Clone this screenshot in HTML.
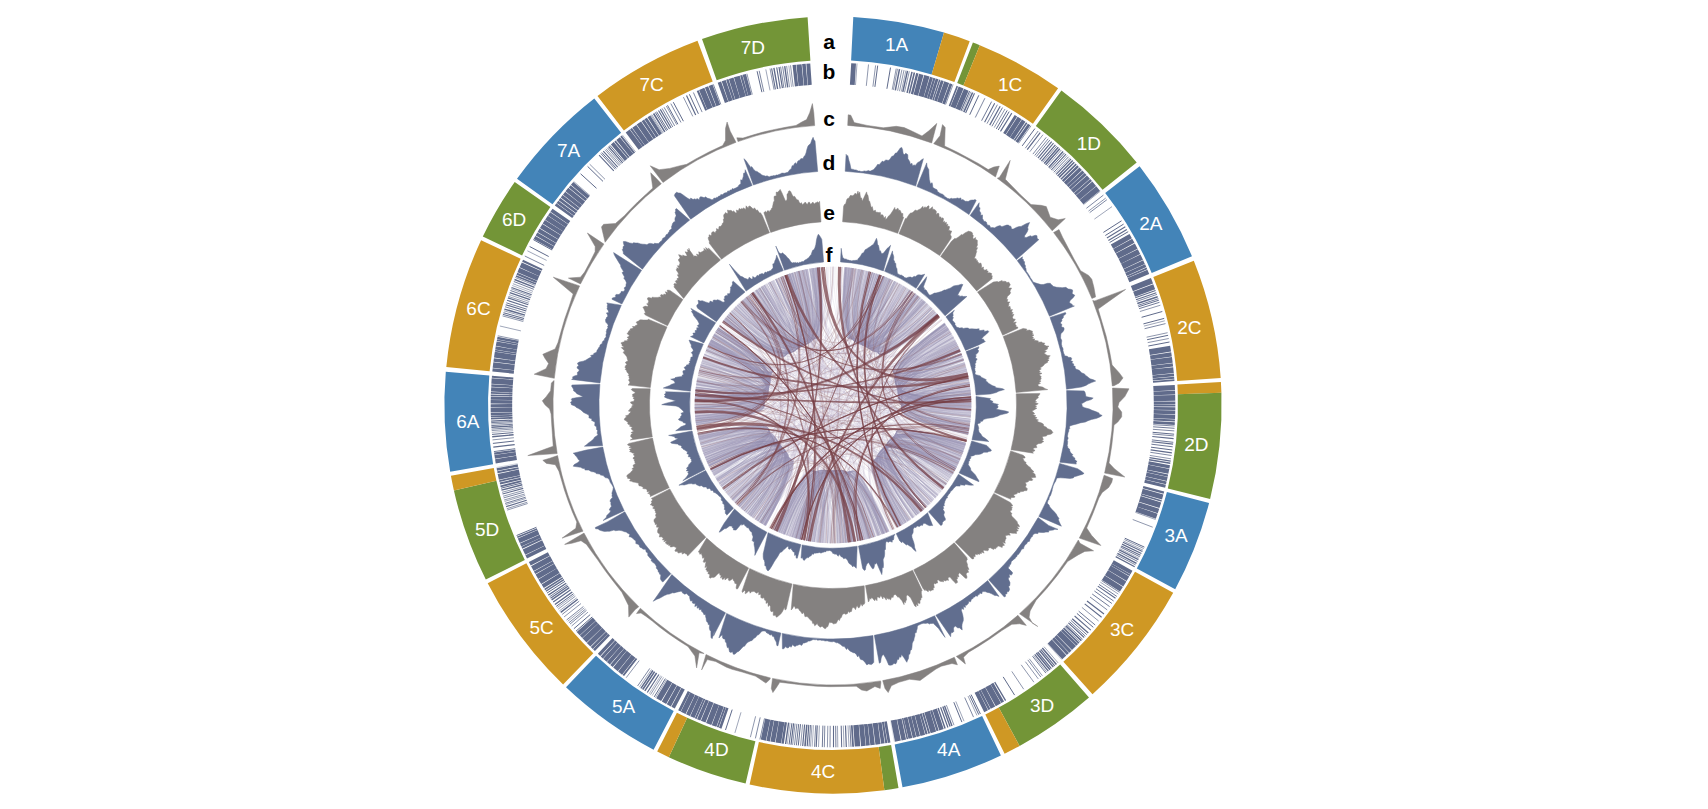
<!DOCTYPE html><html><head><meta charset="utf-8"><title>Circos</title><style>html,body{margin:0;padding:0;background:#fff}svg{display:block}.lb text{font-family:"Liberation Sans",Arial,sans-serif;font-size:19px;fill:#fff;text-anchor:middle;stroke-width:0px;stroke:none}.tl text{font-family:"Liberation Sans",Arial,sans-serif;font-size:21px;font-weight:bold;fill:#000;text-anchor:middle}</style></head><body><svg width="1708" height="809" viewBox="0 0 1708 809">
<rect width="1708" height="809" fill="#fff"/>
<path d="M853.3 16.9A388.6 388.6 0 0 1 944 32.6L931.6 74.4A345 345 0 0 0 851.1 60.5Z" fill="#4384b8"/>
<path d="M944 32.6A388.6 388.6 0 0 1 969.7 41.2L954.4 82.1A345 345 0 0 0 931.6 74.4Z" fill="#cf9824"/>
<path d="M972.9 42.5A388.6 388.6 0 0 1 979.8 45.2L963.4 85.6A345 345 0 0 0 957.2 83.1Z" fill="#739537"/>
<path d="M979.8 45.2A388.6 388.6 0 0 1 1058.1 88.2L1032.9 123.8A345 345 0 0 0 963.4 85.6Z" fill="#cf9824"/>
<path d="M1061.4 90.6A388.6 388.6 0 0 1 1136.7 162.6L1102.6 189.8A345 345 0 0 0 1035.8 125.9Z" fill="#739537"/>
<path d="M1139.6 166.3A388.6 388.6 0 0 1 1192 256.3L1151.7 273A345 345 0 0 0 1105.2 193.1Z" fill="#4384b8"/>
<path d="M1193.8 260.7A388.6 388.6 0 0 1 1220.7 377.9L1177.2 380.9A345 345 0 0 0 1153.3 276.9Z" fill="#cf9824"/>
<path d="M1220.9 382A388.6 388.6 0 0 1 1221.4 392.8L1177.8 394.2A345 345 0 0 0 1177.4 384.5Z" fill="#cf9824"/>
<path d="M1221.4 392.8A388.6 388.6 0 0 1 1210.1 499L1167.8 488.5A345 345 0 0 0 1177.8 394.2Z" fill="#739537"/>
<path d="M1209.1 503A388.6 388.6 0 0 1 1175.2 589.2L1136.8 568.6A345 345 0 0 0 1166.9 492Z" fill="#4384b8"/>
<path d="M1173.2 592.8A388.6 388.6 0 0 1 1092.5 694.2L1063.4 661.8A345 345 0 0 0 1135 571.7Z" fill="#cf9824"/>
<path d="M1089 697.4A388.6 388.6 0 0 1 1019.6 745.9L998.7 707.6A345 345 0 0 0 1060.2 664.6Z" fill="#739537"/>
<path d="M1019.6 745.9A388.6 388.6 0 0 1 1004.6 753.7L985.3 714.6A345 345 0 0 0 998.7 707.6Z" fill="#cf9824"/>
<path d="M1000.9 755.5A388.6 388.6 0 0 1 902.5 787.3L894.7 744.4A345 345 0 0 0 982.1 716.1Z" fill="#4384b8"/>
<path d="M898.5 788A388.6 388.6 0 0 1 884.4 790.2L878.6 747A345 345 0 0 0 891.1 745.1Z" fill="#739537"/>
<path d="M884.4 790.2A388.6 388.6 0 0 1 749.6 784.5L758.9 742A345 345 0 0 0 878.6 747Z" fill="#cf9824"/>
<path d="M745.6 783.6A388.6 388.6 0 0 1 668.8 757.2L687.2 717.7A345 345 0 0 0 755.4 741.2Z" fill="#739537"/>
<path d="M668.8 757.2A388.6 388.6 0 0 1 657.2 751.6L676.9 712.7A345 345 0 0 0 687.2 717.7Z" fill="#cf9824"/>
<path d="M653.6 749.7A388.6 388.6 0 0 1 566 687.3L596 655.7A345 345 0 0 0 673.7 711Z" fill="#4384b8"/>
<path d="M563.1 684.5A388.6 388.6 0 0 1 487.7 583.2L526.4 563.2A345 345 0 0 0 593.3 653.2Z" fill="#cf9824"/>
<path d="M485.8 579.6A388.6 388.6 0 0 1 453.9 490.4L496.4 480.8A345 345 0 0 0 524.8 560Z" fill="#739537"/>
<path d="M453.9 490.4A388.6 388.6 0 0 1 450.9 475.8L493.8 467.9A345 345 0 0 0 496.4 480.8Z" fill="#cf9824"/>
<path d="M450.2 471.8A388.6 388.6 0 0 1 445.8 371.8L489.3 375.5A345 345 0 0 0 493.1 464.3Z" fill="#4384b8"/>
<path d="M446.3 367.1A388.6 388.6 0 0 1 481.1 240.2L520.6 258.7A345 345 0 0 0 489.6 371.3Z" fill="#cf9824"/>
<path d="M482.8 236.5A388.6 388.6 0 0 1 514.7 182.1L550.4 207.1A345 345 0 0 0 522.1 255.4Z" fill="#739537"/>
<path d="M517 178.8A388.6 388.6 0 0 1 594.3 98.4L621.1 132.8A345 345 0 0 0 552.5 204.2Z" fill="#4384b8"/>
<path d="M597.5 95.9A388.6 388.6 0 0 1 697.5 40.8L712.7 81.6A345 345 0 0 0 623.9 130.6Z" fill="#cf9824"/>
<path d="M702 39.1A388.6 388.6 0 0 1 807.6 17.2L810.4 60.7A345 345 0 0 0 716.7 80.2Z" fill="#739537"/>
<g class="lb">
<text x="896.6" y="51.2">1A</text>
<text x="1010.2" y="91.3">1C</text>
<text x="1088.8" y="150.3">1D</text>
<text x="1150.8" y="229.9">2A</text>
<text x="1189.4" y="334">2C</text>
<text x="1196.3" y="450.7">2D</text>
<text x="1176.1" y="541.6">3A</text>
<text x="1122.1" y="636.1">3C</text>
<text x="1042.2" y="711.9">3D</text>
<text x="948.7" y="756.4">4A</text>
<text x="823.1" y="777.6">4C</text>
<text x="716.5" y="756.4">4D</text>
<text x="623.5" y="712.9">5A</text>
<text x="541.7" y="633.6">5C</text>
<text x="487.1" y="536.1">5D</text>
<text x="467.9" y="428">6A</text>
<text x="478.5" y="315">6C</text>
<text x="514.1" y="226.4">6D</text>
<text x="568.6" y="157.4">7A</text>
<text x="651.7" y="91.3">7C</text>
<text x="752.8" y="53.7">7D</text>
</g>
<path d="M890.5 720.6L894.3 741.8" stroke="#606b8b" stroke-width="0.2" fill="none"/>
<path d="M517.6 463.6L496.5 467.5" stroke="#606b8b" stroke-width="0.3" fill="none"/>
<path d="M1047.4 643.6L1061.7 659.6" stroke="#606b8b" stroke-width="0.4" fill="none"/>
<path d="M1055 173.4L1069.9 157.9M1119.8 548.7L1139 558.3M813.5 725.2L812.2 746.7M790.1 722.9L787.3 744.2M663.5 677.4L652.2 695.6M660.7 675.6L649.2 693.8M513.2 430.7L491.8 432.4M532.4 293L512.2 285.5M635.7 152L622.5 135.1M791.6 86.9L788.8 65.6" stroke="#606b8b" stroke-width="0.5" fill="none"/>
<path d="M855.5 85L857 63.5M901.3 91.6L905.9 70.5M962.2 111.4L970.9 91.7M1052.6 171.1L1067.3 155.4M1083.5 204.6L1100.3 191.2M1094.4 219.1L1112 206.6M1143.9 326.1L1164.8 320.8M1135.3 512.3L1155.6 519.5M1123.5 541L1143 550.1M1100.4 582.2L1118.3 594.1M1044 646.7L1058.1 662.9M1033.5 655.4L1046.9 672.2M968 696L977 715.5M955.8 701.4L964 721.2M848 725.4L849 746.9M843.3 725.6L844 747.1M837.5 725.8L837.8 747.3M819.4 725.5L818.5 747M811.9 725.1L810.5 746.6M741 712.3L734.9 732.9M666.6 679.3L655.5 697.7M651.5 669.5L639.3 687.2M584.4 607.8L567.7 621.3M576.7 597.9L559.5 610.8M574.5 594.9L557.1 607.6M526.1 498.4L505.5 504.7M525.2 495.4L504.6 501.4M520.9 330.9L499.9 326M524.6 316.7L503.9 310.8M529.3 301.5L509 294.6M531.3 296.1L511 288.8M533 291.3L512.9 283.7M546.6 260.4L527.4 250.8M590 195.6L573.7 181.5M662.3 133.4L650.9 115.2M663.2 132.9L651.8 114.6M770 90.4L765.8 69.4" stroke="#606b8b" stroke-width="0.6" fill="none"/>
<path d="M866.3 85.9L868.5 64.5M872.9 86.7L875.6 65.4M892.2 89.7L896.2 68.6M893.4 89.9L897.5 68.8M897.6 90.8L901.9 69.7M899.5 91.2L904 70.1M904.5 92.3L909.3 71.3M945.6 104.6L953.1 84.5M994.2 127.6L1005 109M1018.6 143.3L1031 125.8M1029.8 151.7L1043 134.7M1047 166L1061.3 150M1088.5 211.1L1105.7 198.1M1139.9 311.5L1160.4 305.2M1146.6 337.2L1167.6 332.7M1147.7 342.6L1168.8 338.5M1149.8 455.4L1171 458.8M1132.7 519.5L1152.7 527.2M1124.3 539.5L1143.8 548.5M1081.9 607.4L1098.6 621M1064.6 627L1080.1 641.9M1029.3 658.8L1042.4 675.8M1025.4 661.7L1038.3 678.9M1021.2 664.8L1033.9 682.2M1011.8 671.4L1023.7 689.2M946.4 705.1L954 725.2M827.8 725.8L827.4 747.3M802.6 724.4L800.6 745.8M795.1 723.6L792.6 744.9M755.6 716.3L750.4 737.2M661.9 676.4L650.5 694.6M639.2 660.6L626.2 677.7M588 612.1L571.6 626M581 603.5L564.1 616.9M575.4 596.2L558.2 609.1M527.7 503.5L507.2 510.1M527.3 502.2L506.8 508.7M524.8 494L504.1 500M523.8 490.4L503.1 496.2M522.8 486.8L502 492.3M513.9 437.7L492.5 439.9M513.1 429L491.7 430.6M512.7 422.8L491.2 424M518.8 340.1L497.8 335.8M523.3 321.5L502.5 315.9M528.8 303.2L508.4 296.4M535.3 285.5L515.3 277.5M605 179.3L589.7 164.2M619.3 165.8L605 149.7M620.3 164.9L606 148.8M676.8 124.8L666.3 106M692.8 116.4L683.4 97.1M752.3 94.5L746.9 73.7M774 89.7L770 68.5M789.5 87.2L786.6 65.9M793.2 86.7L790.5 65.3" stroke="#606b8b" stroke-width="0.7" fill="none"/>
<path d="M975.3 117.5L984.9 98.2M987 123.6L997.4 104.7M1025.3 148.2L1038.2 131M1032.9 154.1L1046.3 137.3M1034.7 155.5L1048.2 138.8M1042.7 162.2L1056.8 146M1086.4 208.3L1103.4 195.1M1089.7 212.6L1106.9 199.7M1136.6 301.4L1157 294.4M1144.6 328.7L1165.5 323.6M1153.2 424.7L1174.7 426M1152.9 429.3L1174.3 430.9M1152.5 434L1173.9 435.9M1150.3 452.3L1171.6 455.5M1116.6 554.9L1135.6 564.9M1101.5 580.6L1119.5 592.3M1090 597L1107.2 609.9M1027.8 659.9L1040.8 677M964.7 697.5L973.5 717.1M830.2 725.8L830 747.3M824.8 725.7L824.3 747.2M815.7 725.3L814.5 746.8M796.9 723.8L794.5 745.1M764.5 718.4L759.9 739.4M760.2 717.4L755.4 738.4M649.8 668.4L637.6 686M586.5 610.3L570 624.1M585.5 609.1L568.9 622.8M583.4 606.5L566.6 620M579.2 601.2L562.2 614.4M524.2 492.1L503.6 497.9M513 427.6L491.5 429.1M525.7 313L505.1 306.8M544.2 265.4L524.8 256M621.4 163.8L607.3 147.7M672.8 127L662.1 108.4M674.7 126L664.1 107.3M681 122.5L670.8 103.6M702.1 112.1L693.4 92.5M720.8 104.4L713.3 84.3M763.8 91.8L759.2 70.8M783.9 88L780.6 66.7M785.8 87.7L782.6 66.4" stroke="#606b8b" stroke-width="0.8" fill="none"/>
<path d="M981.6 120.7L991.6 101.6M991.9 126.3L1002.5 107.6M1036.2 156.7L1049.8 140.1M1053.8 172.3L1068.6 156.7M1137.9 305.4L1158.4 298.7M1139 308.7L1159.5 302.3M1153.1 426.8L1174.5 428.3M1151.9 439.9L1173.3 442.3M1151.4 444.2L1172.7 446.8M1120.6 547.2L1139.8 556.8M1118.4 551.5L1137.5 561.4M1099 584.4L1116.8 596.4M1096 588.7L1113.6 601M1094.4 591L1111.9 603.5M1092.2 594L1109.6 606.6M1078.7 611.2L1095.2 625M1070.8 620.3L1086.8 634.7M1069.5 621.7L1085.4 636.2M1066.9 624.6L1082.6 639.3M1032.5 656.2L1045.9 673.1M849.9 725.4L851 746.8M835.7 725.8L835.9 747.3M822.9 725.6L822.3 747.1M810.5 725L809 746.5M798.7 724L796.4 745.3M567.3 584.8L549.5 596.8M525.7 497.2L505.1 503.4M515.2 448.7L493.9 451.6M512.8 424.3L491.3 425.6M512.6 421.5L491.2 422.6M526.8 309.2L506.3 302.8M530.7 297.7L510.4 290.5M533.8 289.3L513.8 281.5M615.4 169.3L600.8 153.5" stroke="#606b8b" stroke-width="0.9" fill="none"/>
<path d="M874.9 86.9L877.7 65.6M886.9 88.8L890.5 67.6M969.7 114.8L978.8 95.3M996.3 128.9L1007.2 110.4M998.2 130L1009.2 111.6M1022.2 145.9L1034.9 128.6M1050 168.7L1064.5 152.9M1103.4 232.4L1121.5 220.8M1105.3 235.5L1123.6 224.1M1109.6 242.5L1128.2 231.7M1138.4 306.8L1158.9 300.2M1141.6 317.3L1162.3 311.5M1143.4 323.9L1164.2 318.4M1147.1 339.7L1168.1 335.3M1148.3 346L1169.5 342M1152.6 432.3L1174.1 434.2M1151 447.2L1172.3 450M1124.8 538.2L1144.4 547.1M1076.9 613.4L1093.3 627.3M1003.2 676.9L1014.6 695.1M971.1 694.6L980.4 714M969.6 695.3L978.8 714.7M953.8 702.2L961.9 722.1M841.2 725.7L841.7 747.2M800.5 724.2L798.3 745.5M791.9 723.2L789.1 744.5M732.2 709.6L725.5 730M665.4 678.6L654.2 696.9M592.2 616.9L576 631.2M590.2 614.6L573.9 628.7M573.6 593.7L556.2 606.4M565 581.3L547 593.1M536.4 527.3L516.6 535.5M521.8 483L501 488.2M514.2 441L492.9 443.4M513.4 432.6L492 434.4M523.7 320L502.9 314.4M548.7 256.5L529.6 246.5M552.1 250L533.3 239.6M596.5 188.3L580.6 173.8M603 181.4L587.6 166.4M616.4 168.4L601.8 152.5M623.9 161.7L609.9 145.4M666.5 130.8L655.3 112.4M667.7 130.1L656.6 111.7M677.9 124.2L667.5 105.3M683.4 121.2L673.3 102.2M698.4 113.8L689.4 94.3M761.9 92.2L757.1 71.2" stroke="#606b8b" stroke-width="1.0" fill="none"/>
<path d="M961 110.8L969.6 91.1M965.6 112.9L974.5 93.3M984.6 122.3L994.7 103.3M1000.5 131.4L1011.8 113.1M1039.7 159.6L1053.5 143.2M1051.3 170L1066 154.2M1056.1 174.4L1071 159M1106.9 238L1125.3 226.8M1135.3 297.7L1155.6 290.5M1136 299.7L1156.3 292.7M1152.3 436.5L1173.6 438.6M1151.7 441.7L1173.1 444.1M1150.6 449.9L1171.9 452.9M1149.5 457.6L1170.7 461.1M1122.9 542.3L1142.4 551.5M1121.2 545.9L1140.5 555.3M1097.8 586.1L1115.5 598.2M1084.7 603.9L1101.6 617.2M1074.6 616L1090.8 630.2M1040.8 649.4L1054.7 665.8M833.5 725.8L833.5 747.3M523.2 488.4L502.5 494M524.1 318.5L503.4 312.7M527.6 306.9L507.1 300.3M531.7 294.8L511.5 287.4M613.8 170.8L599.1 155.1M617.7 167.1L603.3 151.2M669.5 129L658.5 110.5M775.4 89.4L771.6 68.3M780.2 88.6L776.7 67.4" stroke="#606b8b" stroke-width="1.1" fill="none"/>
<path d="M989.7 125.1L1000.2 106.3M1027.2 149.7L1040.2 132.6M1037.9 158.2L1051.7 141.6M1108.4 240.4L1126.8 229.4M1115.7 556.6L1134.7 566.7M1087 601L1104 614.1M1068.4 622.9L1084.2 637.5M1037.7 652L1051.4 668.6M940.6 707.2L947.9 727.5M845.5 725.6L846.3 747M817.2 725.4L816.2 746.9M808.8 724.9L807.2 746.3M804.6 724.5L802.7 746M793.6 723.4L791 744.7M658.9 674.5L647.3 692.5M570.7 589.8L553.2 602.1M568.2 586.1L550.5 598.3M526.7 500.3L506.1 506.6M514.7 444.6L493.3 447.2M512.6 420.1L491.1 421.1M526.3 311L505.7 304.7M528.3 304.7L507.9 297.9M622.7 162.8L608.6 146.5M671.2 128L660.3 109.4M695.7 115.1L686.5 95.6M782.4 88.2L779 67" stroke="#606b8b" stroke-width="1.2" fill="none"/>
<path d="M1041.4 161.1L1055.4 144.8M1122 544.2L1141.4 553.5M1119.2 549.9L1138.4 559.6M1072.2 618.7L1088.3 633M1034.7 654.4L1048.3 671.1M994.7 682.1L1005.6 700.6M566.2 583.2L548.3 595.1M563.9 579.6L545.9 591.3" stroke="#606b8b" stroke-width="1.3" fill="none"/>
<path d="M1045.6 164.8L1059.8 148.7M1057.6 176L1072.7 160.6M1149.1 459.7L1170.3 463.3M1039.5 650.5L1053.3 667M944.5 705.8L952 725.9M942.8 706.4L950.1 726.6M788.6 722.7L785.6 744M577.8 599.3L560.7 612.4M569.3 587.6L551.6 599.9M522.3 484.8L501.4 490.1M513.6 434.8L492.2 436.8M512.9 425.9L491.4 427.3M530 299.6L509.7 292.6M534.5 287.4L514.5 279.5M777.6 89L773.9 67.8M787.7 87.4L784.7 66.1" stroke="#606b8b" stroke-width="1.4" fill="none"/>
<path d="M895.3 90.3L899.5 69.2M902.8 91.9L907.5 70.9M907.1 92.9L912 71.9M933 100.2L939.7 79.8M1044.2 163.5L1058.3 147.3M1048.7 167.5L1063.1 151.6M1137.3 303.5L1157.7 296.7M1117.4 553.4L1136.5 563.4M1042.3 648.1L1056.4 664.4M1036.3 653.1L1050 669.8M938.1 708.1L945.1 728.4M656.6 673L644.8 690.9M652.9 670.5L640.9 688.3M572.3 592L554.9 604.5M562.8 577.9L544.7 589.5M537.1 529L517.3 537.3M525 315.1L504.4 309.1" stroke="#606b8b" stroke-width="1.5" fill="none"/>
<path d="M909.3 93.4L914.4 72.5M949.5 106.1L957.3 86.1M963.8 112.1L972.6 92.5M1014.5 140.5L1026.7 122.8M1059.1 177.4L1074.3 162.2M1060.9 179.2L1076.2 164.1M1141 494.8L1161.6 500.9M1065.8 625.8L1081.4 640.6M902.7 718.1L907.4 739.1M806.8 724.7L805 746.2M654.6 671.6L642.7 689.5M520.2 476.4L499.3 481.1M512.3 395.8L490.8 395.2M516.3 354L495.1 350.6M518 344.3L496.9 340.3M535.9 284L516 275.9M664.8 131.8L653.6 113.5" stroke="#606b8b" stroke-width="1.6" fill="none"/>
<path d="M1153 381.8L1174.4 380.2M1063.5 628.1L1078.9 643.1M512.4 415.7L490.9 416.4" stroke="#606b8b" stroke-width="1.7" fill="none"/>
<path d="M1127.2 277L1146.9 268.4M1111.3 564.6L1129.9 575.3M851.8 725.2L853.1 746.7M512.5 417.8L491 418.7" stroke="#606b8b" stroke-width="1.8" fill="none"/>
<path d="M923.1 712.9L929.2 733.5M725 707.1L717.7 727.3M704.4 698.9L695.7 718.6M521.4 481.2L500.5 486.3M518.5 468.1L497.4 472.3M512.4 393.7L490.9 392.9M513.3 378.5L491.9 376.7M628.7 157.7L615 141.1M634.3 153.1L621 136.2" stroke="#606b8b" stroke-width="1.9" fill="none"/>
<path d="M1152.8 379.5L1174.2 377.8M1153.5 419.6L1174.9 420.6M636.5 658.5L623.3 675.5" stroke="#606b8b" stroke-width="2.0" fill="none"/>
<path d="M1146.9 471.1L1167.9 475.6M882.9 721.9L886.3 743.1M541.4 538.8L521.9 547.8M520.8 478.7L499.9 483.6M542.1 269.9L522.6 260.8M706.2 110.3L697.7 90.6" stroke="#606b8b" stroke-width="2.1" fill="none"/>
<path d="M928 98.6L934.4 78.1M1153.8 405.4L1175.3 405.5M920.7 713.6L926.6 734.3M515.5 450.7L494.2 453.7M512.3 413.5L490.8 414.1M536.7 282L516.9 273.8" stroke="#606b8b" stroke-width="2.2" fill="none"/>
<path d="M1062.7 181.1L1078.1 166.1M931.1 710.4L937.6 730.9M643.7 146L631 128.6M747 96L741.2 75.2" stroke="#606b8b" stroke-width="2.3" fill="none"/>
<path d="M912 94.1L917.3 73.2M1061.9 629.8L1077.2 644.9M979.5 690.4L989.4 709.5M785.8 722.3L782.6 743.6M517.9 465.5L496.8 469.5M733.9 99.9L727.3 79.4" stroke="#606b8b" stroke-width="2.4" fill="none"/>
<path d="M1143.1 487.1L1163.9 492.6M512.7 386.7L491.3 385.5M518.4 342.1L497.3 337.9" stroke="#606b8b" stroke-width="2.5" fill="none"/>
<path d="M1153.8 402.8L1175.3 402.7M727.3 707.9L720.2 728.2M609 634.7L594 650.1" stroke="#606b8b" stroke-width="2.6" fill="none"/>
<path d="M1074.9 194.3L1091.1 180.1M885.5 721.5L889.1 742.7M689 691.7L679.4 710.9M573 217L555.6 204.4" stroke="#606b8b" stroke-width="2.7" fill="none"/>
<path d="M1069.7 188.5L1085.6 174M1152.6 376.8L1174 374.9M1153.8 408.4L1175.3 408.6M607 632.7L591.8 647.9M576.7 212L559.5 199.1" stroke="#606b8b" stroke-width="2.8" fill="none"/>
<path d="M930.6 99.4L937.1 78.9M943.6 103.9L951 83.7M1004.4 133.8L1015.9 115.7M1153.3 422.4L1174.8 423.6M1053.2 638.3L1067.9 654M512.2 405.5L490.7 405.6M574.8 214.6L557.5 201.8M586.2 200L569.7 186.3M654.8 138.2L642.9 120.4" stroke="#606b8b" stroke-width="2.9" fill="none"/>
<path d="M935.5 101L942.3 80.6M1016.8 142.1L1029.1 124.5M1067.6 186.2L1083.4 171.6M1145.4 478L1166.3 482.9M616.3 641.5L601.8 657.4M553.4 562.2L534.6 572.8M578.7 209.4L561.7 196.3M657.5 136.5L645.7 118.5" stroke="#606b8b" stroke-width="3.0" fill="none"/>
<path d="M925.3 97.8L931.5 77.2M1126 274.5L1145.7 265.7M1144.6 481.2L1165.5 486.3M1055.5 636.1L1070.4 651.6M992 683.6L1002.7 702.3M512.3 398.5L490.8 398.1" stroke="#606b8b" stroke-width="3.1" fill="none"/>
<path d="M625.4 649.6L611.5 666M613.7 639.2L599 654.9M540.3 536.2L520.6 545M516.7 351.4L495.5 347.9" stroke="#606b8b" stroke-width="3.2" fill="none"/>
<path d="M513.9 372.1L492.5 369.9M660.5 134.5L648.9 116.4" stroke="#606b8b" stroke-width="3.3" fill="none"/>
<path d="M1151.6 367.5L1172.9 364.9M1148.5 462.9L1169.7 466.8M909.4 716.6L914.5 737.5M596.9 622.2L581.1 636.8M553.3 247.9L534.5 237.4M796.6 86.3L794.2 64.9" stroke="#606b8b" stroke-width="3.4" fill="none"/>
<path d="M912.9 715.7L918.3 736.5M515 362.7L493.7 359.9M555.1 244.7L536.5 234M714.4 106.9L706.5 86.9M749.9 95.2L744.3 74.4" stroke="#606b8b" stroke-width="3.5" fill="none"/>
<path d="M1065.1 183.6L1080.7 168.7M1153.7 411.9L1175.2 412.4M879.8 722.4L882.9 743.6M772.2 720L768.1 741.1M707.2 700.1L698.7 719.9M545.5 547.3L526.2 556.9M515.9 453.7L494.7 456.9M512.2 402L490.7 401.8M588.5 197.3L572.1 183.4M726.6 102.4L719.4 82.1M805.8 85.4L803.9 63.9" stroke="#606b8b" stroke-width="3.6" fill="none"/>
<path d="M865.8 724.1L868 745.5M569.2 222.5L551.5 210.2M581 206.5L564.1 193.2M626.2 159.8L612.3 143.3" stroke="#606b8b" stroke-width="3.7" fill="none"/>
<path d="M683.1 688.6L673.1 707.6" stroke="#606b8b" stroke-width="3.8" fill="none"/>
<path d="M1153.6 393.4L1175.1 392.6M905.5 717.5L910.4 738.4M622.5 647.1L608.4 663.3M557.1 241.3L538.6 230.3M566.9 225.8L549.1 213.8M809.8 85L808.3 63.6" stroke="#606b8b" stroke-width="3.9" fill="none"/>
<path d="M1124.5 271L1144 262.1M1146.2 474.4L1167.2 479M1112.8 562L1131.5 572.5M548.8 553.9L529.8 563.8" stroke="#606b8b" stroke-width="4.0" fill="none"/>
<path d="M560.9 574.9L542.7 586.3M718.3 105.4L710.6 85.3" stroke="#606b8b" stroke-width="4.1" fill="none"/>
<path d="M1011.7 138.6L1023.7 120.7M1150.3 357.5L1171.5 354.3M1153.6 416.1L1175.1 416.9M976.5 691.9L986.1 711.2M697.1 695.6L688 715.1M516.6 457.9L495.4 461.4M562 233.3L543.8 221.8M730.6 101L723.7 80.6" stroke="#606b8b" stroke-width="4.2" fill="none"/>
<path d="M512.5 390.4L491.1 389.4" stroke="#606b8b" stroke-width="4.4" fill="none"/>
<path d="M1072.3 191.4L1088.4 177.1M870.1 723.7L872.6 745M619.2 644.2L604.9 660.2M594.2 619.2L578.2 633.6M517.4 347.5L496.2 343.6M583.7 203.2L566.9 189.6" stroke="#606b8b" stroke-width="4.5" fill="none"/>
<path d="M915.8 95.1L921.3 74.3M1128.5 280.2L1148.3 271.8M934.7 709.3L941.5 729.7M899.3 718.9L903.8 739.9M701.2 697.5L692.4 717.1M679.1 686.5L668.8 705.3M631.6 155.3L618.1 138.6" stroke="#606b8b" stroke-width="4.6" fill="none"/>
<path d="M1007.9 136.1L1019.6 118M1114.4 251.1L1133.3 240.7M1138 504.4L1158.5 511.1M861.4 724.5L863.4 746M776.5 720.8L772.7 741.9M538.2 278.5L518.4 270M559.5 237.3L541.2 226.1M564.5 229.5L546.5 217.7" stroke="#606b8b" stroke-width="4.7" fill="none"/>
<path d="M852.3 84.8L853.6 63.3M917.2 714.6L922.8 735.3M538.5 532.2L518.8 540.8M737.6 98.7L731.2 78.2" stroke="#606b8b" stroke-width="4.8" fill="none"/>
<path d="M1112 246.7L1130.7 236.1M721.5 705.8L714.1 726M711.3 701.8L703.2 721.7M512.2 409.7L490.7 410M646.8 143.8L634.3 126.3" stroke="#606b8b" stroke-width="4.9" fill="none"/>
<path d="M957.9 109.5L966.3 89.7M1147.7 467.3L1168.8 471.4M983 688.6L993 707.6M674.6 684L664 702.7M633.5 656.2L620.1 673.1M640.6 148.3L627.7 131.1" stroke="#606b8b" stroke-width="5.0" fill="none"/>
<path d="M1142 491.2L1162.7 497M875.2 723L878 744.3M604 629.6L588.6 644.7" stroke="#606b8b" stroke-width="5.1" fill="none"/>
<path d="M939.5 102.4L946.7 82.1M1153.4 388.7L1174.9 387.6M1109.4 567.8L1127.9 578.7M767.7 719.1L763.3 740.1M692.6 693.5L683.2 712.8M555.5 565.9L536.9 576.7M801.1 85.8L799 64.4" stroke="#606b8b" stroke-width="5.2" fill="none"/>
<path d="M953 107.5L961.1 87.6M1136.4 509.3L1156.7 516.3" stroke="#606b8b" stroke-width="5.3" fill="none"/>
<path d="M1134.1 294.2L1154.2 286.8M1103.3 577.7L1121.4 589.3M558.2 570.6L539.8 581.7M540.3 273.7L520.7 264.9M651.1 140.8L638.9 123" stroke="#606b8b" stroke-width="5.4" fill="none"/>
<path d="M921 96.5L926.9 75.8M1119.8 261.2L1139 251.6M856 725L857.5 746.4M551.3 558.4L532.4 568.7M513 382.5L491.5 381" stroke="#606b8b" stroke-width="5.5" fill="none"/>
<path d="M1049.8 641.5L1064.3 657.3M781.7 721.7L778.3 742.9M716.5 703.9L708.7 723.9M514.4 367.5L493 365" stroke="#606b8b" stroke-width="5.6" fill="none"/>
<path d="M1077.7 197.6L1094.2 183.7M1081.5 202.1L1098.1 188.5M1153.7 398.3L1175.2 397.9M1058.8 632.8L1074 648.1M927.1 711.7L933.4 732.3M669.7 681.1L658.7 699.6M709.9 108.7L701.7 88.9" stroke="#606b8b" stroke-width="5.7" fill="none"/>
<path d="M1131.9 288.6L1152 280.8M1149.4 352.2L1170.6 348.7M600.1 625.6L584.5 640.4M519.4 472.4L498.3 476.9M515.7 357.8L494.4 354.6" stroke="#606b8b" stroke-width="5.8" fill="none"/>
<path d="M1117.1 256L1136.2 246.1M1122.3 266.4L1141.7 257.1M1151 362.6L1172.3 359.8M1152.1 372.3L1173.5 370.1M1139.8 498.9L1160.3 505.2M1106.5 572.7L1124.8 584M629.1 652.7L615.5 669.3M543.4 542.9L524 552.2" stroke="#606b8b" stroke-width="5.9" fill="none"/>
<path d="M988 685.9L998.4 704.7M893.8 720L897.9 741.1M742.9 97.1L736.8 76.5" stroke="#606b8b" stroke-width="6.0" fill="none"/>
<path d="M847.7 125.4L848.2 114.8L850.8 115.2L854.2 122.6L867.1 125.4L883.3 127.8L896.3 126.3L904.2 127.6L912.8 131.5L922 136L928.9 130.8L936.8 123.4L931.7 143A280 280 0 0 0 847.7 125.4Z" fill="#848180" stroke="#848180" stroke-width="0.5" stroke-linejoin="round"/>
<path d="M933.7 143.7L940 135.7L942.5 124.6L945.2 127.6L944.6 146L957.5 152.3L978.3 163.4L988.2 169.6L993.7 167.1L999.3 166.1L995.5 177A280 280 0 0 0 933.7 143.7Z" fill="#848180" stroke="#848180" stroke-width="0.5" stroke-linejoin="round"/>
<path d="M997.3 178.2L999.3 177.6L1010.2 160.4L1005.3 179.3L1020.1 194.4L1031 204.6L1041 205.3L1046.3 206.6L1050.2 217.2L1058.2 219.8L1065.3 218.5L1052.2 230.8A280 280 0 0 0 997.3 178.2Z" fill="#848180" stroke="#848180" stroke-width="0.5" stroke-linejoin="round"/>
<path d="M1053.6 232.5L1059 229.6L1062.7 237.5L1074.4 259.8L1080.6 270.7L1088.6 275.4L1091.8 279.3L1093.9 287.3L1095.6 296.9L1091.9 298.4A280 280 0 0 0 1053.6 232.5Z" fill="#848180" stroke="#848180" stroke-width="0.5" stroke-linejoin="round"/>
<path d="M1092.7 300.4L1094.8 300.9L1125.6 289.4L1098.2 309L1099.9 315L1106.2 336.3L1109.7 352L1112.1 365L1119.1 372.7L1123 377.9L1119.1 383.1L1114 385.7L1112.3 385.9A280 280 0 0 0 1092.7 300.4Z" fill="#848180" stroke="#848180" stroke-width="0.5" stroke-linejoin="round"/>
<path d="M1112.5 388L1129 388.8L1124.8 396.6L1119.1 402.5L1117.8 406.9L1121.7 412.1L1121.7 416.8L1117.8 422L1114 425.1L1111.8 445.2L1109 462.9L1114.4 468.7L1124.8 477L1104.6 473.1A280 280 0 0 0 1112.5 388Z" fill="#848180" stroke="#848180" stroke-width="0.5" stroke-linejoin="round"/>
<path d="M1104.1 475.2L1112.6 478.6L1111.8 482.2L1108.7 487.4L1102.2 492.6L1098.9 497.9L1092.8 513.8L1086.7 528L1091.5 535.3L1100.9 545.5L1079.3 538.1A280 280 0 0 0 1104.1 475.2Z" fill="#848180" stroke="#848180" stroke-width="0.5" stroke-linejoin="round"/>
<path d="M1078.3 540L1080 543.3L1093.6 550.8L1084.8 551.4L1078.1 554.9L1067.5 561.6L1057.3 575.4L1046.7 588.5L1036.1 600.2L1030.1 610.9L1029.1 617.3L1032.5 623.3L1037.8 626.5L1019.5 613.8A280 280 0 0 0 1078.3 540Z" fill="#848180" stroke="#848180" stroke-width="0.5" stroke-linejoin="round"/>
<path d="M1017.9 615.3L1019 616.6L1026.3 625.4L1019.6 623.8L1011.9 624.3L1001.8 630.6L989.8 639L978.3 646.4L968.7 652.2L963.5 657.2L965.4 664L956.3 656.4A280 280 0 0 0 1017.9 615.3Z" fill="#848180" stroke="#848180" stroke-width="0.5" stroke-linejoin="round"/>
<path d="M954.3 657.3L955.1 658.9L957.4 664.8L952 663.5L941.3 666.2L936 669L927.5 675.1L920.1 680.4L909.5 679.3L898.8 682.3L891.4 685.7L888.2 692.6L885 688.4L882.7 680.6A280 280 0 0 0 954.3 657.3Z" fill="#848180" stroke="#848180" stroke-width="0.5" stroke-linejoin="round"/>
<path d="M880.6 680.9L880.9 682.7L880.2 688.4L874.9 686.5L866.9 691L861.6 690L856.3 686.2L843 686.5L829.7 686.7L816.4 686.2L803 685.1L789.8 683.4L779.8 682.3L775.8 688.4L772.9 692.6L771.3 688.4L772.5 678.4A280 280 0 0 0 880.6 680.9Z" fill="#848180" stroke="#848180" stroke-width="0.5" stroke-linejoin="round"/>
<path d="M770.4 677.9L769.8 679.5L765.9 683.1L758 677.7L755.3 676.1L742.1 672L732 669.3L726.5 667.2L715.7 661.5L707.3 659.6L704.8 664.1L701.6 669.9L706 654.5A280 280 0 0 0 770.4 677.9Z" fill="#848180" stroke="#848180" stroke-width="0.5" stroke-linejoin="round"/>
<path d="M704.1 653.5L699.1 652.8L696.6 667.9L694.9 656.1L688 646.5L679.2 641L668.2 633.5L659.8 627.2L652.3 621.1L645.8 616.2L641 613L636.5 613.6L640.3 608.2A280 280 0 0 0 704.1 653.5Z" fill="#848180" stroke="#848180" stroke-width="0.5" stroke-linejoin="round"/>
<path d="M638.8 606.7L635.2 609.6L628.8 617.1L628.5 605.6L621.9 592.3L612.4 580.2L604.9 570.3L597.5 559.6L591.6 551.6L586.5 544.4L581 540.7L571.9 543.3L564.6 544.4L584 533.1A280 280 0 0 0 638.8 606.7Z" fill="#848180" stroke="#848180" stroke-width="0.5" stroke-linejoin="round"/>
<path d="M583 531.2L562.1 538.1L575.8 528.3L576.8 522.1L572.3 511.7L568.1 500.7L564.4 489.9L561.2 479L558.9 471.2L555.3 464.7L546.5 463.4L542.8 460.3L549.9 458.2L557.6 455.6A280 280 0 0 0 583 531.2Z" fill="#848180" stroke="#848180" stroke-width="0.5" stroke-linejoin="round"/>
<path d="M557.2 453.5L527.8 455.6L546 448.8L553.2 446.2L552.4 434.3L551.7 423.9L551.1 414.1L549.6 408.9L544.9 404.7L542.3 400.8L546 396.9L550.6 390.7L551.4 382.9L554.1 380.5A280 280 0 0 0 557.2 453.5Z" fill="#848180" stroke="#848180" stroke-width="0.5" stroke-linejoin="round"/>
<path d="M554.3 378.3L534.2 374.2L546 368.7L548.6 363.5L544.9 358.2L542.8 354.3L548.6 351.7L555.1 349L558 342.5L560.9 332.1L564.7 319L569.2 306.2L573.2 294L553.3 277.2L579.6 285.9A280 280 0 0 0 554.3 378.3Z" fill="#848180" stroke="#848180" stroke-width="0.5" stroke-linejoin="round"/>
<path d="M580.5 283.9L568.4 278.1L580.5 277.2L584.6 272.1L590.1 261.8L595.1 251.7L595.2 246.6L587.4 233L603.9 244.1A280 280 0 0 0 580.5 283.9Z" fill="#848180" stroke="#848180" stroke-width="0.5" stroke-linejoin="round"/>
<path d="M605.1 242.3L601.5 226.9L603.6 224.3L615.4 223.5L624.4 215.7L629.8 209.9L637.7 202L645.8 194.5L646.2 194.2L652.8 188.1L650.7 172.8L656.5 178.6L661.3 183.8A280 280 0 0 0 605.1 242.3Z" fill="#848180" stroke="#848180" stroke-width="0.5" stroke-linejoin="round"/>
<path d="M663 182.5L650.2 165.8L659.1 169.7L669.7 168.4L680.2 165.7L686.7 164.3L695.9 158.9L709.4 151.8L722.7 145.5L725.5 140.4L725.5 128.6L727.1 122L730.2 131.2L736 142.3A280 280 0 0 0 663 182.5Z" fill="#848180" stroke="#848180" stroke-width="0.5" stroke-linejoin="round"/>
<path d="M738 141.6L736.8 137.8L743 138.1L753.5 134.8L764.2 131.8L774.8 129.4L785.5 127.3L796 125.4L801.3 122.3L806.6 119.6L809.7 112.8L812.4 103.6L813.8 112.8L814.7 125.6A280 280 0 0 0 738 141.6Z" fill="#848180" stroke="#848180" stroke-width="0.5" stroke-linejoin="round"/>
<path d="M845.2 171.3L846.1 154.3L846.9 156L847.8 155.5L848.9 160.2L850 163.9L851 169.1L852.3 169.2L853.5 169.4L854.7 169.9L856 169.9L857.2 170.4L858.4 171L859.7 171L860.9 171.5L862.1 171.6L863.4 171.2L864.6 170.9L865.8 171.2L867 171.1L868.3 170.5L869.5 171L870.7 170.9L872 170.3L873.3 169.7L874.8 168.2L876.4 166.2L878 164L879 165L880.7 162.9L882.4 161.1L883.7 161.8L885.4 160.2L886.8 160L888.1 160.5L889.7 159.6L891.9 156.3L893.4 156L895.5 153L896.7 153L898.5 150.5L900.3 148L901.7 147.4L902.6 149.6L903.1 153.2L904.2 154.8L905.7 153.3L906.6 153.8L907.8 154.7L907.9 158.7L908.9 160.2L909.8 161.7L910.3 164.2L912 163.3L912.5 165.8L914.1 164.9L915.3 165.4L917.8 162.4L919.4 161.7L921.6 159.8L923.4 158.7L915.7 186.1A234 234 0 0 0 845.2 171.3Z" fill="#616e8f" stroke="#616e8f" stroke-width="0.5" stroke-linejoin="round"/>
<path d="M916.9 186.6L926.7 162.9L927 166.3L927.8 168L928.8 169.6L928.9 173.1L929.1 176.2L929.3 179.3L929.9 181.5L930.3 183.8L932.1 182.7L932.6 184.8L932.8 187.3L933.8 188.1L934.9 188.7L935.9 189.2L937 189.7L937.5 191.4L938.5 192.1L939.3 193L940.5 193.4L941.7 194L943 194.4L944 195.4L944.8 196.7L946.1 197.2L947.1 198.2L948.4 198.6L949.7 198.9L951.4 198.3L952.7 198.8L954.3 198.5L955.8 198.5L957.6 197.9L958.9 198.5L960.9 197.9L961.2 199.9L963.1 199.5L964.1 200.5L965.2 201.3L966.9 201.3L968.1 201.6L970.4 200.3L972.1 200L973.5 200.1L975.3 199.6L976.2 200.5L969 214.6A234 234 0 0 0 916.9 186.6Z" fill="#616e8f" stroke="#616e8f" stroke-width="0.5" stroke-linejoin="round"/>
<path d="M970.1 215.4L979.2 202.7L979 205.2L978.9 207.4L980.1 207.8L979.5 210.7L980.1 211.9L980.9 212.9L980.6 215.3L982.5 214.9L982.5 216.9L982.5 218.8L983.3 219.8L983.8 221.3L985.5 221.4L986.5 222.3L986.9 223.9L987.6 225.2L989.3 225.2L990.1 226.4L990.7 227.7L992.8 227.5L994.3 227.9L997.5 226.3L1000.1 225.6L1001.3 226.4L1002.6 226.4L1004.5 225.8L1006.6 225.1L1008.5 225L1009.3 225.9L1010.8 226.2L1011.3 227.5L1011.5 229L1013.2 229.1L1016.8 227.2L1019.1 226.6L1021.1 226.4L1026.1 223.7L1029.6 222.5L1028.4 225.3L1027.6 227.9L1028.2 229.1L1027.3 231.7L1024.6 235.8L1024.6 237.5L1026.5 237.4L1030.4 235.7L1031.8 236.4L1035.2 235.3L1037 235.7L1037.1 237.5L1037.5 239L1038.9 239.6L1016.4 259.6A234 234 0 0 0 970.1 215.4Z" fill="#616e8f" stroke="#616e8f" stroke-width="0.5" stroke-linejoin="round"/>
<path d="M1017.2 260.6L1022.5 256.8L1022.1 258.7L1023.4 259.4L1023.5 260.9L1024.6 261.7L1024.5 263.4L1024.8 264.8L1025.5 265.8L1025.3 267.5L1026 268.6L1026.1 270.1L1026.4 271.4L1027.2 272.4L1027.9 273.4L1028.6 274.5L1029.2 275.6L1029.9 276.6L1030.3 277.8L1031.1 278.8L1031.9 279.8L1032.5 280.9L1033 282L1034.6 282.5L1035.9 283.1L1037.6 283.6L1039.3 284.1L1041 284.6L1043.3 284.5L1047.6 283.3L1050.3 283.3L1051.1 284.4L1052.3 285.2L1052.9 286.3L1054.8 286.8L1056.8 287.3L1059.7 287.4L1062.1 287.7L1066.1 287.3L1067 288.3L1068.4 289L1070.7 289.3L1072.5 289.9L1072.7 291.2L1072.1 293.2L1073.1 294.3L1074.8 295.2L1073.4 297.4L1070.1 300.5L1069.4 302.4L1070.7 303.4L1072.2 304.4L1072.7 305.8L1074.4 306L1049.5 316.2A234 234 0 0 0 1017.2 260.6Z" fill="#616e8f" stroke="#616e8f" stroke-width="0.5" stroke-linejoin="round"/>
<path d="M1050 317.4L1065.4 312.5L1066 313.7L1063.3 316.1L1063.4 317.5L1061.7 319.5L1062 320.8L1060.6 322.6L1060.8 323.7L1062 324.5L1061.5 326L1061.6 327.1L1063.7 327.5L1064.1 328.6L1064 329.9L1062.9 331.7L1061.1 333.5L1060.7 335L1060.7 336.3L1060.6 337.7L1060.9 339L1061.7 340.1L1061.7 341.5L1061.5 342.8L1061.4 344.2L1061.8 345.5L1062 346.7L1062.8 347.9L1063.1 349.2L1063 350.6L1063.4 351.9L1063.7 353.2L1064.4 354.5L1064.6 355.8L1067.4 356.3L1068.2 357.2L1071.1 357.6L1071.8 358.9L1070.6 360.5L1072.8 361.5L1071.8 363L1073.8 364L1073.4 365.5L1075.3 366.6L1075 368L1076.4 369.2L1079.2 370.3L1080.4 371.5L1081.5 372.8L1084.5 373.9L1085.4 375.3L1087.2 376.4L1088.5 377.6L1090.1 378.8L1093.5 379.8L1095.7 381L1091.5 382.6L1088.1 384.1L1086 385.4L1081.5 387L1066.5 389.2A234 234 0 0 0 1050 317.4Z" fill="#616e8f" stroke="#616e8f" stroke-width="0.5" stroke-linejoin="round"/>
<path d="M1066.6 390.6L1084.1 390.9L1085 392.2L1085.4 393.7L1085.7 395.1L1085.9 396.6L1089.5 397.3L1093.2 398.1L1091.2 399.6L1086.2 401.1L1083.8 402.5L1081.5 403.8L1082.1 405.1L1082.2 406.4L1084.6 407.7L1089.4 409L1092 410.3L1095.7 411.6L1098.9 412.9L1099.4 414.2L1102.2 415.5L1099.9 416.9L1096.8 418.3L1091.5 419.5L1088 420.7L1085.4 422L1080.1 422.9L1076.9 424L1073 424.9L1069.8 425.9L1069.5 427.2L1069.8 428.6L1068.7 429.8L1068.9 431.1L1068.2 432.4L1067.9 433.7L1067.7 435L1067.4 436.2L1068 437.6L1068.1 438.9L1067.2 440.1L1067.7 441.5L1067.6 442.8L1067.5 444.1L1067.2 445.4L1067.7 446.6L1067.8 447.8L1069.7 449.3L1069.7 450.5L1070.2 451.8L1071.1 453.2L1072.9 454.6L1072.1 455.5L1073.3 456.9L1075 458.3L1074.7 459.6L1077.1 461.5L1075.9 462.6L1076.3 464.1L1059.9 462.2A234 234 0 0 0 1066.6 390.6Z" fill="#616e8f" stroke="#616e8f" stroke-width="0.5" stroke-linejoin="round"/>
<path d="M1059.6 463.4L1077.6 468.7L1081.1 471.1L1084.1 473.4L1082.3 474.4L1079.4 475.2L1077 476L1074.3 476.7L1073.3 477.9L1070 478.4L1065.1 478.1L1060.6 477.8L1057.2 477.9L1056.4 479L1056 480.3L1055.5 481.6L1054.7 482.7L1054 483.9L1053.5 485.1L1053.1 486.3L1052.8 487.4L1052.5 488.6L1052.2 489.7L1052.1 490.9L1051.6 492L1051.3 493.2L1050.9 494.5L1050.4 495.7L1049.6 496.8L1049.1 498.1L1049 499.5L1048 500.5L1047.7 501.8L1047.2 503.1L1049.2 505.3L1049.8 506.9L1051.8 509.3L1054.3 511.8L1056.4 514.2L1057.2 516L1059 518.4L1058.4 519.7L1059.2 521.7L1060.2 523.9L1061.4 526.2L1038.8 516.4A234 234 0 0 0 1059.6 463.4Z" fill="#616e8f" stroke="#616e8f" stroke-width="0.5" stroke-linejoin="round"/>
<path d="M1038.1 517.6L1048.6 525.4L1058 529.4L1054.8 529.2L1053.3 530L1051 530.3L1048.8 530.6L1048.7 532.1L1045.9 532.1L1043.9 532.5L1041.3 532.5L1038.3 532.2L1038 533.6L1035.2 533.4L1033.8 534.1L1032.8 535.1L1032.4 536.5L1031.1 537.3L1030.6 538.6L1029.8 539.7L1029.6 541.2L1027.9 541.7L1027.1 542.8L1026.5 544L1025.1 544.7L1024.5 545.9L1023.8 547L1023.7 548.6L1022 549L1021.2 550.1L1020.6 551.3L1019.9 552.5L1019.1 553.5L1018.4 554.5L1017.1 555.1L1016.9 556.5L1015.7 557.2L1015.2 558.4L1014.2 559.1L1013.2 559.9L1012.3 560.7L1011.4 561.6L1011 562.9L1010.8 564.2L1009.7 564.8L1009.6 566.3L1008.5 566.8L1008.3 568.3L1012.4 572.3L1012.3 574.1L1011.3 575L1009 574.6L1009.8 577.2L1008.3 577.7L1008.6 579.6L1010 582.6L1009.9 584.2L1009.7 585.7L1008.6 586.4L1009.6 589.2L1009.2 590.5L1008.5 591.7L1006.9 591.8L1007 593.8L1005.3 593.9L1005.6 596.3L1004.3 597L988.7 579.7A234 234 0 0 0 1038.1 517.6Z" fill="#616e8f" stroke="#616e8f" stroke-width="0.5" stroke-linejoin="round"/>
<path d="M987.7 580.6L999 596.4L996.5 595.5L994.9 595.6L991.7 593.8L989.2 592.7L987.4 592.4L985.2 591.6L983.7 591.6L982.1 591.7L982 593.7L979.9 593.1L979.3 594.4L978 594.8L977.5 596.3L975.5 595.7L974.8 597L973.5 597.3L973 598.6L971.6 598.9L971.1 600.3L970.6 601.8L968.8 601.3L968.6 603.2L967.6 603.9L966.9 605.2L965.3 605L965.4 607.4L963.4 606.6L963.7 609.4L961.7 608.6L961.4 610.4L962.7 614.8L963.3 618.2L963.3 620.6L962.7 622.3L962.1 624.1L961.9 626.5L962.2 630L959.3 627.7L957.9 628L955.2 625.9L954.3 626.9L953.5 628L953.8 631.4L952.9 632.4L951.5 632.5L950.8 634L950.7 636.7L935.8 615.2A234 234 0 0 0 987.7 580.6Z" fill="#616e8f" stroke="#616e8f" stroke-width="0.5" stroke-linejoin="round"/>
<path d="M934.6 615.8L945.1 637.4L941.9 633.2L938.6 628.6L935.8 625.8L933.2 623.3L932 623.5L930.6 623.4L929.6 624.1L927.8 623.1L926.6 623.3L925.3 623.4L923.9 623.2L922.7 623.5L921.6 623.8L920.5 624.2L919.4 624.8L918.4 625.3L917.4 626.2L917.2 628.8L916.6 630.6L916.2 632.8L914.9 632.8L914.9 636L914.2 637.9L913.8 640.5L912.9 641.8L912.2 643.7L912 647.1L911.5 649.7L910.3 650.5L910 653.8L908.8 654.7L908.5 658.4L907.6 660.2L906.8 662.3L904 657.8L901.5 654.4L900.9 657.3L899.4 656.8L898.7 659.4L897.3 659.4L896.7 662.3L895.7 663.9L894.1 663.3L892.9 664.6L891.6 665.1L890.2 665.2L888.7 665L886.7 660.2L885 656.9L883.4 654.4L882.2 655.5L881.2 658L880.6 662.4L879.3 663.2L874.3 635.3A234 234 0 0 0 934.6 615.8Z" fill="#616e8f" stroke="#616e8f" stroke-width="0.5" stroke-linejoin="round"/>
<path d="M873 635.6L873.8 662.3L872.6 663.7L871.3 664.6L869.7 664.2L868.3 663.9L866.9 665L865.5 662.9L864.2 661.6L862.8 659.9L861.6 659.7L860.4 659.2L858.8 655.6L857.7 656.9L856.3 654.4L854.7 652.9L853.3 652.7L851.8 651.9L850.3 651.2L848.9 650.1L847.6 647.9L846.6 649.6L845.3 647.8L844.1 646.2L843 646.4L841.7 645.6L840.3 644.3L839 643.6L837.7 642.7L836.4 642.8L835 642.1L833.7 641.4L832.4 641.8L831 641.7L829.7 641.6L828.4 641.2L827.1 640.8L825.7 641L824.4 640.8L823.1 640.3L821.8 640.4L820.4 640.1L819.1 640.1L817.7 640.3L816.4 639.6L815.1 639.8L813.8 639.5L812.5 639.8L811.2 640.4L809.8 641.1L808.5 641.1L807.1 642.1L805.9 642.4L804.5 643L803.3 642.9L801.7 645.4L800.5 644.8L799.3 644.4L797.9 645.2L796.5 645.6L795.1 646.4L793.8 645.9L792.8 644.4L791 647.3L789.9 646.1L788.2 647.9L786.8 647.8L785.7 646.5L783.8 648.8L782.4 648.8L782.2 633.4A234 234 0 0 0 873 635.6Z" fill="#616e8f" stroke="#616e8f" stroke-width="0.5" stroke-linejoin="round"/>
<path d="M780.9 633.1L777.9 645.9L776.8 645.4L776.3 642.1L775.4 640.5L774.6 638.9L773.9 636.6L772.6 636.4L771.8 634.6L770.3 635.1L769.2 634.5L768.2 633.5L767 633L765.9 632L766.9 632.2L768 631.9L766.6 631.9L765.4 631.3L764.2 630.9L762.7 631.1L761.2 631.8L759 634.5L757.4 635.1L755.5 637.4L754 638.2L752.1 640.4L750.4 641L748.7 641.8L746.8 643.1L744.5 646.2L743.3 646.5L741.5 648.4L738.9 651.2L737.2 652L734.8 654.2L733.2 654.2L732.6 651.8L730.8 652.4L729.6 652L729.1 649.9L728.7 647.6L727.4 647.7L726.8 645.7L726.5 643L725.4 641.9L725 639.1L723.5 638.9L722.5 637.8L722.3 634.8L720.8 636.1L718.9 638L726.6 613.4A234 234 0 0 0 780.9 633.1Z" fill="#616e8f" stroke="#616e8f" stroke-width="0.5" stroke-linejoin="round"/>
<path d="M725.5 612.8L713.6 635.8L714.3 632.7L714.3 630.8L713.6 634.1L712.1 638.7L711 637.5L710.9 634.6L710.9 631.3L709.9 630.2L709.3 628.1L709.6 624.7L708.2 624.6L708 622.4L706.9 621.9L706.3 620.3L706.1 618.3L705.6 616.8L705.5 614.4L703.9 614.7L703.4 613.2L702.6 612.1L701.6 611.4L701.3 609.4L699.3 609.8L699.1 607.6L697.1 608.2L697.2 605.5L694.8 606.6L695.3 603.4L693.6 603.5L692.4 603L692.4 600.8L690.6 601.1L690.1 599.5L689.7 598L689.6 595.9L688.3 595.5L687.5 594.6L686.8 593.5L684.7 594.2L683.6 593.6L682.5 593L682.1 591.6L680.9 591.2L678.7 591.7L676.5 592.2L674.1 592.9L672.4 592.8L669.4 594.1L667.4 594.3L664.4 595.5L661.4 597.3L659.1 598.4L656.9 599.2L653.2 601.3L657.7 595L671.8 574.6A234 234 0 0 0 725.5 612.8Z" fill="#616e8f" stroke="#616e8f" stroke-width="0.5" stroke-linejoin="round"/>
<path d="M670.9 573.7L662.9 582L661.8 581.3L661.1 580.1L660.4 578.9L660.6 576.9L660.9 574.8L659.6 574.2L659.3 572.7L658.2 571.8L658 570.2L657.2 569.1L656.3 568.2L656.4 566.3L655.7 565.2L655 564.1L654.2 563.1L652.9 562.6L652.2 561.5L651.1 560.7L651.5 558.7L650 558.3L649.4 557.2L648.4 556.3L647.7 555.2L647.8 553.6L647.1 552.5L646 551.7L645.8 550.3L645.2 549.3L643.3 549.2L642.2 548.5L641.3 547.7L639.9 547.2L639.4 546.1L639 544.7L637.4 544.1L635.8 543.5L635.9 541.8L635.4 540.4L634.1 539.7L633.2 538.7L632.1 537.8L630.9 537.1L629 536.7L629.9 534.6L628.8 533.8L627.3 533.1L626.4 532.1L624.5 531.7L622.9 531.1L621.1 530.6L619 530.3L615.6 530.7L613.9 530.1L609.6 531.3L607.2 531.3L604.6 531.4L602.6 531.1L600.8 530.5L599.2 529.9L598.2 528.9L595.6 528.8L595.3 527.5L607.2 521.9L624.8 511.8A234 234 0 0 0 670.9 573.7Z" fill="#616e8f" stroke="#616e8f" stroke-width="0.5" stroke-linejoin="round"/>
<path d="M624.2 510.7L603.1 520.5L606.4 517.3L606.8 515.5L609.6 512.7L610.8 510.7L609.2 510L610.1 508.2L611.5 506.2L611 505L610.8 503.7L610.9 502.3L610 501.2L610.6 499.5L612.6 497.2L611.9 496.1L612.2 494.5L611.9 493.3L612.3 491.7L612.9 490.1L613.1 488.7L613.3 487.3L612.6 486.1L612.1 484.9L611.2 483.8L610.4 482.6L609.9 481.4L609.5 480.1L608.8 478.9L607.5 478.1L605.1 477.6L604.1 476.6L603.3 475.5L600.7 475.1L599.5 474L596.2 473.6L595.3 472.5L593.9 471.9L591.3 471.6L590.1 470.9L588.9 470.1L584.9 470L585.1 468.8L582.3 468.3L580.6 467.3L577 466.8L573.2 466.2L574.2 464.6L577.9 462.5L579.7 460.8L578.3 459.6L577.6 458.3L576.9 457L575.5 455.8L574.8 454.4L573.2 453.2L586.2 450.1L602.8 447.1A234 234 0 0 0 624.2 510.7Z" fill="#616e8f" stroke="#616e8f" stroke-width="0.5" stroke-linejoin="round"/>
<path d="M602.6 445.8L584.4 446.2L586.9 444.5L588.4 442.9L591.4 441L592.6 439.7L594 438.4L594.5 437.2L597 435.8L597.9 434.6L597.1 433.3L597.3 432L597.6 430.6L596.5 429.4L596.6 428.1L596.4 426.7L594.7 425.6L594.7 424.2L595.1 422.8L594 421.6L591.6 420.4L592 419L588.9 417.8L589 416.4L588.8 415.1L586.3 413.8L583.6 412.5L582.3 411.2L580.9 409.9L578.6 408.6L576.1 407.3L574.9 406L571.4 404.7L571.2 403.5L570.5 402.2L572.3 401L571.3 399.7L571.9 398.5L577.4 397.5L583.1 396.7L580.1 395.2L576.8 393.7L575.7 392.2L573.5 390.7L573.5 389.3L572.7 387.8L571.7 386.4L571.9 385L599.9 384.2A234 234 0 0 0 602.6 445.8Z" fill="#616e8f" stroke="#616e8f" stroke-width="0.5" stroke-linejoin="round"/>
<path d="M600 382.9L571.6 379.4L573.1 378.3L572.5 376.9L574.5 375.9L577.6 375L577.4 373.7L577.4 372.3L578.8 371.2L579.4 369.9L577.3 368.3L577 366.9L578.7 365.8L578 364.5L577.4 363.2L579.3 362L583.2 361.2L585.7 360.2L587.5 359.1L589.2 358L591.6 357.1L590.6 355.5L593.5 354.7L593.8 353.4L596.1 352.6L596.8 351.4L597.1 350.1L598.2 349.1L598.5 347.8L599.8 346.8L599.9 345.5L600.6 344.4L602.2 343.5L602.3 342.2L603 341.1L604.5 340.3L604.4 339L605.1 337.9L606.2 337L605.9 335.5L606.1 334.2L606.6 333L606.2 331.6L606.7 330.3L606.9 329L608.1 328.1L607.5 326.5L608.2 325.5L607.6 324.1L605.9 322.3L605.6 320.9L605.5 319.6L606.2 318.6L606.6 317.3L607.8 316.4L607.6 314.9L606.4 312.9L608.7 312.4L608.3 310.8L607 308.8L607.4 307.5L607.2 306L607.7 304.8L606.8 302.9L621.3 305.2A234 234 0 0 0 600 382.9Z" fill="#616e8f" stroke="#616e8f" stroke-width="0.5" stroke-linejoin="round"/>
<path d="M621.9 304L612 299.3L612.3 298L614.1 297.5L615.8 296.9L615.4 295.3L616.1 294.4L619.1 294.5L619.8 293.6L621 292.8L621.1 291.6L623.3 291.4L624.4 290.7L624.8 289.6L624.1 287.9L625.2 287.1L626.1 286.3L625.9 284.8L626.3 283.7L626.4 282.4L625.5 280.4L623.7 277.9L624.6 277L623.1 274.5L622.1 272.4L623.7 271.8L622 269.1L620.7 266.7L620.6 265.1L618.8 262.4L617.2 259.7L615.5 257L614.2 254.6L613.6 252.6L641.6 270.3A234 234 0 0 0 621.9 304Z" fill="#616e8f" stroke="#616e8f" stroke-width="0.5" stroke-linejoin="round"/>
<path d="M642.4 269.2L623.3 253.7L623.3 252L622.3 249.6L623.1 248.4L623 246.6L624.3 245.9L623.5 243.6L623.3 241.6L625.3 241.4L629.7 243L632.4 243.4L633.5 242.7L635.9 243.1L637.7 243L640.7 243.9L642.9 244.2L644.9 244.3L647 244.7L648 244L649.2 243.5L650.8 243.4L653.5 244.1L654.6 243.3L656.9 243.6L658.6 243.4L659.5 242.4L660.4 241.6L661.6 240.9L662.2 239.7L662.7 238.4L663.9 237.7L665.2 237.1L665.7 235.7L666.4 234.5L667.9 234.1L668.3 232.7L669.2 231.7L669.6 230.2L670.8 229.5L671.7 228.5L671.5 226.5L672.1 225.3L672.4 223.9L673 222.7L673.9 221.9L675.2 221.5L674.9 219.3L675.1 217.8L675.7 216.8L676.1 215.4L675 212.2L675.7 211.2L675.5 209.2L676.5 208.6L689.7 220A234 234 0 0 0 642.4 269.2Z" fill="#616e8f" stroke="#616e8f" stroke-width="0.5" stroke-linejoin="round"/>
<path d="M690.7 219.2L674.4 195.7L674.8 194.2L675.6 193.1L676.5 192.3L678.6 193L680.2 193.1L682.8 194.7L685.5 196.7L688.1 198.6L690.2 199.5L690.7 198.1L693.2 199.6L694.1 198.8L696 199.4L696.9 198.5L699.3 199.7L699.6 197.8L700.5 196.7L702.2 197L704.3 197.8L705.2 196.8L707.7 198.3L709.6 198.7L711.8 199.7L713.2 199.5L713.9 198.1L715.4 198.2L716.4 197.4L717.9 197.3L718.7 196.1L720.1 196L720.8 194.6L722.3 194.7L723.4 194L724.4 193L725.7 192.7L727.1 192.6L727.8 190.9L729.4 191.2L730.2 189.9L731.6 190.1L732.3 188.6L733.8 189L734.8 188.3L736 187.9L737 187.2L738.1 186.8L738.8 185.2L739.9 184.5L740.8 183.4L740.7 179.8L742.2 180.3L742.8 178.2L743.4 176.2L743.6 173.2L745 173L745.2 169.7L752.2 185.4A234 234 0 0 0 690.7 219.2Z" fill="#616e8f" stroke="#616e8f" stroke-width="0.5" stroke-linejoin="round"/>
<path d="M753.4 185L743.9 158.7L745.9 160.5L748.6 164.4L750.8 167.4L751.7 166.6L753.9 169.7L755.7 171.2L757 171.4L758.7 172.7L760.1 173.5L761.8 174.9L763.3 175.6L764.5 175.8L765.9 176.3L767 175.7L768.4 176.5L769.7 176.8L770.9 176.1L772.3 176L773.6 175.6L775 175.7L776.3 175L777.7 175L778.9 174.4L780.2 174.1L781.4 173.3L782.8 173.1L784.2 173.3L785.5 172.9L786.8 172.5L788.1 172.3L789.1 170.4L790.2 169.4L791.3 168.7L792.1 165.7L793.4 165.7L794.3 163.9L795.3 162.7L796.7 164L797.6 161.5L798.7 160.5L799.8 160.2L800.7 158.8L801.9 158.5L803 158.7L803.9 156.5L805.1 155.4L806.1 152.7L807 149L808 146.1L809.2 144.7L810.6 143.6L811.8 140L813.1 137.3L814.2 140.4L815 140.7L817.7 171.5A234 234 0 0 0 753.4 185Z" fill="#616e8f" stroke="#616e8f" stroke-width="0.5" stroke-linejoin="round"/>
<path d="M842.6 221.8L843.6 206.2L844.6 204.3L845.6 204.1L846.8 199.6L847.9 198.2L848.8 198.3L850 196L851 195.1L851.9 195.9L852.9 195.6L853.9 195.1L855 193.3L856 193.8L856.8 194.4L858 191.1L858.5 194L859.7 191.9L860.2 195.4L860.7 198.1L861.7 197.9L862.1 201.2L863.5 198.6L865.1 195.1L866.6 191.9L867.1 194.4L867.9 195.1L868.4 197.8L868.8 200.5L869.6 201.2L870.2 203.2L870.7 205.3L871.2 207.6L872.3 206.6L872.8 208.8L873.3 211.1L874.3 210.7L875.3 210.1L875.8 212L876.7 212.3L877.6 212.3L878.5 212.5L879.4 212.4L880.4 212.4L880.7 215.5L881.9 214.5L882.8 215L883.5 216.3L884 218.2L885.5 216.4L885.6 219.6L886.9 218.6L888.5 216.1L889.6 215.3L891 213.5L892.8 210.8L894.8 207.4L895.1 209.5L896 209.7L897.4 208.3L898.3 208.7L898.7 210.6L899.8 210L900.5 211.1L901.1 212.5L901.8 213.6L902.9 213.5L902.8 216.8L903.7 217.3L897.7 233.3A183.5 183.5 0 0 0 842.6 221.8Z" fill="#848180" stroke="#848180" stroke-width="0.5" stroke-linejoin="round"/>
<path d="M898.9 233.7L905.4 218.6L906.5 218.4L909.1 214.5L910.8 212.8L911.8 213.1L913.3 212.1L915.3 209.9L916.2 210.5L917.4 210.4L919 209.5L920.4 209L922.9 206.3L923.3 208.2L925.2 206.7L925.8 208L928 205.8L929.1 206.1L928.8 209.2L930.3 208.8L932.5 206.8L932.6 209.2L933.8 209.2L934.8 209.7L935.7 210.4L936.4 211.5L936.1 214.4L938 213.1L938.9 213.7L939 215.9L939.5 217.2L941 216.9L941.2 218.6L942.9 217.8L943.6 218.9L942.8 222.2L944.6 221.2L944.8 223L946.5 222.3L946.2 224.7L947.8 224.1L947.5 226.5L949 226.1L949.6 227L948.6 230.4L949.8 230.3L950.6 230.9L951.7 231L950.3 234.7L950.8 235.6L951.3 236.5L951.1 238.3L939.6 255.6A183.5 183.5 0 0 0 898.9 233.7Z" fill="#848180" stroke="#848180" stroke-width="0.5" stroke-linejoin="round"/>
<path d="M940.6 256.4L951.5 241.3L954.9 238.3L955.8 238.7L958.2 237.2L961.6 234.4L962.2 235.1L965.3 232.7L967 231.9L968.9 231.1L969.7 231.6L970.9 231.7L971.8 232.3L972.5 233.1L972.6 234.7L973.3 235.5L972.9 237.7L973.2 239L975.7 237.6L975.4 239.6L976.6 239.8L977.4 240.4L977.3 242.1L977.3 243.6L977.5 244.9L976.2 247.8L977.6 247.7L976.3 250.6L976.7 251.5L976 253.6L975.6 255.5L974.3 258.2L975.3 258.6L976.4 258.9L976.1 260.6L977.5 260.6L977.6 261.9L978.5 262.4L978.8 263.5L980.8 263L981.2 263.9L981.4 265.1L981.7 266.2L981.3 267.9L983.6 267.1L983.3 268.7L983.9 269.5L984.7 270.2L987 269.5L986.7 271L988.2 271.1L987.6 272.9L989.4 272.7L990.6 273.1L991.7 273.6L991.2 275.4L992.3 275.8L992 277.4L992.2 278.6L976.7 290.9A183.5 183.5 0 0 0 940.6 256.4Z" fill="#848180" stroke="#848180" stroke-width="0.5" stroke-linejoin="round"/>
<path d="M977.5 291.9L993.4 282L995.2 281.8L997.3 281.5L998.3 282.1L1002.1 280.5L1002.6 281.4L1004.6 281.3L1006.1 281.6L1006.5 282.6L1009 282.2L1009.2 283.3L1010.2 284L1009.9 285.4L1008.5 287.6L1009.8 288L1011.6 288.1L1010.4 290.1L1010 291.6L1010.6 292.6L1010 294L1007.4 296.6L1007 297.9L1006.6 299.2L1007.9 299.5L1007.3 301.1L1007.5 302.1L1009.8 301.9L1008.7 303.7L1008.9 304.8L1008 306.4L1010.1 306.4L1010.2 307.5L1010.6 308.4L1010.1 309.8L1012.5 309.6L1011.7 311.1L1011.7 312.2L1013.1 312.6L1011.7 314.4L1013.9 314.3L1013.2 315.8L1012.4 317.3L1012.8 318.1L1013.2 319L1015.3 319.2L1014.5 320.7L1012.9 322.5L1016.3 322.1L1015.2 323.7L1015.3 324.8L1016.3 325.5L1015.8 326.8L1017.8 327.1L1017.7 328.3L1002.7 335.2A183.5 183.5 0 0 0 977.5 291.9Z" fill="#848180" stroke="#848180" stroke-width="0.5" stroke-linejoin="round"/>
<path d="M1003.2 336.4L1023.2 328.4L1024.8 328.8L1026.8 329.1L1026.2 330.4L1029.7 330.1L1031 330.7L1032.5 331.2L1032.2 332.4L1032.9 333.3L1032 334.6L1034 335L1031.7 336.8L1033.5 337.3L1032.2 338.7L1034.8 338.9L1034 340.2L1035.9 340.6L1038.4 340.9L1037.8 342.2L1041.7 342L1042.5 342.8L1044.9 343.2L1043.8 344.5L1045 345.2L1046.2 345.9L1049 346.2L1047.1 347.9L1047.8 348.8L1044.4 350.8L1046.5 351.4L1043.8 353.2L1045.2 353.9L1046.1 354.7L1047.5 355.4L1050.3 355.8L1048.4 357.2L1049.4 358L1047.4 359.4L1049.1 360.1L1047.5 361.4L1047.7 362.3L1044.5 364L1043.8 365.2L1042.3 366.5L1039.9 368L1041.3 368.9L1038.7 370.5L1040.3 371.3L1039 372.6L1042 373.3L1039.2 374.8L1040.4 375.7L1041.2 376.7L1040.7 377.9L1041.3 378.9L1039.4 380.2L1041.1 381.1L1038.8 382.4L1040.5 383.3L1037.9 384.6L1038.1 385.7L1039.5 386.5L1042.6 387.1L1044 387.9L1045.4 388.8L1047.7 389.6L1016.1 392.5A183.5 183.5 0 0 0 1003.2 336.4Z" fill="#848180" stroke="#848180" stroke-width="0.5" stroke-linejoin="round"/>
<path d="M1016.2 393.8L1039.9 393.4L1039.6 394.5L1038.8 395.6L1037.8 396.7L1038.4 397.8L1036.4 398.9L1036 399.9L1034.8 400.9L1036.7 401.8L1034.6 402.7L1038.2 403.6L1037.2 404.6L1034.8 405.5L1036.6 406.4L1034.7 407.3L1036.9 408.2L1035.5 409.1L1034.1 409.9L1032.5 410.8L1032.2 411.6L1034 412.7L1034.6 413.7L1032.5 414.6L1035.8 415.7L1034.5 416.7L1037.1 417.8L1035 418.7L1038.5 420L1036.8 420.8L1038.6 422L1041.7 423.1L1043.5 424.2L1043.4 425.1L1043.8 426L1046.4 427.2L1047.1 428.4L1051.1 429.9L1051.9 431.1L1052.9 432.4L1052.1 433.4L1050.6 434.3L1046.8 434.9L1046.5 436L1042.6 436.5L1042.5 437.6L1043 438.6L1043.3 439.5L1041.7 440.2L1043.8 441.5L1042.4 442.3L1041.3 443.2L1038.2 443.7L1037 444.5L1036 445.4L1036.6 446.5L1036.9 447.6L1033.8 448L1033 448.9L1035.1 450.4L1034 451.2L1032.3 451.8L1033.4 453.2L1011 449.7A183.5 183.5 0 0 0 1016.2 393.8Z" fill="#848180" stroke="#848180" stroke-width="0.5" stroke-linejoin="round"/>
<path d="M1010.7 450.9L1023.1 455.2L1024.9 456.8L1025.1 457.9L1022.6 458.3L1023.6 459.7L1024 460.9L1026.2 462.6L1025.7 463.5L1027 464.8L1028.5 466.2L1030.5 467.7L1030.9 468.7L1032.1 470.1L1034 471.7L1032.3 472.1L1034.7 473.9L1035.3 475L1035.2 475.7L1035.9 477.2L1033.8 477.6L1031 477.7L1032.7 479.5L1032.2 480.5L1028.8 480.4L1028.5 481.4L1027.4 482.1L1025.3 482.4L1025.8 483.8L1026.4 485.1L1025.7 485.9L1025.5 486.9L1027.3 488.7L1027.1 489.7L1026.9 490.6L1024.5 490.7L1023.7 491.3L1021.9 491.6L1019.9 491.7L1019.9 492.7L1016.9 492.4L1017.2 493.6L1015.9 494.1L1014.5 494.5L1013.5 495.1L1015.1 497L1013.8 497.4L1011.8 497.5L1010.5 497.9L1011 499.3L994.4 492.3A183.5 183.5 0 0 0 1010.7 450.9Z" fill="#848180" stroke="#848180" stroke-width="0.5" stroke-linejoin="round"/>
<path d="M993.8 493.4L1010.3 502.5L1011.9 504.4L1012.7 505.9L1010.8 506L1012.4 507.9L1011.5 508.7L1011.9 510.1L1010.6 510.6L1010.2 511.6L1012.1 514L1011 514.6L1012.1 516.4L1015.1 519.4L1017.3 521.9L1017.3 523.1L1019.1 525.4L1019.5 526.8L1016.9 526.3L1019 528.9L1016.4 528.4L1018.2 530.9L1016.8 531.1L1016.4 532.1L1016.6 533.5L1014.6 533.3L1012.8 533.3L1010.5 532.9L1009.2 533.1L1010.3 535.2L1008.4 535.1L1007 535.3L1005.7 535.6L1005.6 536.8L1006.2 538.6L1005.4 539.3L1005.2 540.5L1004.8 541.5L1005.3 543.3L1002.4 542.3L1004.5 545.3L1003 545.5L1002.4 546.3L1002.2 547.5L998.9 546.1L997.5 546.2L997.2 547.3L995.9 547.5L995.8 548.8L994 548.5L993.6 549.5L990.4 547.8L989.4 548L988.2 548.2L988.6 550L987.8 550.7L986.2 550.6L984.3 550.3L983 550.6L984.1 553.1L981.4 551.9L981.5 553.5L979.9 553.2L979.7 554.4L977.6 553.7L977.4 554.8L975.3 554L975.1 555.2L975.2 556.7L973.5 556.2L973.9 558.1L973.4 558.9L972.1 558.9L955.2 541.9A183.5 183.5 0 0 0 993.8 493.4Z" fill="#848180" stroke="#848180" stroke-width="0.5" stroke-linejoin="round"/>
<path d="M954.2 542.8L966.8 557.5L967.3 559.7L966.6 560.4L966.4 561.6L967.5 564.4L967.4 565.9L969 569.5L967.5 569.2L968.6 572.3L967.5 572.5L966.7 573.1L966.1 574.1L967 576.8L966.8 578.3L965.4 578.2L962.2 575.2L959.5 572.8L958.9 573.7L958.3 574.6L958.9 577L957.2 576.4L957.6 578.7L956.5 579L957.6 582.3L956.8 582.8L956 583.6L953.4 581.1L949.9 577.1L948.8 577.2L948 577.9L948.5 580.4L947 579.9L946.3 580.6L945.3 580.9L943.6 579.9L943.6 581.8L942.4 581.6L941.2 581.4L940 581.2L938.1 579.8L937.2 580.3L937.6 583L936.4 583L935.7 583.9L934.2 583.3L933.8 584.7L934.3 587.6L933.2 587.9L933.3 590.1L932.1 590L931.3 590.6L930.4 591.1L928.6 589.8L928.4 591.6L927.3 591.2L925.5 589.6L925.1 590.7L923 588.4L913.7 569.8A183.5 183.5 0 0 0 954.2 542.8Z" fill="#848180" stroke="#848180" stroke-width="0.5" stroke-linejoin="round"/>
<path d="M912.6 570.3L922.2 590.6L921.3 591L921.4 593.5L922.1 597.6L921 597.7L920.9 600L919.9 600.2L920.1 603.3L919.1 603.5L917.6 602.5L918 606L916.1 604L916.2 606.8L914.8 606L910.8 598L909.2 596.5L907.6 594.9L906.8 595.4L906.3 596.7L906.6 600L905.8 600.8L905.5 602.8L904.1 601.7L904.1 604.7L901.8 600.5L900.4 598.9L898.8 596.7L898.1 597.4L896.4 595.4L895.1 594.2L894.4 595L893.5 595.4L893.1 597.5L891.8 596.9L891.2 598.3L890.5 599.9L889 598.5L888.2 599.3L886.7 597.6L886.3 600.1L884.5 597.4L883.3 596.8L882.9 599L880.9 595.4L880.2 596.7L879.5 598L878.2 597L877.2 597.1L877 600.7L875.5 598.7L874.9 600.7L873.7 599.7L872.4 598L871.4 597.7L870.8 599.3L869.6 598L869.2 600.8L868.4 602L865.5 585.6A183.5 183.5 0 0 0 912.6 570.3Z" fill="#848180" stroke="#848180" stroke-width="0.5" stroke-linejoin="round"/>
<path d="M864.2 585.8L864.8 602.8L864 604.4L863 604.1L862.3 606.2L860.9 603.4L860.2 605.7L859.4 607.4L858.4 607.9L857.1 605.6L856.3 607.3L855.5 609.7L854.3 607.7L853.2 607.6L852.2 608L851.5 611.4L850.5 611.7L849.5 612.6L848.3 611.3L847.5 613.4L846.5 614L845.4 614.3L844.3 613.5L843.3 614L842.3 614.7L841.4 617.4L840.4 617.9L839.4 620.6L838.2 619.4L837.2 621.5L836.1 623.5L835 623.3L834 624.1L832.9 623.6L831.8 622.4L830.8 622.8L829.7 621.9L828.8 623.7L827.7 626.8L826.8 626.7L825.7 628.6L824.7 628.6L823.6 627.8L822.6 626.5L821.5 626.5L820.4 627.2L819.3 626.6L818.2 625.4L817.2 623.6L816 624.7L814.7 625.8L813.8 623.3L812.7 623.5L811.9 620.6L810.9 620.6L810 619.2L809 618.6L808.1 617.2L807.1 616.6L806.1 616.5L805 616.8L804.3 614.2L803.5 612.2L802.2 613.9L801.3 612.6L800.5 611.3L799.5 610.5L798.7 609.1L797.8 608.2L796.7 608.2L795.5 608.8L794.8 606.8L793.9 606L792.4 608.7L791.2 610L793.3 584.2A183.5 183.5 0 0 0 864.2 585.8Z" fill="#848180" stroke="#848180" stroke-width="0.5" stroke-linejoin="round"/>
<path d="M792 583.9L786.2 609.3L785 610L784.5 607.3L782.4 611.7L780.7 614.1L779.2 615.3L778 616.3L776.8 617.2L776 616.8L775.4 615.1L774.3 615.5L773.2 615.3L773.3 611.4L772.3 611.4L771.1 611.7L770.4 610L770.4 606.5L769.7 605.1L768.2 606.5L768 603.5L767.3 602.6L766 603.5L766.1 600L765 600.5L764.4 599.3L764 597.5L762.7 598.2L761.7 598L760.8 597.5L760.9 594.5L760 594.3L758.7 594.9L758.8 591.9L757.4 592.8L756.2 593.2L755.6 592.5L754.7 592.1L754.2 590.9L752.8 591.8L752.1 591.2L750.1 593.2L749.7 591.6L748.7 591.1L746.8 592.8L745.2 593.8L745.3 591.2L744.5 590.5L742.5 592.5L742 591.2L749.7 568.5A183.5 183.5 0 0 0 792 583.9Z" fill="#848180" stroke="#848180" stroke-width="0.5" stroke-linejoin="round"/>
<path d="M748.6 567.9L737.7 588.8L736.5 589L736.1 587.6L736.7 584.3L735.9 583.6L734.9 583.5L734.6 581.9L734 580.9L733.2 580.2L733 578.5L730.9 580L729.3 580.7L728.4 580.1L728.6 577.9L727.1 578.2L724.9 580L725.2 577.6L722.9 579.5L722 579L722.4 576.7L720.5 577.9L721.2 575L719.9 575.2L719.7 573.8L719.1 572.9L717.7 573.9L714.9 576.9L713.2 577.5L712 577.3L710.1 578.2L709.3 577.4L709.8 574.9L709.2 573.9L707.9 573.8L708.5 571.3L706.9 571.6L706.9 569.9L705.8 569.7L707.2 566.2L704.9 567.6L705.4 565.4L705.6 563.6L706.1 561.4L703.9 562.5L703.2 561.8L704.1 559.3L704.2 557.6L702.5 558.2L702.4 556.8L702.1 555.6L701.7 554.8L701.6 553.6L699.8 554.3L699.6 553.2L699.2 552.3L698.4 551.9L706.7 538.1A183.5 183.5 0 0 0 748.6 567.9Z" fill="#848180" stroke="#848180" stroke-width="0.5" stroke-linejoin="round"/>
<path d="M705.8 537.2L694.9 548.5L687.6 556.1L687.2 554.9L686.6 554L685.4 553.7L684.6 553L682 554.1L682.3 552.3L680.6 552.5L678.6 553L677.7 552.4L677.5 551.2L675.8 551.4L674.8 551L676.4 548.1L675.9 547.2L674.6 547.1L674 546.3L671.8 546.9L670.2 546.9L670.4 545.3L668.6 545.5L668.7 544.2L666.9 544.4L666.5 543.4L665.3 543.1L666.6 540.7L663.8 541.7L664.7 539.7L662.5 540L663.4 537.9L662.3 537.5L661.4 536.8L659.3 537L659.6 535.6L659.8 534.1L659 533.4L657.9 532.9L657.6 531.9L657.6 530.6L658 529.1L658.9 527.1L656.7 527.3L656.5 526.1L657.1 524.3L655 524.4L655.2 523L654.3 522.2L654 521.1L654 519.8L656.4 516.9L655.6 516.1L655.7 514.8L656.4 513.1L655.3 512.6L655.5 511.3L654.8 510.5L655.1 509.1L653.8 508.8L652.7 508.2L654.2 506.2L652.2 506.1L651.9 505.1L650.3 504.8L652.2 502.6L651.1 502L652.3 500.2L652.4 499L651.3 498.4L669.8 488.9A183.5 183.5 0 0 0 705.8 537.2Z" fill="#848180" stroke="#848180" stroke-width="0.5" stroke-linejoin="round"/>
<path d="M669.2 487.7L650.3 496.6L650.4 495.5L649.8 494.7L649.7 493.7L647.8 493.5L649.7 491.6L647 491.8L647.2 490.6L646.8 489.8L646.4 488.9L644.3 488.8L642.8 488.5L643.3 487.2L642 486.7L641.1 486.1L639.3 485.9L638.7 485.1L638.6 484.2L638.6 483.1L636.8 482.8L635.1 482.3L633 482L631.6 481.3L629.5 480.9L630.6 479.4L629.6 478.7L627.5 478.3L627.7 477.1L626.7 476.4L627.3 475L630.4 472.7L631.6 471.2L633.4 469.5L631.8 468.9L634.3 467L633.1 466.3L633.1 465.2L635.5 463.4L634.8 462.6L635 461.5L634.1 460.7L634.6 459.5L633.4 458.9L633 457.9L634.6 456.5L634.2 455.6L633.3 454.8L634.5 453.5L632.3 453L631.5 452.2L629.6 451.6L630.6 450.4L629.4 449.6L631.9 448L628.9 447.6L630.9 446.2L628.6 445.6L627.4 444.7L629 443.4L652.5 438.1A183.5 183.5 0 0 0 669.2 487.7Z" fill="#848180" stroke="#848180" stroke-width="0.5" stroke-linejoin="round"/>
<path d="M652.3 436.9L630.3 440L632.6 438.6L631.9 437.6L630.7 436.8L630.7 435.7L631 434.6L632.9 433.3L630.9 432.6L633.6 431.3L633 430.4L631.8 429.6L631 428.7L632.5 427.6L631.1 426.8L629.4 426L630.5 425L628.2 424.3L627.6 423.4L628.2 422.4L626.7 421.6L626.2 420.7L624.4 419.9L624.4 419L625.1 417.9L627 416.8L625.5 415.9L628.7 414.8L629 413.8L630 412.8L631.2 411.8L628.3 410.9L629.5 409.9L630 408.9L630.9 407.9L632.5 407L631.6 406L633.6 405L631.7 404L630.9 403.1L630.4 402.1L633.9 401.2L634.2 400.2L634.4 399.2L632.9 398.2L634.4 397.3L632.3 396.3L632.8 395.4L632.4 394.4L634.3 393.6L635.3 392.7L634.2 391.7L632.2 390.6L631.1 389.5L632.4 388.6L650.2 388.8A183.5 183.5 0 0 0 652.3 436.9Z" fill="#848180" stroke="#848180" stroke-width="0.5" stroke-linejoin="round"/>
<path d="M650.3 387.6L628 385L629.4 384.1L629.3 383L630.2 382.1L628.9 380.9L628.7 379.8L629.6 378.8L629 377.7L629.2 376.6L628.1 375.4L628.9 374.4L628 373.2L626.8 371.9L626.8 370.8L625.2 369.4L625.9 368.4L624.9 367.2L625.4 366.2L625.9 365.2L627.1 364.4L625.5 363L625.7 362L627.4 361.2L628 360.3L627.2 359L627.2 358L626.8 356.8L625.8 355.5L624.8 354.2L623.3 352.7L623.6 351.7L624.8 350.9L622.9 349.2L621.3 347.6L624.3 347.3L621.9 345.5L622 344.4L620.9 342.9L622.5 342.2L624.5 341.8L624.4 340.8L627.6 340.7L627.2 339.6L628.7 338.9L627.1 337.2L628.9 336.6L629.3 335.6L627 333.6L627.9 332.7L628.5 331.7L628.9 330.8L630.4 330.2L630 329L631.8 328.6L633.5 328.1L632.4 326.5L635.1 326.5L635.5 325.5L637.1 325.1L637.5 324.1L636.1 322.3L637.2 321.6L638.7 321.1L639.3 320.2L640.6 319.8L643.5 320L645.6 320L647.9 320L648.2 319.2L667 326.9A183.5 183.5 0 0 0 650.3 387.6Z" fill="#848180" stroke="#848180" stroke-width="0.5" stroke-linejoin="round"/>
<path d="M667.5 325.7L645.4 315.1L644.2 313.4L645.5 312.9L645 311.6L644.5 310.2L643.7 308.6L642.9 307.1L644.3 306.8L644.8 306.1L647.7 306.6L648.2 305.8L646.7 303.8L648.3 303.4L648.2 302.1L648.8 301.2L647.4 299.1L647.6 297.9L648.8 297.5L652 298.3L652 297.2L654.3 297.4L656 297.4L658 297.4L659.2 297L661.3 297.2L660.4 295.4L661 294.6L663.9 295.3L663.7 294.1L665.9 294.4L666.1 293.4L665.3 291.8L668 292.5L667 290.6L667.8 290.1L670 290.4L682.9 299.5A183.5 183.5 0 0 0 667.5 325.7Z" fill="#848180" stroke="#848180" stroke-width="0.5" stroke-linejoin="round"/>
<path d="M683.6 298.4L673.8 286.7L674.6 286L673.8 284.1L674.7 283.4L677 283.9L675.3 281.3L676 280.5L677.5 280.4L677 278.6L678.3 278.3L678.7 277.3L677.3 274.8L678.8 274.8L678.1 272.8L676.1 269.7L677 269.1L676.8 267.7L679.2 268.6L677.4 265.7L679.1 266L679.3 264.9L679.6 263.9L680.1 263L678.3 260L678.8 259.1L679.6 258.5L680 257.5L678.6 254.7L680.2 255.1L683 256.6L682.6 255L684.9 256L686.3 256L687.1 255.4L685.1 251.8L686.9 252.2L688 251.8L687.3 249.6L689.3 250.3L688.8 248.2L689.5 250.1L693.4 255.5L694 257.3L694.1 255.9L695.6 256L697.5 256.6L696.5 254L698.7 254.9L699 253.7L698.7 251.8L700.6 252.5L701.5 251.9L702.6 251.6L703.2 250.8L704.4 250.7L703.8 248.4L706.7 250.4L705.6 247.5L708.7 249.8L708.4 247.9L720.5 260A183.5 183.5 0 0 0 683.6 298.4Z" fill="#848180" stroke="#848180" stroke-width="0.5" stroke-linejoin="round"/>
<path d="M721.5 259.2L709.1 243L709.5 241.9L708.3 238.8L708.3 237.3L709.2 236.8L709 234.8L710.8 235.4L711.6 234.9L711.5 232.9L712.3 232.1L713.1 231.4L715.2 232.7L715.7 231.5L716.5 230.7L716.4 228.6L718.4 229.6L718.8 228.4L719 226.5L720.3 226.6L721 225.7L722 225.2L722.3 223.6L723 222.8L723.7 222.1L723.3 219.3L724.1 218.6L723.6 215.7L724 214.3L724.9 213.9L725.4 212.6L727.1 213.6L727.9 212.9L727.5 210L728.9 210.5L730 210.5L731 210.3L733 212.1L733.4 210.8L735.5 212.8L736.7 213L736.4 210L738 210.7L738.7 209.9L739.2 208.4L740.7 209.2L741.5 208.4L743 209.1L743.5 207.8L745.5 209.5L745.9 208L746.1 205.8L748.3 208.2L748.6 206.5L749.5 206L750.9 206.8L752.6 208.5L753.9 209.1L754.4 207.8L756.6 210.6L757.3 209.8L759.5 212.9L760.5 212.8L762.3 215.5L769.5 232.8A183.5 183.5 0 0 0 721.5 259.2Z" fill="#848180" stroke="#848180" stroke-width="0.5" stroke-linejoin="round"/>
<path d="M770.7 232.4L763.9 212.8L764.6 211.9L765.4 211.3L766.8 212.5L767.2 210.9L768.1 210.6L769.6 212L770 210.2L771 210.5L771.4 208.5L772.3 208.1L772.7 205.9L773.1 204.1L773.5 202L774.3 200.9L774 196.5L775 196L776.2 196.1L776.2 192.1L777.4 192.3L778.4 191.6L779.3 190.5L780.2 189.4L782 193L783.7 197L785.5 201L786.4 200.5L787.1 199.2L787 194.1L788 193.6L788.5 191.2L789.5 190.7L790.6 191.4L792.4 195.2L793.7 196.7L794.6 196.3L796 198.6L797.2 200L798.1 199.8L799.5 202.7L800.5 203.5L801.3 202.6L802.6 204.7L803.5 203.8L804.4 203.1L805.3 202L806.6 203.9L807.6 204.2L808.3 202.4L809.3 202.1L810.5 204.2L811.4 203.8L812.2 202.6L813.1 202.3L814.3 204L815.1 203.2L816 202.4L816.9 202.5L817.8 201.7L818.8 203.1L819.6 201.3L821 221.9A183.5 183.5 0 0 0 770.7 232.4Z" fill="#848180" stroke="#848180" stroke-width="0.5" stroke-linejoin="round"/>
<path d="M840.5 261.9L841.2 248.3L842 254.2L842.9 258.1L843.9 258.3L844.8 259.2L845.9 258.9L846.8 259.4L847.8 260L848.8 260.1L849.8 260.6L850.8 260.5L851.8 260.9L853 260.5L854 260.4L855.1 260.5L856.2 260.1L857.2 260.6L858.5 258.3L859.6 257.2L860.7 255.8L862.1 253.2L863.4 253L865.2 249.7L866.6 248.9L868.1 247.9L869.6 247L870.7 246.3L872 245.3L873.3 244.5L874.6 242.2L876.5 238.3L877.2 240.7L877.5 244.3L878.5 245.4L879 247.8L879.4 250.7L880.5 250.8L881.1 252.6L881.9 253.7L883.2 253.2L884.8 251.6L887 248.6L888.7 247.2L890.6 245.3L883.4 270.9A143.3 143.3 0 0 0 840.5 261.9Z" fill="#616e8f" stroke="#616e8f" stroke-width="0.5" stroke-linejoin="round"/>
<path d="M884.6 271.3L892.5 250.9L892.7 253.6L893.3 255.1L893.8 256.9L893.6 260.1L894.5 261L894.8 263.1L895.8 263.4L895.9 266.1L896.3 267.8L897 268.8L897.1 271.1L897.4 272.9L898 274.2L899.1 274.2L899.8 275.3L901.1 275L902.1 275.4L902.8 276.1L903.8 276.6L904.5 277.5L905.5 277.8L906.6 277.9L908.3 277.2L909.7 277L911.1 277L911.9 277.8L914.2 276.3L915.3 276.7L917.6 275L919 274.8L920.2 274.9L921.4 275.1L923 274.7L924.7 274.2L916.1 288.3A143.3 143.3 0 0 0 884.6 271.3Z" fill="#616e8f" stroke="#616e8f" stroke-width="0.5" stroke-linejoin="round"/>
<path d="M917.1 289L926.7 276.7L926.2 279.5L924.6 283.5L923.3 287.3L924.3 287.8L924.3 289.7L925.7 289.7L926.5 290.5L927 291.6L927.7 292.5L928.2 293.7L929.1 294.4L929.9 295.2L931.9 294.4L934.4 293.1L936 293L937.8 292.6L939.7 292L941.4 291.6L944.3 290L945.7 289.9L948 288.9L950.1 288.2L953.7 285.9L956.1 285.5L958.3 285.2L961.3 284.2L962.9 284.6L961.5 287.4L960.8 289.6L958.7 292.9L957.6 295.2L959.2 295.4L959.8 296.4L962.2 295.9L963.1 296.6L965.1 296.4L966.9 296.5L945.1 315.8A143.3 143.3 0 0 0 917.1 289Z" fill="#616e8f" stroke="#616e8f" stroke-width="0.5" stroke-linejoin="round"/>
<path d="M945.9 316.8L954.4 310.2L953 312.6L952.8 314.1L953.3 315L952.5 316.9L953.4 317.5L952.5 319.5L952.5 320.8L953.6 321.4L954 322.5L955.1 323.1L954.9 324.5L955.7 325.4L956.2 326.4L956.9 327.3L958.3 327.6L959.6 328.1L962.2 327.7L963.1 328.5L966 328L968.3 328L969 329L971.7 328.8L974.1 328.9L976.3 329.1L979.2 328.8L978.8 330.3L980.7 330.5L984.2 330L983.9 331.5L988.1 330.7L988.8 331.7L986.6 334L983.3 336.8L981.5 338.9L983.4 339.2L984.2 339.9L984 341.1L985.4 341.5L978.7 344.9L965.5 350.4A143.3 143.3 0 0 0 945.9 316.8Z" fill="#616e8f" stroke="#616e8f" stroke-width="0.5" stroke-linejoin="round"/>
<path d="M966 351.6L978.9 346.7L978.7 348L977.6 349.6L978.6 350.4L978.4 351.7L977.6 353.1L975.4 355L976.3 355.8L975.5 357.2L975.7 358.3L977.2 358.9L976.2 360.4L975.8 361.6L975.9 362.7L974.7 364.1L975.5 365L975 366.2L975.3 367.3L974.7 368.5L974.9 369.6L975 370.7L975.5 371.7L975 372.9L975 374L976 374.8L978.7 375.4L980.6 376.1L980.8 377.1L982.8 377.9L984.5 378.8L986.3 379.7L985.7 381L987.5 381.9L988 383.1L989.7 383.9L991.3 384.9L992.8 385.8L995.3 386.6L995.8 387.7L999.9 388.2L1002.8 388.8L1004.4 389.6L998.7 391.2L996.3 392.5L990.6 394L976 395.1A143.3 143.3 0 0 0 966 351.6Z" fill="#616e8f" stroke="#616e8f" stroke-width="0.5" stroke-linejoin="round"/>
<path d="M976 396.4L990.6 398.6L989.7 399.7L991 400.6L993.1 401.5L991.9 402.5L994.4 403.4L998.4 404.4L997.3 405.5L998.1 406.7L997.7 407.9L995.8 409L1000.2 410L1005.9 411.1L1008.8 412.1L1007.2 413.2L1003.7 414.1L999.9 415L998.2 415.9L995.8 416.8L992.6 417.7L987.8 418.3L984.7 419.1L982.8 419.9L982.9 421L980 421.8L980.4 422.9L978.3 423.6L977.6 424.6L978.1 425.7L978.4 426.7L978.7 427.8L978.7 428.8L978.4 429.8L978.9 431L978.9 432.1L980.5 433.6L981.5 435L982.1 436.3L984.8 438.1L987 439.8L988.8 441.5L972 439.8A143.3 143.3 0 0 0 976 396.4Z" fill="#616e8f" stroke="#616e8f" stroke-width="0.5" stroke-linejoin="round"/>
<path d="M971.7 441L986.7 445.4L988.1 446.9L989.7 448.4L991.4 450L991 451.1L988.8 451.5L987.4 452.2L983.6 452.2L982.9 453L981.5 453.7L980 454.2L977.8 454.6L975 454.7L974.1 455.4L972.4 455.9L970.6 456.3L970.9 457.5L970.6 458.6L969.5 459.3L969.8 460.6L968.8 461.3L968.7 462.4L968.6 463.5L968.2 464.5L969.1 466L970.1 467.5L970.8 469L970.6 470L972.8 472.3L975.2 474.7L976.3 476.5L977.1 478.1L978.7 480.3L978.9 481.7L959.1 473A143.3 143.3 0 0 0 971.7 441Z" fill="#616e8f" stroke="#616e8f" stroke-width="0.5" stroke-linejoin="round"/>
<path d="M958.5 474.2L973.5 485.1L971.3 485.2L969 485.1L965.4 484.3L965 485.3L962.6 485.1L960 484.8L960.1 486.1L958.3 486.1L956 485.9L955.4 486.8L954.5 487.5L953.8 488.3L953 489L952.5 490L951.6 490.7L950.7 491.3L950.3 492.3L949.7 493.2L949.2 494.1L948.3 494.7L947.9 495.7L947.2 496.5L947.4 498L946.1 498.3L945.8 499.4L945.3 500.4L944.8 501.5L944.6 502.9L944 503.9L944.4 505.8L943 506.1L943.7 508.4L942.9 509.3L944.5 512.1L944.3 513.3L943.8 514.3L944 515.9L945.3 518.6L945.3 520.2L944 520.6L943.4 521.6L942.5 522.3L942.4 523.8L941.9 525L940.7 525.4L928.5 511.8A143.3 143.3 0 0 0 958.5 474.2Z" fill="#616e8f" stroke="#616e8f" stroke-width="0.5" stroke-linejoin="round"/>
<path d="M927.6 512.7L932.7 525.6L931.2 525.5L929.8 525.7L927.9 525.1L925.2 523.5L923.6 523.2L923 524.3L922.5 525.4L920.9 525L920.3 526L919.2 526.5L917.6 526L916.6 526.5L916 527.6L914.5 527.3L913.9 528.3L913.1 529L913.2 531.3L913 533L912.3 534L911.8 535.3L912 537.5L913.8 542.4L914.5 545.5L914.6 547.3L916.1 551.4L914.1 550L911.2 546.7L909.6 546L907.6 544.6L906.4 545L904.3 543.3L902.2 541.5L901.8 542.8L899.8 541L896.2 533.6A143.3 143.3 0 0 0 927.6 512.7Z" fill="#616e8f" stroke="#616e8f" stroke-width="0.5" stroke-linejoin="round"/>
<path d="M895 534.2L894.5 535.1L893.9 536.3L893.8 538.4L893.4 539.9L892.3 540.1L892.2 542.2L890.7 541.6L889.5 541.4L888.7 542.3L887.4 541.8L886.1 541.4L885.7 543.5L885.5 546.1L885.5 549.4L884.6 550.1L884.7 553.8L884.4 556.6L883.7 558.2L883.1 559.8L883.5 564.5L883.3 567.7L882.2 567.8L882.2 571.7L881.8 574.6L879.1 568.6L876.5 562.4L875.8 564.1L874.7 563.8L874.3 566.7L873.6 568.6L872.5 568.8L870.6 565.9L868.5 562.4L867.6 563.3L866.7 564.6L865.9 566.5L865.4 569.8L864.3 570.4L862.6 568.3L858.5 546A143.3 143.3 0 0 0 895 534.2Z" fill="#616e8f" stroke="#616e8f" stroke-width="0.5" stroke-linejoin="round"/>
<path d="M857.2 546.2L856.3 568.3L855 567L853.8 565.8L852.8 566.9L851.5 565.1L850.2 564.2L848.9 563.2L847.5 560.2L846.2 558.7L845 557.9L843.9 558.9L842.7 557.2L841.5 557L840.4 555.8L839.2 554.3L838.3 556.3L837.2 555.2L836.1 553.7L835 554.4L834 553.5L832.9 553.6L831.8 551.5L830.8 551L829.7 550.4L828.7 550.7L827.6 550.8L826.6 550.8L825.5 551.9L824.4 551.8L823.3 552.3L822.1 552.4L821 553.2L819.9 552.5L818.7 552.7L817.6 552.9L816.4 553.1L815.4 553.2L814.5 552.9L813.3 554.4L812.4 553.8L811.1 555.8L809.9 556.2L808.4 557.8L807.2 557.6L805.9 558.4L804.3 560.4L803.2 559.7L802.4 557.5L801 558.2L802.1 544.9A143.3 143.3 0 0 0 857.2 546.2Z" fill="#616e8f" stroke="#616e8f" stroke-width="0.5" stroke-linejoin="round"/>
<path d="M800.9 544.6L797.3 558.2L796.2 558.1L795.9 554.8L794.6 555.4L794.4 551.9L793.3 552L792.5 550.7L791.7 549.9L791.1 548.2L789.6 549.3L788.6 549L788.3 546.6L787.2 546.5L785.4 548.4L783.9 549.5L781.9 551.8L780.9 552.2L780 552.4L777.8 556.4L776 559.1L774.4 561.4L772 565.7L769.6 569.5L768 571L767.1 570L766.3 568.6L766 566.1L764.8 565.7L764.8 562.5L764.3 560.4L763.5 559.3L763.2 556.9L763.2 553.8L768.1 532.7A143.3 143.3 0 0 0 800.9 544.6Z" fill="#616e8f" stroke="#616e8f" stroke-width="0.5" stroke-linejoin="round"/>
<path d="M766.9 532.2L757.6 550.1L754.8 555.4L755 552.4L754.9 550L754.7 547.7L754.3 546.1L754 544.2L754.2 541.6L753 541.5L752.2 540.5L753.1 536.9L752.6 535.6L752.1 534.4L752 532.3L751 531.8L750.2 530.9L749.6 529.9L749 528.8L748.4 527.7L747 527.7L746.3 526.8L745.4 526.1L744.6 525.2L744 524.1L741.7 525.2L741.5 523.7L736.1 530.1L734.8 530L733.4 529.9L733.5 528.2L732.3 527.8L732.2 526.2L730.8 526.1L729.6 526L726.1 528.5L724.4 528.8L720.8 531.6L719.1 532.2L721.5 527.8L724.2 523.2L734.5 509A143.3 143.3 0 0 0 766.9 532.2Z" fill="#616e8f" stroke="#616e8f" stroke-width="0.5" stroke-linejoin="round"/>
<path d="M733.5 508.2L726.8 515.2L726.3 514L725.3 513.4L725.3 511.8L725.5 509.9L724.3 509.6L724.6 507.7L724.3 506.5L724.3 505L723.8 504L722.7 503.5L722.9 501.9L722.4 501.1L721.5 500.5L721.2 499.6L721.3 498.2L720.8 497.4L720.2 496.6L719.1 496.2L718.4 495.3L717.7 494.5L716.8 493.9L715.9 493.2L714.9 492.6L713.7 492.4L713.4 491.4L712.7 490.5L710.8 490.4L710.6 489.2L709.7 488.4L707 488.8L706.9 487.5L705.8 487L703.5 487.1L702.6 486.4L701.7 485.7L698.9 486.1L698 485.2L696.5 484.8L695.9 483.8L692.9 484.1L691.3 483.6L688.7 483.8L684.2 485L682 484.8L678.9 485.2L690.6 478.3L705.6 470.6A143.3 143.3 0 0 0 733.5 508.2Z" fill="#616e8f" stroke="#616e8f" stroke-width="0.5" stroke-linejoin="round"/>
<path d="M705 469.5L682.8 480.7L686 477.7L687.5 475.6L688.7 473.8L687.7 472.9L688.7 471.1L686.3 470.9L687.5 469.1L686.4 468.3L688.7 466.1L688.5 465.1L690.2 463.2L691.7 461.5L691.3 460.5L691.4 459.2L690.4 458.4L690.6 457.1L688.2 456.7L688.7 455.3L688.7 454.3L686.9 453.8L687.3 452.6L687.4 451.5L685.9 451L685.1 450.1L683.5 449.5L682.9 448.4L681.4 447.7L681.8 446.4L680.7 445.6L678.6 444.9L677.7 444.1L674.6 443.7L671.5 443.3L670.6 442.3L674.8 440.3L678.3 438.5L675 437.9L674.6 436.7L671.8 436L668.6 435.4L681 433.1L692.1 431A143.3 143.3 0 0 0 705 469.5Z" fill="#616e8f" stroke="#616e8f" stroke-width="0.5" stroke-linejoin="round"/>
<path d="M691.9 429.7L675.7 430.7L677.8 429.3L679.4 428.1L680.9 426.8L684.8 425.3L686.1 424.2L685.6 423.3L683.1 422.6L682.8 421.6L680.5 420.8L678.8 420L678.6 419L680.6 417.7L680.4 416.7L681.6 415.5L681.9 414.4L680.8 413.4L683.6 412.2L683.5 411.2L682.3 410.2L681.4 409.2L680 408.1L678.7 407.1L676 406L670.2 405.4L661.7 404.7L664.4 403.7L668.2 402.7L672.7 401.7L675.7 400.8L671.2 399.5L666.9 398.2L664.3 396.9L665.3 395.7L664.4 394.3L666.2 393.1L665.4 391.7L690.2 392.5A143.3 143.3 0 0 0 691.9 429.7Z" fill="#616e8f" stroke="#616e8f" stroke-width="0.5" stroke-linejoin="round"/>
<path d="M690.4 391.2L663.3 388.1L665.2 387.2L667.7 386.3L669.8 385.5L671.1 384.5L673.4 383.7L675.2 382.9L674.5 381.8L673.6 380.6L670.7 379.2L674.4 378.6L675.2 377.6L678.1 376.9L682.2 376.6L682.1 375.3L683.6 374.4L683.2 373.1L682.8 371.8L683.2 370.7L685.8 370.1L684.9 368.7L684.1 367.4L685.2 366.7L686.5 366L686.5 364.9L689.3 364.6L688.8 363.5L690.1 362.7L689.3 361.3L690.6 360.6L690.4 359.4L690.8 358.4L690.9 357.3L692.8 356.8L692.7 355.6L692.7 354.4L691.3 352.6L692.3 351.7L693.3 350.9L693 349.5L691.7 347.7L691.1 346.2L691.4 345.1L690.3 343.3L689.7 341.7L689 340.1L703.3 344.1A143.3 143.3 0 0 0 690.4 391.2Z" fill="#616e8f" stroke="#616e8f" stroke-width="0.5" stroke-linejoin="round"/>
<path d="M703.8 342.9L690.5 336.6L692 336.1L693.2 335.6L693.5 334.6L692.9 333.1L695.2 333.1L695.3 332L695.1 330.6L696.7 330.2L696.9 329.1L696.7 327.8L698.9 327.7L697.3 325.6L698.4 324.9L699.3 324.1L698.6 322.5L697.6 320.6L695.6 318.1L693.6 315.5L693.2 313.9L691.4 311.4L692.7 311L690.9 308.4L715.7 322.7A143.3 143.3 0 0 0 703.8 342.9Z" fill="#616e8f" stroke="#616e8f" stroke-width="0.5" stroke-linejoin="round"/>
<path d="M716.4 321.7L697.6 308.2L696.6 305.9L697.2 304.7L698.4 304L698.5 302.4L698 300.3L700.7 301L702.2 300.7L705.4 301.9L708.4 302.9L709.8 302.5L710 301.1L713.2 302.2L713 300.5L714.2 300L716.3 300.3L717.2 299.7L719.3 300.2L723 302.2L724.2 301.9L724.8 301.2L723.8 298.9L724.9 298.7L724.5 296.8L725.2 295.9L726.2 295.4L727.8 295.5L727.5 293.7L729.1 293.7L730.1 293.3L730.2 291.8L730.4 290.4L730.7 288.9L730.5 287L731.6 286.4L732 285.2L732.6 284.1L732.3 281.9L733.4 281.3L745.1 291.9A143.3 143.3 0 0 0 716.4 321.7Z" fill="#616e8f" stroke="#616e8f" stroke-width="0.5" stroke-linejoin="round"/>
<path d="M746.1 291.1L729.4 264.2L734.2 269.7L737.7 273.4L740.7 276.3L742.3 276.7L744.7 278.3L746.2 278.7L747.9 279.4L748.6 278.7L749.1 277.3L751.6 279.1L752.7 278.7L752.7 276.5L754.7 277.7L755.8 277.3L756.5 276.3L757.2 275.3L758.7 275.9L759.2 274.5L760.2 274.2L761.2 273.8L762.2 273.5L763.8 274.3L764.4 273.1L765.2 272.1L766.7 272.4L767.5 271.5L768.8 271.6L769.7 270.7L771 270.8L771.6 269.4L772.5 268.8L773.1 267.5L772.8 263.9L773.9 263.7L774.5 262.3L775 260.5L775.7 259.2L776.2 257.4L776.6 255.2L783.3 270.6A143.3 143.3 0 0 0 746.1 291.1Z" fill="#616e8f" stroke="#616e8f" stroke-width="0.5" stroke-linejoin="round"/>
<path d="M784.5 270.2L775.8 246.1L778.9 252.6L780.4 253.6L781.6 253.6L782.5 252.8L784.1 254.3L785.5 255.2L787.3 257.4L788.8 258.8L790.8 261.8L792.2 263L793.2 262.6L794.3 262.8L795.3 262.4L796.5 262.9L797.5 262.5L798.7 263.1L799.6 262.3L800.7 262.3L801.6 261.7L802.7 261.5L803.7 261.4L804.6 260.3L805.6 259.7L806.6 259.2L807.5 258.4L808.4 258.1L809.3 256.9L810.1 255.6L811.1 254.9L811.8 252.6L812.7 250.3L813.9 249.7L814.9 247.7L815.8 244.7L816.5 239.8L817.4 236.2L818.4 234.2L819.6 235.8L820.7 237.4L821.8 239.4L823.6 262A143.3 143.3 0 0 0 784.5 270.2Z" fill="#616e8f" stroke="#616e8f" stroke-width="0.5" stroke-linejoin="round"/>
<circle cx="833" cy="405" r="138.3" fill="#fff"/>
<path d="M873.8 537.2Q833 405 826.2 266.9M769.6 282.1Q833 405 913.4 517.6M826.2 543.1Q833 405 888.8 278.5M959.8 349.8Q833 405 703.6 453.8M732.3 499.7Q833 405 956.1 467.9M910.1 290.2Q833 405 864.8 539.6M907.6 288.5Q833 405 700.7 364.7M703.3 453.1Q833 405 743.5 299.5M817.6 267.6Q833 405 699.5 368.9M719.1 483.5Q833 405 970.3 388.5M948.6 329.1Q833 405 952.4 474.8M808.5 541.1Q833 405 695.3 418.2M961.7 354.3Q833 405 817.2 542.4M859 269.2Q833 405 827.8 543.2M883.5 533.8Q833 405 953.7 337.5M816.4 542.3Q833 405 922.9 299.9M833.2 543.3Q833 405 919.9 297.4M869.6 538.4Q833 405 704.2 354.5M831 266.7Q833 405 711 339.8M716.3 330.7Q833 405 851.4 542.1M959.8 460.1Q833 405 729.2 496.4M967.2 438.6Q833 405 830.8 543.3M695.4 390.9Q833 405 964.5 362.2M719.4 326.1Q833 405 970.1 423.1M797 271.5Q833 405 704.5 456.2M833.5 266.7Q833 405 962.5 453.5M759.1 288.1Q833 405 921 511.7M816 267.8Q833 405 905.6 522.7M894.3 281Q833 405 716.5 479.6M696.9 380.4Q833 405 930.8 307.2M905 286.9Q833 405 854.2 541.7M802 270.2Q833 405 728.6 495.7M926.4 303Q833 405 876.6 536.2M915 293.6Q833 405 962.3 454M700.7 364.7Q833 405 901.3 284.7M782.7 533.8Q833 405 854 268.3M961.8 354.6Q833 405 718.8 327.1M934.4 310.9Q833 405 696.2 425.1M925.4 302.1Q833 405 779.1 532.4M967.6 373Q833 405 782.6 533.8M807.9 269Q833 405 710.5 469.2M963.4 451.1Q833 405 884.5 276.6M967.1 371.2Q833 405 726.3 493M723.4 320.7Q833 405 876.6 536.2M914.5 293.3Q833 405 771.4 281.2M967.6 373.3Q833 405 788.5 536M696.1 385.4Q833 405 949.1 329.9M965.5 444.7Q833 405 822.6 542.9M907.2 288.3Q833 405 723.6 489.6M971.2 398.9Q833 405 704.6 353.7M932.8 500.7Q833 405 716.5 330.5M797.9 271.2Q833 405 877.2 536.1M770.5 528.4Q833 405 958.5 463M959.2 348.3Q833 405 873.9 537.1M757.7 289Q833 405 738.1 505.6M971.3 404.6Q833 405 796.3 538.4M695 414.2Q833 405 804.5 540.3M963.6 359.5Q833 405 830.1 266.7M739.7 302.9Q833 405 874.7 536.9M898.5 526.8Q833 405 717.5 481M866.3 270.8Q833 405 719.7 325.7M970.9 394.9Q833 405 735.1 307.3M971.2 411.1Q833 405 809.5 268.7M754.2 518.7Q833 405 797.6 271.3M956.4 342.5Q833 405 708.7 344.3M890.9 279.4Q833 405 922.7 510.3M782.6 533.8Q833 405 966 443M742 509.1Q833 405 805.2 269.5M764.4 284.9Q833 405 968.9 379.1M847.4 267.4Q833 405 938 495M879.3 535.3Q833 405 719.8 484.4M956.7 343.2Q833 405 759.8 522.3M772.4 529.3Q833 405 710.4 341M938.4 494.6Q833 405 929.4 305.8M816.1 267.7Q833 405 762.5 524M704 454.9Q833 405 971.3 402.8M939.8 317.1Q833 405 954 471.9M848.5 267.6Q833 405 699.3 369.5M701.2 446.9Q833 405 824.8 543.1M851.4 267.9Q833 405 743.5 510.4M848.4 542.4Q833 405 937.3 314.1M958.5 463Q833 405 945.8 325M896 281.9Q833 405 747.6 513.7M695.2 416.3Q833 405 829.7 543.3M695.2 416.2Q833 405 932.1 501.5M699.8 367.9Q833 405 774.2 530.2M943.9 487.6Q833 405 811.6 268.4M752.3 292.7Q833 405 722 487.5M901.8 525Q833 405 921.7 298.9M728.4 314.5Q833 405 905.6 522.7M735.2 502.8Q833 405 872.8 272.6M764.3 525.1Q833 405 947.5 327.4M899.8 283.9Q833 405 710.5 469.2M827.2 266.8Q833 405 694.7 408M696 423.9Q833 405 946.8 326.4M695.3 418Q833 405 967.2 438.6M883.5 533.8Q833 405 952.5 335.4M902.5 285.4Q833 405 694.7 404.5M858.7 269.1Q833 405 753.6 518.2M849.5 542.3Q833 405 701.8 361.4M701.9 449.1Q833 405 963.6 359.4M741.9 509Q833 405 917.9 514.2M971.2 410.1Q833 405 891.9 530.2M964.3 448.6Q833 405 766.2 283.9M965.2 364.4Q833 405 848.3 542.4M755.8 290.3Q833 405 822.3 542.9M882.3 534.2Q833 405 965.3 364.8M955.4 469.3Q833 405 780.1 277.2M964.1 361Q833 405 719.9 484.6M703.2 357.3Q833 405 764.8 525.3M738.5 304Q833 405 963.6 450.4M764 524.9Q833 405 799.3 270.9M937.4 314.3Q833 405 729.9 497.2M714.9 333Q833 405 774.4 530.3M698.8 438.4Q833 405 823.3 543M969.3 428.2Q833 405 785.2 534.8M875.2 536.7Q833 405 701.7 361.6M967.8 374.1Q833 405 717.8 481.5M734.8 502.3Q833 405 928.7 305.2M959.8 460.2Q833 405 868.6 271.4M817.4 267.6Q833 405 875.4 536.6M895.5 281.6Q833 405 970.9 415.7M733.9 308.6Q833 405 889.6 278.8M699.3 440.5Q833 405 971.2 409.9M961.9 455.1Q833 405 835.9 266.7M849.6 267.7Q833 405 969.4 427.8M871.7 537.8Q833 405 727.6 494.5M711.7 338.6Q833 405 947.2 327M940 317.4Q833 405 950.3 478.2M732.7 500.2Q833 405 909.7 289.9M732.2 499.7Q833 405 970.5 390.5M703.6 356.2Q833 405 742.8 509.9M706.3 460.3Q833 405 819.2 267.4M854.5 541.6Q833 405 695 395.5M842.3 267Q833 405 839.7 543.1M698.2 435.9Q833 405 833.2 266.7M969.9 424.4Q833 405 712 472M702.2 450Q833 405 967.2 371.4M741.9 509.1Q833 405 967.9 435.4M918.8 513.5Q833 405 905.7 287.4M756.2 290Q833 405 934.4 311M776.2 278.9Q833 405 765.7 525.8M933.8 310.3Q833 405 752.5 517.4M734.9 502.5Q833 405 915.1 516.3M929.7 503.9Q833 405 768.4 282.7M737.9 304.6Q833 405 768.5 527.4M785.5 275.1Q833 405 899.6 526.2M720.4 485.4Q833 405 794.1 272.3M696.8 429.3Q833 405 888.6 531.6M725.5 492.1Q833 405 967.6 436.6M967.6 373.4Q833 405 815.6 267.8M816.1 267.7Q833 405 701.1 363.3M801.2 539.6Q833 405 970.3 388.4M958 464.2Q833 405 909.8 290M724.1 319.7Q833 405 971.2 409.2M901.7 285Q833 405 795.8 538.2M790 536.4Q833 405 970.1 386.9M843.9 542.9Q833 405 710.6 469.3M704.1 354.8Q833 405 849 267.6M701.4 362.4Q833 405 901 284.6M952 475.4Q833 405 856.3 268.7M939.8 317.2Q833 405 909.8 520M818.7 542.6Q833 405 952.3 335M716.2 330.9Q833 405 862.1 540.2M786.8 274.7Q833 405 883.3 533.8M789.6 273.7Q833 405 955.5 340.8M969.1 380.3Q833 405 695 414.4M966.9 439.5Q833 405 784.3 275.6M727.1 493.9Q833 405 946.9 326.6M717.9 328.3Q833 405 925.4 507.9M961 457.3Q833 405 695.5 420.2M718.7 327.1Q833 405 743.3 510.3M966.6 369.1Q833 405 783.8 275.8M805.8 269.4Q833 405 846.4 542.7M771.8 529Q833 405 734.4 308.1M802.1 539.8Q833 405 865.7 270.6M748.1 514.2Q833 405 699.1 370.3M806.6 269.2Q833 405 850.3 542.2M913.9 517.2Q833 405 915.2 293.8M779.8 532.7Q833 405 881.4 275.4M704.1 455.1Q833 405 752.8 292.3M799.7 539.2Q833 405 816.7 267.7M796 271.7Q833 405 695 414.4M970.3 421.7Q833 405 694.7 403.9M932 308.4Q833 405 764.3 525M706.3 349.5Q833 405 764.3 525M853.3 541.8Q833 405 723.5 320.5M962 355.3Q833 405 695.8 387.6M770.4 281.7Q833 405 957.5 344.7M697 379.7Q833 405 799.6 270.8M962.9 357.4Q833 405 822.3 542.9M705.4 458.3Q833 405 890.6 279.3M942.1 490Q833 405 778.2 278M917.7 295.7Q833 405 694.9 397.3M929.4 305.9Q833 405 732.3 499.8M971.3 405.5Q833 405 791.1 536.8M806.8 540.8Q833 405 822.8 267.1M930.3 503.2Q833 405 707.1 347.7M807.6 541Q833 405 702.2 360.2M965.6 365.8Q833 405 699.4 369.1M727.3 494.2Q833 405 948.9 329.6M721.8 322.8Q833 405 895.2 528.5M724.7 319Q833 405 957.6 345M694.9 413Q833 405 877.6 535.9M753.6 291.8Q833 405 968.9 430.9M959.9 459.9Q833 405 912 291.5M968.5 377.5Q833 405 876.1 273.6M743.2 299.8Q833 405 941.5 319.2M971 395.8Q833 405 745.1 298.2M971.1 413.2Q833 405 841 543.1M712.7 336.7Q833 405 968.9 430.8M699 370.7Q833 405 867.9 271.2M912.3 518.3Q833 405 855.7 268.6M848.4 267.6Q833 405 958.7 462.6M707 462Q833 405 870.2 538.2M805.7 269.4Q833 405 967.4 372.3M828.1 543.2Q833 405 957.3 344.4M830.6 543.3Q833 405 931.8 308.2M961.3 353.3Q833 405 912.4 518.3M918.6 296.3Q833 405 965.1 445.9M788.9 536.1Q833 405 885.2 276.9M775.1 530.6Q833 405 713.1 336M959.8 349.7Q833 405 844.2 542.8M716.3 330.7Q833 405 713 473.8M771.7 281Q833 405 948.4 328.7M885.5 277Q833 405 728.1 314.9M865.6 539.4Q833 405 938.8 315.9M955.5 469.2Q833 405 702.8 358.3M819.7 542.7Q833 405 806 269.4M751.1 516.4Q833 405 696.6 382.1M701.2 446.9Q833 405 891.5 530.3M958.6 347.1Q833 405 720.8 485.9M695 414.3Q833 405 956.7 343.1M963.2 358.3Q833 405 857.3 541.1M822.1 542.9Q833 405 704.6 456.3M747 296.7Q833 405 755.8 519.7M700.3 443.9Q833 405 879.7 535.2M732.5 500.1Q833 405 888.5 278.3M752 517.1Q833 405 916 294.4M818 267.5Q833 405 705.8 459.2M971.1 412.2Q833 405 861 269.6M694.8 409.8Q833 405 892.1 530M706 350.4Q833 405 971.3 406.5M749.3 294.9Q833 405 721.2 486.5M702.9 452Q833 405 932 501.5M695.3 391.8Q833 405 965.2 364.2M696.7 428.7Q833 405 779.1 277.6M949 480.4Q833 405 708.2 345.4M842.2 267Q833 405 903.9 523.8M727.2 494Q833 405 969.1 380.3M970.4 389.5Q833 405 857.7 268.9M713.5 474.6Q833 405 882.3 275.8M716.3 479.3Q833 405 966.1 367.4M804.5 540.3Q833 405 798.2 271.2M832.9 266.7Q833 405 755.5 519.5M701.1 446.7Q833 405 930.3 503.2M815.7 267.8Q833 405 950.7 332.3M741.3 508.5Q833 405 969.7 426.3M971.2 410.8Q833 405 704.1 455.1M876.1 273.6Q833 405 946.2 484.5M930.4 503.2Q833 405 746.2 512.7M971.3 405.8Q833 405 851.5 267.9M790.2 536.5Q833 405 880.1 275M804.6 269.6Q833 405 822.2 542.9M828.7 266.8Q833 405 761 523.1M704.3 354.5Q833 405 856.3 268.7M753.5 518.1Q833 405 970.2 422.7M871.7 272.2Q833 405 712.6 336.9M949.7 330.8Q833 405 725.8 492.4M953.8 337.7Q833 405 713.5 474.5M744.1 510.9Q833 405 706.7 348.6M786.4 274.8Q833 405 919.5 512.9M809.9 541.3Q833 405 908.6 289.2M936.4 496.8Q833 405 696.7 428.6M718.6 482.7Q833 405 963.3 358.6M968.2 433.9Q833 405 772.5 280.6M965.6 444.5Q833 405 857.2 541.2M971.2 400.7Q833 405 883.7 533.7M948.2 328.4Q833 405 710.3 341.2M921.2 511.5Q833 405 947.4 327.3M694.7 406.4Q833 405 789 273.9M823.2 267Q833 405 698 374.8M894.6 281.2Q833 405 718.1 328.1M892.3 530Q833 405 762.3 286.1M809.8 268.7Q833 405 963.9 449.6M812.8 541.8Q833 405 960 459.8M696.7 428.6Q833 405 965 363.6M814.7 267.9Q833 405 704.4 456M749.2 515Q833 405 719.6 325.8M735.7 503.3Q833 405 910.5 290.5M965.5 365.3Q833 405 910.7 519.4M808.7 541.2Q833 405 696.8 381.1M881.6 534.5Q833 405 879.7 274.8M871.1 537.9Q833 405 700.7 364.8M764.7 525.2Q833 405 857.7 268.9M696.8 380.8Q833 405 964.9 446.5M830.9 266.7Q833 405 701.3 362.8M695.4 418.6Q833 405 883.8 276.4M923.7 300.6Q833 405 735.6 306.8M697.9 375.4Q833 405 935.2 498.2M940 492.6Q833 405 699.7 442M706.1 459.9Q833 405 970 386.2M757.7 521Q833 405 958.3 346.4M694.7 402.1Q833 405 872.9 272.6M971.3 404.1Q833 405 890.9 279.4M763.1 285.6Q833 405 712.6 473M867 270.9Q833 405 971.3 402.1M970.1 423.1Q833 405 697 430M736.2 503.8Q833 405 725.5 318M797.2 538.6Q833 405 694.8 399.2M904.5 286.6Q833 405 700.4 444.4M789.7 536.4Q833 405 938.5 315.5M931.9 501.7Q833 405 725.8 317.6M967.1 371.1Q833 405 747.3 513.5M694.8 409.5Q833 405 858.5 540.9M895.3 281.5Q833 405 957.8 464.6M704.2 354.7Q833 405 920 512.5M695.7 388.7Q833 405 897.7 282.8M896.3 528Q833 405 695.2 393.7M704.4 354.2Q833 405 969.2 381.2M719.3 483.7Q833 405 850.5 542.2M956.1 468.1Q833 405 725.2 318.3M694.7 408.4Q833 405 809.9 541.4M893.7 529.3Q833 405 716.5 330.5M912.2 291.6Q833 405 719.7 325.7M898.5 283.2Q833 405 964.4 448.2M778.7 532.2Q833 405 879.1 274.6M706 459.7Q833 405 876.8 273.8M696.5 382.9Q833 405 826.8 266.8M967.6 373.4Q833 405 708.4 345.1M900.9 284.5Q833 405 875 536.8M696.4 426.6Q833 405 942.6 489.3M968.4 433.4Q833 405 794.5 537.8M940.8 491.7Q833 405 840.3 266.9M935.9 497.4Q833 405 744 510.8M699.2 440Q833 405 971.2 409.7M765.3 284.4Q833 405 698.7 437.8M761.4 286.7Q833 405 932.6 501M702.3 359.8Q833 405 955.4 340.6M959 462Q833 405 694.7 404.4M777.8 278.2Q833 405 702.1 449.5M971.3 403.5Q833 405 718.1 481.9M936.4 496.8Q833 405 696.3 383.8M917.3 514.6Q833 405 708.1 345.6M963.1 358.1Q833 405 695.1 415.9M700.7 364.7Q833 405 956.6 467.1M714.6 333.6Q833 405 928.8 504.8M956.8 343.4Q833 405 720.7 324.3M738.9 303.7Q833 405 970.7 392.2M852.3 268Q833 405 804.8 540.4M795.1 538Q833 405 906.5 287.8M804 269.8Q833 405 776.3 531.1M702.7 358.7Q833 405 844.9 267.2M792.9 537.4Q833 405 971 395.3M902.7 285.5Q833 405 963.1 452M695.2 416.2Q833 405 830.3 543.3M903.2 285.8Q833 405 710.1 468.5M941.7 319.5Q833 405 703.7 355.9M721.6 487Q833 405 815.1 267.9M968.9 379.5Q833 405 749.9 294.5M814.3 542Q833 405 964 360.6M918.2 513.9Q833 405 698.3 373.8M805.6 269.4Q833 405 764 524.8M838.5 543.2Q833 405 849.1 267.6M697 430.1Q833 405 939.7 493M762.6 286Q833 405 942.1 490M710.3 341.3Q833 405 886 532.7M722.9 321.3Q833 405 784.2 534.4M713.4 335.5Q833 405 756.8 520.4M796.7 271.5Q833 405 789.2 536.2M812.3 541.7Q833 405 951.6 333.8M702.1 360.4Q833 405 971.3 405M899.3 526.4Q833 405 706.2 460.3M694.9 412.6Q833 405 775.2 530.7M930.5 503.1Q833 405 719.1 483.5M965.7 365.9Q833 405 718.9 483.2M966.5 441.1Q833 405 917.9 295.8M883.3 276.2Q833 405 890.7 530.7M924.3 301.2Q833 405 698.3 436.5M696.5 382.6Q833 405 885.7 277.1M885.8 277.2Q833 405 803 540M763.3 524.5Q833 405 941.2 491.1M864.3 270.3Q833 405 969.5 427.1M959.8 349.7Q833 405 836.4 543.3M970.7 392.3Q833 405 738.5 304M755.4 519.5Q833 405 759.5 287.9M959.9 350.1Q833 405 799.4 539.2M955.2 340.3Q833 405 718.2 327.9M961 457.3Q833 405 718.1 328.1M706.8 348.4Q833 405 963.6 450.6M971 414.1Q833 405 849.3 267.7M762 286.3Q833 405 961.9 455.1M792.5 537.2Q833 405 943.8 487.7M848.1 542.5Q833 405 700.6 365.1M875.5 273.4Q833 405 720.1 325.1M701.9 361.1Q833 405 969.6 383.1M809.1 541.2Q833 405 865.8 270.7M969.7 426.2Q833 405 915.3 293.8M717.4 480.9Q833 405 817.9 267.5M842.4 267Q833 405 839.4 543.2M932.9 500.7Q833 405 891.4 279.6M698.4 436.6Q833 405 968.2 434.3M948.5 328.9Q833 405 893 529.6M957.5 465.3Q833 405 715.6 478.1M731.7 310.8Q833 405 927.7 505.8M728.1 495.2Q833 405 862.6 540.1M970.6 419.3Q833 405 699 371M945.2 324.2Q833 405 712.2 337.7M834.2 266.7Q833 405 697.9 434.6M719.2 326.4Q833 405 781.4 533.3M901.5 284.8Q833 405 892.6 529.8M697.7 433.9Q833 405 788.6 274M850.2 542.2Q833 405 797.9 271.2M794.8 272.1Q833 405 821.5 542.8M725 318.6Q833 405 969.8 384.6M698.9 371.2Q833 405 970.6 391.1M763.9 285.2Q833 405 941.8 319.6M710.3 341.2Q833 405 935 311.6M795.8 538.2Q833 405 884.3 276.6M948.6 329.1Q833 405 737.6 304.8" stroke="#bdb6cb" stroke-width="0.5" stroke-opacity="0.4" fill="none"/>
<path d="M844.5 267.2A138.3 138.3 0 0 1 845.5 267.3Q833 405 883.3 276.2A138.3 138.3 0 0 0 882.8 276Q833 405 844.5 267.2ZM845.7 267.3A138.3 138.3 0 0 1 847 267.4Q833 405 885.3 277A138.3 138.3 0 0 0 884.2 276.5Q833 405 845.7 267.3ZM847.3 267.4A138.3 138.3 0 0 1 848 267.5Q833 405 886.6 277.5A138.3 138.3 0 0 0 886.1 277.3Q833 405 847.3 267.4ZM848.2 267.5A138.3 138.3 0 0 1 850.1 267.8Q833 405 887.3 277.8A138.3 138.3 0 0 0 885.7 277.1Q833 405 848.2 267.5ZM850.4 267.8A138.3 138.3 0 0 1 852.2 268Q833 405 889.2 278.6A138.3 138.3 0 0 0 887.7 278Q833 405 850.4 267.8ZM853.3 268.2A138.3 138.3 0 0 1 854.1 268.3Q833 405 890.6 279.3A138.3 138.3 0 0 0 889.9 279Q833 405 853.3 268.2ZM854.4 268.4A138.3 138.3 0 0 1 855.8 268.6Q833 405 892.1 279.9A138.3 138.3 0 0 0 890.9 279.4Q833 405 854.4 268.4ZM856 268.6A138.3 138.3 0 0 1 857.6 268.9Q833 405 894.2 281A138.3 138.3 0 0 0 892.8 280.3Q833 405 856 268.6ZM857.8 268.9A138.3 138.3 0 0 1 858.8 269.1Q833 405 895.2 281.5A138.3 138.3 0 0 0 894.3 281Q833 405 857.8 268.9ZM859.2 269.2A138.3 138.3 0 0 1 860.3 269.4Q833 405 895.3 281.5A138.3 138.3 0 0 0 894.4 281.1Q833 405 859.2 269.2ZM862.6 269.9A138.3 138.3 0 0 1 864.1 270.2Q833 405 898.4 283.2A138.3 138.3 0 0 0 897.2 282.5Q833 405 862.6 269.9ZM864.2 270.3A138.3 138.3 0 0 1 864.8 270.4Q833 405 900.4 284.2A138.3 138.3 0 0 0 899.9 283.9Q833 405 864.2 270.3ZM866.5 270.8A138.3 138.3 0 0 1 868.3 271.3Q833 405 902.2 285.2A138.3 138.3 0 0 0 900.7 284.4Q833 405 866.5 270.8ZM868.7 271.4A138.3 138.3 0 0 1 869.8 271.7Q833 405 904.1 286.4A138.3 138.3 0 0 0 903.1 285.8Q833 405 868.7 271.4ZM869.9 271.7A138.3 138.3 0 0 1 872.1 272.3Q833 405 905.7 287.3A138.3 138.3 0 0 0 903.9 286.3Q833 405 869.9 271.7ZM872.4 272.4A138.3 138.3 0 0 1 872.9 272.6Q833 405 906.4 287.8A138.3 138.3 0 0 0 906 287.6Q833 405 872.4 272.4ZM873.1 272.6A138.3 138.3 0 0 1 873.7 272.8Q833 405 907.3 288.4A138.3 138.3 0 0 0 906.8 288Q833 405 873.1 272.6ZM873.9 272.9A138.3 138.3 0 0 1 875.7 273.5Q833 405 908.9 289.4A138.3 138.3 0 0 0 907.4 288.4Q833 405 873.9 272.9ZM876 273.6A138.3 138.3 0 0 1 878 274.2Q833 405 910.3 290.3A138.3 138.3 0 0 0 908.7 289.2Q833 405 876 273.6ZM879.3 274.7A138.3 138.3 0 0 1 880.6 275.2Q833 405 911.8 291.3A138.3 138.3 0 0 0 910.7 290.6Q833 405 879.3 274.7ZM880.9 275.3A138.3 138.3 0 0 1 881.7 275.5Q833 405 912.4 291.8A138.3 138.3 0 0 0 911.8 291.4Q833 405 880.9 275.3ZM882.8 276A138.3 138.3 0 0 1 884.2 276.5Q833 405 914.8 293.5A138.3 138.3 0 0 0 914.3 293.1Q833 405 882.8 276ZM884.6 276.7A138.3 138.3 0 0 1 885.6 277.1Q833 405 917.4 295.4A138.3 138.3 0 0 0 916.5 294.8Q833 405 884.6 276.7ZM885.7 277.1A138.3 138.3 0 0 1 886.2 277.3Q833 405 917.9 295.8A138.3 138.3 0 0 0 917.5 295.5Q833 405 885.7 277.1ZM886.4 277.4A138.3 138.3 0 0 1 887 277.7Q833 405 917.1 295.2A138.3 138.3 0 0 0 916.6 294.8Q833 405 886.4 277.4ZM887.2 277.8A138.3 138.3 0 0 1 887.9 278.1Q833 405 918.4 296.2A138.3 138.3 0 0 0 917.8 295.7Q833 405 887.2 277.8ZM888.3 278.2A138.3 138.3 0 0 1 889.1 278.6Q833 405 918.8 296.6A138.3 138.3 0 0 0 918.1 296Q833 405 888.3 278.2ZM889.3 278.7A138.3 138.3 0 0 1 891.2 279.5Q833 405 920.8 298.2A138.3 138.3 0 0 0 919.3 296.9Q833 405 889.3 278.7ZM891.5 279.7A138.3 138.3 0 0 1 892.2 280Q833 405 922.1 299.2A138.3 138.3 0 0 0 921.4 298.7Q833 405 891.5 279.7ZM892.4 280.1A138.3 138.3 0 0 1 894.2 281Q833 405 924.5 301.3A138.3 138.3 0 0 0 923 300Q833 405 892.4 280.1ZM894.3 281.1A138.3 138.3 0 0 1 895.6 281.7Q833 405 925.1 301.8A138.3 138.3 0 0 0 924.1 300.9Q833 405 894.3 281.1ZM899.3 283.6A138.3 138.3 0 0 1 900.2 284.2Q833 405 928.4 304.9A138.3 138.3 0 0 0 927.7 304.2Q833 405 899.3 283.6ZM900.5 284.3A138.3 138.3 0 0 1 901.2 284.7Q833 405 928.9 305.4A138.3 138.3 0 0 0 928.4 304.9Q833 405 900.5 284.3ZM901.4 284.8A138.3 138.3 0 0 1 902 285.2Q833 405 930 306.4A138.3 138.3 0 0 0 929.5 305.9Q833 405 901.4 284.8ZM904.3 286.5A138.3 138.3 0 0 1 904.9 286.9Q833 405 932.6 309A138.3 138.3 0 0 0 932.1 308.5Q833 405 904.3 286.5ZM905.1 287A138.3 138.3 0 0 1 905.9 287.5Q833 405 932.7 309.1A138.3 138.3 0 0 0 932 308.4Q833 405 905.1 287ZM906.9 288.1A138.3 138.3 0 0 1 908.3 289Q833 405 934.5 311.1A138.3 138.3 0 0 0 933.4 309.9Q833 405 906.9 288.1ZM908.4 289A138.3 138.3 0 0 1 910 290.1Q833 405 936.6 313.4A138.3 138.3 0 0 0 935.4 312Q833 405 908.4 289ZM910.2 290.2A138.3 138.3 0 0 1 911.7 291.3Q833 405 937.5 314.4A138.3 138.3 0 0 0 936.3 313Q833 405 910.2 290.2ZM911.8 291.3A138.3 138.3 0 0 1 912.2 291.6Q833 405 938.4 315.5A138.3 138.3 0 0 0 938 315Q833 405 911.8 291.3ZM912.5 291.9A138.3 138.3 0 0 1 913.1 292.3Q833 405 938.4 315.4A138.3 138.3 0 0 0 937.9 314.9Q833 405 912.5 291.9ZM844.5 267.2A138.3 138.3 0 0 1 845.8 267.3Q833 405 915.8 294.2A138.3 138.3 0 0 0 914.9 293.5Q833 405 844.5 267.2ZM846.3 267.3A138.3 138.3 0 0 1 847.6 267.5Q833 405 916.3 294.6A138.3 138.3 0 0 0 915.4 293.9Q833 405 846.3 267.3ZM847.8 267.5A138.3 138.3 0 0 1 848.4 267.6Q833 405 917.2 295.3A138.3 138.3 0 0 0 916.8 295Q833 405 847.8 267.5ZM848.7 267.6A138.3 138.3 0 0 1 849.6 267.7Q833 405 918.7 296.4A138.3 138.3 0 0 0 918 295.9Q833 405 848.7 267.6ZM850 267.8A138.3 138.3 0 0 1 851.3 267.9Q833 405 918.6 296.3A138.3 138.3 0 0 0 917.7 295.7Q833 405 850 267.8ZM851.7 268A138.3 138.3 0 0 1 852.2 268Q833 405 919 296.7A138.3 138.3 0 0 0 918.7 296.4Q833 405 851.7 268ZM852.3 268.1A138.3 138.3 0 0 1 853.4 268.2Q833 405 920.5 297.9A138.3 138.3 0 0 0 919.8 297.3Q833 405 852.3 268.1ZM855.1 268.5A138.3 138.3 0 0 1 857 268.8Q833 405 923.4 300.3A138.3 138.3 0 0 0 922.1 299.3Q833 405 855.1 268.5ZM859.6 269.3A138.3 138.3 0 0 1 860.2 269.4Q833 405 925.4 302.1A138.3 138.3 0 0 0 925 301.8Q833 405 859.6 269.3ZM860.7 269.5A138.3 138.3 0 0 1 861.6 269.7Q833 405 926.1 302.8A138.3 138.3 0 0 0 925.5 302.2Q833 405 860.7 269.5ZM862 269.8A138.3 138.3 0 0 1 862.8 270Q833 405 927.1 303.6A138.3 138.3 0 0 0 926.5 303.1Q833 405 862 269.8ZM863 270A138.3 138.3 0 0 1 864.9 270.4Q833 405 928 304.5A138.3 138.3 0 0 0 926.8 303.3Q833 405 863 270ZM865.1 270.5A138.3 138.3 0 0 1 866.1 270.7Q833 405 928.4 304.8A138.3 138.3 0 0 0 927.8 304.3Q833 405 865.1 270.5ZM866.5 270.8A138.3 138.3 0 0 1 867.5 271.1Q833 405 930.2 306.7A138.3 138.3 0 0 0 929.6 306Q833 405 866.5 270.8ZM867.9 271.2A138.3 138.3 0 0 1 869.3 271.5Q833 405 930.5 306.9A138.3 138.3 0 0 0 929.6 306Q833 405 867.9 271.2ZM869.6 271.6A138.3 138.3 0 0 1 870.3 271.8Q833 405 931 307.4A138.3 138.3 0 0 0 930.5 306.9Q833 405 869.6 271.6ZM870.5 271.9A138.3 138.3 0 0 1 871.8 272.2Q833 405 932.7 309.1A138.3 138.3 0 0 0 931.8 308.3Q833 405 870.5 271.9ZM874.2 273A138.3 138.3 0 0 1 875.2 273.3Q833 405 935.4 312.1A138.3 138.3 0 0 0 934.8 311.4Q833 405 874.2 273ZM875.5 273.4A138.3 138.3 0 0 1 876.7 273.8Q833 405 935.6 312.3A138.3 138.3 0 0 0 934.9 311.5Q833 405 875.5 273.4ZM877.2 273.9A138.3 138.3 0 0 1 878.8 274.5Q833 405 937.2 314.1A138.3 138.3 0 0 0 936.2 312.9Q833 405 877.2 273.9ZM878.9 274.5A138.3 138.3 0 0 1 881 275.3Q833 405 938.1 315.1A138.3 138.3 0 0 0 936.9 313.7Q833 405 878.9 274.5ZM881.1 275.4A138.3 138.3 0 0 1 881.7 275.5Q833 405 938.6 315.7A138.3 138.3 0 0 0 938.3 315.3Q833 405 881.1 275.4ZM944.4 323A138.3 138.3 0 0 1 944.6 323.3Q833 405 961.4 353.6A138.3 138.3 0 0 0 961.4 353.6Q833 405 944.4 323ZM944.7 323.5A138.3 138.3 0 0 1 945.5 324.6Q833 405 962.4 356.2A138.3 138.3 0 0 0 961.8 354.6Q833 405 944.7 323.5ZM945.7 324.9A138.3 138.3 0 0 1 946.3 325.7Q833 405 963 357.9A138.3 138.3 0 0 0 962.6 356.7Q833 405 945.7 324.9ZM946.4 325.8A138.3 138.3 0 0 1 946.9 326.6Q833 405 963.6 359.5A138.3 138.3 0 0 0 963.2 358.4Q833 405 946.4 325.8ZM947 326.8A138.3 138.3 0 0 1 947.3 327.2Q833 405 963.5 359.2A138.3 138.3 0 0 0 963.3 358.6Q833 405 947 326.8ZM948.4 328.8A138.3 138.3 0 0 1 949 329.6Q833 405 964.6 362.4A138.3 138.3 0 0 0 964.1 361.1Q833 405 948.4 328.8ZM949 329.8A138.3 138.3 0 0 1 950.1 331.4Q833 405 965.6 365.6A138.3 138.3 0 0 0 964.8 363.1Q833 405 949 329.8ZM950.3 331.7A138.3 138.3 0 0 1 951.2 333.2Q833 405 966.1 367.4A138.3 138.3 0 0 0 965.5 365.3Q833 405 950.3 331.7ZM951.4 333.5A138.3 138.3 0 0 1 952.2 334.9Q833 405 967.1 371.1A138.3 138.3 0 0 0 966.6 369.1Q833 405 951.4 333.5ZM952.2 334.9A138.3 138.3 0 0 1 953.2 336.5Q833 405 967.9 374.5A138.3 138.3 0 0 0 967.3 372.1Q833 405 952.2 334.9ZM953.3 336.8A138.3 138.3 0 0 1 954.1 338.2Q833 405 968.3 376.3A138.3 138.3 0 0 0 967.9 374.3Q833 405 953.3 336.8ZM955.8 341.3A138.3 138.3 0 0 1 956.3 342.3Q833 405 969.3 381.5A138.3 138.3 0 0 0 969 380.1Q833 405 955.8 341.3ZM956.4 342.6A138.3 138.3 0 0 1 956.9 343.5Q833 405 969.7 384A138.3 138.3 0 0 0 969.5 382.6Q833 405 956.4 342.6ZM957.2 344.1A138.3 138.3 0 0 1 957.8 345.5Q833 405 969.9 385.1A138.3 138.3 0 0 0 969.6 383.3Q833 405 957.2 344.1ZM957.9 345.7A138.3 138.3 0 0 1 958.3 346.5Q833 405 970.3 388.6A138.3 138.3 0 0 0 970.2 387.5Q833 405 957.9 345.7ZM958.5 346.8A138.3 138.3 0 0 1 958.8 347.5Q833 405 970.5 389.9A138.3 138.3 0 0 0 970.4 388.9Q833 405 958.5 346.8ZM958.9 347.7A138.3 138.3 0 0 1 959.1 348.2Q833 405 970.3 388.8A138.3 138.3 0 0 0 970.3 388Q833 405 958.9 347.7ZM959.3 348.6A138.3 138.3 0 0 1 959.7 349.6Q833 405 970.8 392.9A138.3 138.3 0 0 0 970.6 391.5Q833 405 959.3 348.6ZM959.8 349.7A138.3 138.3 0 0 1 960.2 350.8Q833 405 970.9 394.3A138.3 138.3 0 0 0 970.8 392.8Q833 405 959.8 349.7ZM960.4 351.1A138.3 138.3 0 0 1 960.6 351.6Q833 405 970.9 394.9A138.3 138.3 0 0 0 970.9 394.2Q833 405 960.4 351.1ZM960.7 351.9A138.3 138.3 0 0 1 960.8 352.1Q833 405 970.9 395A138.3 138.3 0 0 0 970.9 394.7Q833 405 960.7 351.9ZM961.4 353.6A138.3 138.3 0 0 1 961.8 354.7Q833 405 971.1 397.8A138.3 138.3 0 0 0 971.1 396.8Q833 405 961.4 353.6ZM962 355.1A138.3 138.3 0 0 1 962.3 355.9Q833 405 971.1 398.4A138.3 138.3 0 0 0 971.1 397.7Q833 405 962 355.1ZM962.4 356.1A138.3 138.3 0 0 1 963.1 358.1Q833 405 971.2 401.2A138.3 138.3 0 0 0 971.2 399.3Q833 405 962.4 356.1ZM963.3 358.6A138.3 138.3 0 0 1 964 360.7Q833 405 971.3 404.4A138.3 138.3 0 0 0 971.3 402.4Q833 405 963.3 358.6ZM964.1 360.9A138.3 138.3 0 0 1 964.9 363.3Q833 405 971.3 405.6A138.3 138.3 0 0 0 971.3 403.4Q833 405 964.1 360.9ZM964.9 363.4A138.3 138.3 0 0 1 965.1 364Q833 405 971.3 407A138.3 138.3 0 0 0 971.3 406.4Q833 405 964.9 363.4ZM965.1 364.1A138.3 138.3 0 0 1 965.4 365Q833 405 971.3 408.1A138.3 138.3 0 0 0 971.3 407.2Q833 405 965.1 364.1ZM965.4 365.1A138.3 138.3 0 0 1 965.8 366.5Q833 405 971.3 408.1A138.3 138.3 0 0 0 971.3 406.7Q833 405 965.4 365.1ZM965.9 366.9A138.3 138.3 0 0 1 966.1 367.4Q833 405 971.2 409.1A138.3 138.3 0 0 0 971.3 408.6Q833 405 965.9 366.9ZM966.1 367.6A138.3 138.3 0 0 1 966.6 369.3Q833 405 971.1 411.6A138.3 138.3 0 0 0 971.2 410Q833 405 966.1 367.6ZM967 370.9A138.3 138.3 0 0 1 967.4 372.5Q833 405 971 414.2A138.3 138.3 0 0 0 971.1 412.7Q833 405 967 370.9ZM967.5 372.8A138.3 138.3 0 0 1 967.8 373.9Q833 405 970.8 416.5A138.3 138.3 0 0 0 970.9 415.4Q833 405 967.5 372.8ZM967.9 374.4A138.3 138.3 0 0 1 968.4 376.6Q833 405 970.7 417.9A138.3 138.3 0 0 0 970.9 415.9Q833 405 967.9 374.4ZM968.5 377.1A138.3 138.3 0 0 1 968.9 379.6Q833 405 970.4 421.1A138.3 138.3 0 0 0 970.6 418.8Q833 405 968.5 377.1ZM969 379.7A138.3 138.3 0 0 1 969.2 380.7Q833 405 970.2 422.6A138.3 138.3 0 0 0 970.3 421.7Q833 405 969 379.7ZM969.2 381A138.3 138.3 0 0 1 969.4 382.1Q833 405 970.2 422.5A138.3 138.3 0 0 0 970.3 421.5Q833 405 969.2 381ZM969.7 384.1A138.3 138.3 0 0 1 969.9 385.7Q833 405 969.7 426A138.3 138.3 0 0 0 969.9 424.6Q833 405 969.7 384.1ZM970 385.9A138.3 138.3 0 0 1 970.1 387Q833 405 969.5 427A138.3 138.3 0 0 0 969.7 426.1Q833 405 970 385.9ZM970.2 387.3A138.3 138.3 0 0 1 970.2 388Q833 405 969.3 428.3A138.3 138.3 0 0 0 969.4 427.7Q833 405 970.2 387.3ZM970.3 388.3A138.3 138.3 0 0 1 970.6 390.8Q833 405 969.1 429.5A138.3 138.3 0 0 0 969.5 427.3Q833 405 970.3 388.3ZM970.6 390.9A138.3 138.3 0 0 1 970.8 393.1Q833 405 968.4 433.1A138.3 138.3 0 0 0 968.8 431.2Q833 405 970.6 390.9ZM970.8 393.2A138.3 138.3 0 0 1 970.9 394.3Q833 405 968.4 433.3A138.3 138.3 0 0 0 968.6 432.4Q833 405 970.8 393.2ZM970.9 394.8A138.3 138.3 0 0 1 971 395.4Q833 405 968.2 434.3A138.3 138.3 0 0 0 968.3 433.8Q833 405 970.9 394.8ZM944.4 323A138.3 138.3 0 0 1 944.8 323.6Q833 405 971.1 398.1A138.3 138.3 0 0 0 971.1 397.2Q833 405 944.4 323ZM945 323.9A138.3 138.3 0 0 1 945.3 324.3Q833 405 971.2 398.8A138.3 138.3 0 0 0 971.1 398.2Q833 405 945 323.9ZM945.5 324.6A138.3 138.3 0 0 1 945.8 325Q833 405 971.2 400.7A138.3 138.3 0 0 0 971.2 400.1Q833 405 945.5 324.6ZM945.8 325A138.3 138.3 0 0 1 946.6 326.2Q833 405 971.2 400.3A138.3 138.3 0 0 0 971.2 398.7Q833 405 945.8 325ZM946.8 326.5A138.3 138.3 0 0 1 947.1 326.8Q833 405 971.3 401.6A138.3 138.3 0 0 0 971.2 401.1Q833 405 946.8 326.5ZM947.2 327.1A138.3 138.3 0 0 1 948.1 328.3Q833 405 971.3 404A138.3 138.3 0 0 0 971.3 402.3Q833 405 947.2 327.1ZM948.2 328.5A138.3 138.3 0 0 1 948.7 329.2Q833 405 971.3 405A138.3 138.3 0 0 0 971.3 404.1Q833 405 948.2 328.5ZM948.8 329.4A138.3 138.3 0 0 1 949.3 330.1Q833 405 971.3 405.4A138.3 138.3 0 0 0 971.3 404.5Q833 405 948.8 329.4ZM949.3 330.2A138.3 138.3 0 0 1 949.8 331Q833 405 971.3 406.8A138.3 138.3 0 0 0 971.3 405.8Q833 405 949.3 330.2ZM950 331.2A138.3 138.3 0 0 1 950.9 332.7Q833 405 971.2 409.6A138.3 138.3 0 0 0 971.3 407.6Q833 405 950 331.2ZM951 332.9A138.3 138.3 0 0 1 951.9 334.4Q833 405 971.1 412.6A138.3 138.3 0 0 0 971.2 410.6Q833 405 951 332.9ZM952.1 334.7A138.3 138.3 0 0 1 952.9 336Q833 405 971 414.1A138.3 138.3 0 0 0 971.1 412.4Q833 405 952.1 334.7ZM953 336.2A138.3 138.3 0 0 1 953.6 337.2Q833 405 970.9 416A138.3 138.3 0 0 0 971 414.7Q833 405 953 336.2ZM953.7 337.4A138.3 138.3 0 0 1 954.5 338.9Q833 405 970.8 417A138.3 138.3 0 0 0 970.9 415.1Q833 405 953.7 337.4ZM955.1 340A138.3 138.3 0 0 1 955.7 341.3Q833 405 970.3 421.9A138.3 138.3 0 0 0 970.4 420.3Q833 405 955.1 340ZM956.7 343.2A138.3 138.3 0 0 1 957.4 344.6Q833 405 969.8 425.4A138.3 138.3 0 0 0 970 423.6Q833 405 956.7 343.2ZM958.5 346.8A138.3 138.3 0 0 1 959.2 348.4Q833 405 968.8 431A138.3 138.3 0 0 0 969.2 429Q833 405 958.5 346.8ZM959.2 348.5A138.3 138.3 0 0 1 959.7 349.6Q833 405 968.6 432.2A138.3 138.3 0 0 0 968.9 430.8Q833 405 959.2 348.5ZM959.8 349.8A138.3 138.3 0 0 1 960.3 351Q833 405 968.2 434.1A138.3 138.3 0 0 0 968.5 432.8Q833 405 959.8 349.8ZM960.5 351.3A138.3 138.3 0 0 1 960.6 351.7Q833 405 968.2 434.2A138.3 138.3 0 0 0 968.3 433.8Q833 405 960.5 351.3ZM960.7 351.8A138.3 138.3 0 0 1 960.8 352.1Q833 405 968.2 434.2A138.3 138.3 0 0 0 968.3 433.9Q833 405 960.7 351.8ZM966 443.1A138.3 138.3 0 0 1 965.5 444.7Q833 405 952.6 474.5A138.3 138.3 0 0 0 953.9 472.2Q833 405 966 443.1ZM965.4 444.8A138.3 138.3 0 0 1 965.1 445.8Q833 405 952.2 475.2A138.3 138.3 0 0 0 953 473.8Q833 405 965.4 444.8ZM965.1 445.9A138.3 138.3 0 0 1 964.8 447Q833 405 951.5 476.4A138.3 138.3 0 0 0 952.4 474.7Q833 405 965.1 445.9ZM964.7 447.2A138.3 138.3 0 0 1 964.5 447.7Q833 405 949.5 479.6A138.3 138.3 0 0 0 949.9 478.8Q833 405 964.7 447.2ZM964.5 447.9A138.3 138.3 0 0 1 964 449.4Q833 405 948.8 480.7A138.3 138.3 0 0 0 950 478.7Q833 405 964.5 447.9ZM963.4 451.1A138.3 138.3 0 0 1 963.1 452Q833 405 946.5 484A138.3 138.3 0 0 0 947.4 482.6Q833 405 963.4 451.1ZM963 452.2A138.3 138.3 0 0 1 962.4 453.9Q833 405 945.2 485.8A138.3 138.3 0 0 0 946.8 483.6Q833 405 963 452.2ZM962.4 453.9A138.3 138.3 0 0 1 961.9 455.1Q833 405 943.4 488.3A138.3 138.3 0 0 0 944.6 486.7Q833 405 962.4 453.9ZM961.9 455.2A138.3 138.3 0 0 1 961.4 456.3Q833 405 942.4 489.6A138.3 138.3 0 0 0 943.5 488.1Q833 405 961.9 455.2ZM961.3 456.6A138.3 138.3 0 0 1 961 457.4Q833 405 941.7 490.4A138.3 138.3 0 0 0 942.6 489.4Q833 405 961.3 456.6ZM960.9 457.7A138.3 138.3 0 0 1 960.2 459.2Q833 405 939.6 493.1A138.3 138.3 0 0 0 941.2 491.1Q833 405 960.9 457.7ZM960.2 459.4A138.3 138.3 0 0 1 959.5 460.9Q833 405 936.8 496.4A138.3 138.3 0 0 0 938.5 494.4Q833 405 960.2 459.4ZM959.4 461.1A138.3 138.3 0 0 1 959.1 461.7Q833 405 937 496.2A138.3 138.3 0 0 0 937.7 495.4Q833 405 959.4 461.1ZM959.1 461.9A138.3 138.3 0 0 1 958.3 463.4Q833 405 933.7 499.8A138.3 138.3 0 0 0 935.5 497.9Q833 405 959.1 461.9ZM958.3 463.6A138.3 138.3 0 0 1 958.1 464Q833 405 933.6 499.9A138.3 138.3 0 0 0 934.1 499.3Q833 405 958.3 463.6ZM958.1 464.1A138.3 138.3 0 0 1 957.3 465.6Q833 405 932.6 501A138.3 138.3 0 0 0 934.3 499.1Q833 405 958.1 464.1ZM957.2 465.8A138.3 138.3 0 0 1 956.7 466.9Q833 405 929.2 504.3A138.3 138.3 0 0 0 930.6 503Q833 405 957.2 465.8ZM956.6 467.1A138.3 138.3 0 0 1 956.3 467.7Q833 405 928.3 505.3A138.3 138.3 0 0 0 929 504.6Q833 405 956.6 467.1ZM956.2 467.9A138.3 138.3 0 0 1 955.4 469.4Q833 405 926.4 507A138.3 138.3 0 0 0 928.4 505.1Q833 405 956.2 467.9ZM955.3 469.6A138.3 138.3 0 0 1 954.8 470.6Q833 405 925.4 507.9A138.3 138.3 0 0 0 926.6 506.8Q833 405 955.3 469.6ZM954.1 471.8A138.3 138.3 0 0 1 953.1 473.6Q833 405 923.2 509.8A138.3 138.3 0 0 0 924.1 509.1Q833 405 954.1 471.8ZM953 473.8A138.3 138.3 0 0 1 952.4 474.8Q833 405 922.6 510.4A138.3 138.3 0 0 0 923.2 509.8Q833 405 953 473.8ZM952.3 474.9A138.3 138.3 0 0 1 951.9 475.6Q833 405 922.5 510.4A138.3 138.3 0 0 0 922.9 510.1Q833 405 952.3 474.9ZM951.9 475.6A138.3 138.3 0 0 1 950.6 477.8Q833 405 920.4 512.2A138.3 138.3 0 0 0 921.7 511.1Q833 405 951.9 475.6ZM950.5 478A138.3 138.3 0 0 1 950.2 478.5Q833 405 919.9 512.6A138.3 138.3 0 0 0 920.2 512.4Q833 405 950.5 478ZM950.1 478.6A138.3 138.3 0 0 1 949.2 480Q833 405 919 513.3A138.3 138.3 0 0 0 919.9 512.6Q833 405 950.1 478.6ZM947.6 482.5A138.3 138.3 0 0 1 946.3 484.3Q833 405 916 515.6A138.3 138.3 0 0 0 917.3 514.7Q833 405 947.6 482.5ZM941.9 490.2A138.3 138.3 0 0 1 941.5 490.7Q833 405 910.8 519.3A138.3 138.3 0 0 0 911.2 519.1Q833 405 941.9 490.2ZM941.4 490.9A138.3 138.3 0 0 1 940.8 491.7Q833 405 910.4 519.6A138.3 138.3 0 0 0 910.9 519.2Q833 405 941.4 490.9ZM940.6 491.9A138.3 138.3 0 0 1 939.5 493.2Q833 405 909 520.5A138.3 138.3 0 0 0 910 519.9Q833 405 940.6 491.9ZM938.8 494.1A138.3 138.3 0 0 1 937.2 496Q833 405 908.2 521.1A138.3 138.3 0 0 0 909.7 520.1Q833 405 938.8 494.1ZM936.9 496.3A138.3 138.3 0 0 1 935.4 497.9Q833 405 905.2 522.9A138.3 138.3 0 0 0 906.5 522.1Q833 405 936.9 496.3ZM935.2 498.2A138.3 138.3 0 0 1 934 499.5Q833 405 904.9 523.1A138.3 138.3 0 0 0 906 522.5Q833 405 935.2 498.2ZM933.1 500.5A138.3 138.3 0 0 1 932.5 501.1Q833 405 903.1 524.2A138.3 138.3 0 0 0 903.6 523.9Q833 405 933.1 500.5ZM932.3 501.3A138.3 138.3 0 0 1 931.7 501.8Q833 405 902.8 524.4A138.3 138.3 0 0 0 903.2 524.1Q833 405 932.3 501.3ZM930.3 503.3A138.3 138.3 0 0 1 928.4 505.2Q833 405 900.3 525.8A138.3 138.3 0 0 0 901.9 524.9Q833 405 930.3 503.3ZM928 505.5A138.3 138.3 0 0 1 927.2 506.3Q833 405 898.6 526.7A138.3 138.3 0 0 0 899.3 526.4Q833 405 928 505.5ZM927 506.5A138.3 138.3 0 0 1 926 507.4Q833 405 898.7 526.7A138.3 138.3 0 0 0 899.5 526.3Q833 405 927 506.5ZM925.6 507.7A138.3 138.3 0 0 1 925.4 507.9Q833 405 897.3 527.4A138.3 138.3 0 0 0 897.3 527.4Q833 405 925.6 507.7ZM966 443.1A138.3 138.3 0 0 1 965.8 443.5Q833 405 923.8 509.3A138.3 138.3 0 0 0 924.1 509.1Q833 405 966 443.1ZM965.8 443.6A138.3 138.3 0 0 1 965.4 444.8Q833 405 922.5 510.4A138.3 138.3 0 0 0 923.5 509.5Q833 405 965.8 443.6ZM965.4 445.1A138.3 138.3 0 0 1 965.2 445.5Q833 405 922.3 510.6A138.3 138.3 0 0 0 922.7 510.3Q833 405 965.4 445.1ZM965.2 445.7A138.3 138.3 0 0 1 964.7 447.1Q833 405 920.1 512.4A138.3 138.3 0 0 0 921.4 511.4Q833 405 965.2 445.7ZM964.7 447.2A138.3 138.3 0 0 1 964.6 447.6Q833 405 919.8 512.7A138.3 138.3 0 0 0 920.1 512.4Q833 405 964.7 447.2ZM964.5 447.8A138.3 138.3 0 0 1 964 449.4Q833 405 919 513.3A138.3 138.3 0 0 0 920.4 512.2Q833 405 964.5 447.8ZM963.9 449.6A138.3 138.3 0 0 1 963.6 450.6Q833 405 918 514.1A138.3 138.3 0 0 0 918.9 513.4Q833 405 963.9 449.6ZM963.5 450.7A138.3 138.3 0 0 1 963.1 452Q833 405 916.7 515.1A138.3 138.3 0 0 0 917.9 514.2Q833 405 963.5 450.7ZM962.3 454A138.3 138.3 0 0 1 962 454.9Q833 405 913 517.8A138.3 138.3 0 0 0 913.8 517.2Q833 405 962.3 454ZM961.9 455.2A138.3 138.3 0 0 1 961.2 456.8Q833 405 912.1 518.4A138.3 138.3 0 0 0 913.7 517.3Q833 405 961.9 455.2ZM961.2 456.9A138.3 138.3 0 0 1 961 457.3Q833 405 911.1 519.2A138.3 138.3 0 0 0 911.5 518.9Q833 405 961.2 456.9ZM960.9 457.6A138.3 138.3 0 0 1 960.7 458.1Q833 405 910.9 519.3A138.3 138.3 0 0 0 911.3 519Q833 405 960.9 457.6ZM960 459.6A138.3 138.3 0 0 1 959.4 461.1Q833 405 907.9 521.3A138.3 138.3 0 0 0 909.3 520.3Q833 405 960 459.6ZM959 462.1A138.3 138.3 0 0 1 958.4 463.3Q833 405 904.3 523.5A138.3 138.3 0 0 0 905.6 522.7Q833 405 959 462.1ZM957.5 465.3A138.3 138.3 0 0 1 957.2 465.9Q833 405 901.9 524.9A138.3 138.3 0 0 0 902.5 524.5Q833 405 957.5 465.3ZM957.1 466A138.3 138.3 0 0 1 956.7 466.9Q833 405 901.4 525.2A138.3 138.3 0 0 0 902.3 524.7Q833 405 957.1 466ZM956.5 467.2A138.3 138.3 0 0 1 955.8 468.7Q833 405 898.7 526.7A138.3 138.3 0 0 0 900.2 525.9Q833 405 956.5 467.2ZM955.6 469A138.3 138.3 0 0 1 954.8 470.4Q833 405 898.2 527A138.3 138.3 0 0 0 899.8 526.1Q833 405 955.6 469ZM954.8 470.6A138.3 138.3 0 0 1 954.8 470.6Q833 405 897.9 527.1A138.3 138.3 0 0 0 897.9 527.1Q833 405 954.8 470.6ZM889.4 531.3A138.3 138.3 0 0 1 888.8 531.6Q833 405 856.1 541.4A138.3 138.3 0 0 0 856.3 541.3Q833 405 889.4 531.3ZM888.6 531.6A138.3 138.3 0 0 1 887.2 532.2Q833 405 850.9 542.1A138.3 138.3 0 0 0 853.3 541.8Q833 405 888.6 531.6ZM887 532.3A138.3 138.3 0 0 1 886.1 532.7Q833 405 850.6 542.2A138.3 138.3 0 0 0 852.1 542Q833 405 887 532.3ZM885.7 532.8A138.3 138.3 0 0 1 885.1 533.1Q833 405 850.1 542.2A138.3 138.3 0 0 0 851.2 542.1Q833 405 885.7 532.8ZM885 533.1A138.3 138.3 0 0 1 884.6 533.3Q833 405 849 542.4A138.3 138.3 0 0 0 849.7 542.3Q833 405 885 533.1ZM884.6 533.3A138.3 138.3 0 0 1 883.8 533.6Q833 405 847.8 542.5A138.3 138.3 0 0 0 849.1 542.4Q833 405 884.6 533.3ZM883.5 533.7A138.3 138.3 0 0 1 882.1 534.3Q833 405 843.9 542.9A138.3 138.3 0 0 0 846.3 542.7Q833 405 883.5 533.7ZM878.6 535.6A138.3 138.3 0 0 1 878.1 535.7Q833 405 837.9 543.2A138.3 138.3 0 0 0 838.8 543.2Q833 405 878.6 535.6ZM875.3 536.7A138.3 138.3 0 0 1 874.3 537Q833 405 830.7 543.3A138.3 138.3 0 0 0 832.5 543.3Q833 405 875.3 536.7ZM873.1 537.4A138.3 138.3 0 0 1 871.7 537.8Q833 405 826.6 543.1A138.3 138.3 0 0 0 829 543.2Q833 405 873.1 537.4ZM871.5 537.8A138.3 138.3 0 0 1 870.6 538.1Q833 405 824.3 543A138.3 138.3 0 0 0 825.9 543.1Q833 405 871.5 537.8ZM869 538.5A138.3 138.3 0 0 1 868.2 538.7Q833 405 820 542.7A138.3 138.3 0 0 0 821.3 542.8Q833 405 869 538.5ZM868 538.8A138.3 138.3 0 0 1 867 539.1Q833 405 817.4 542.4A138.3 138.3 0 0 0 819.2 542.6Q833 405 868 538.8ZM866.7 539.1A138.3 138.3 0 0 1 865.5 539.4Q833 405 816.6 542.3A138.3 138.3 0 0 0 818.7 542.6Q833 405 866.7 539.1ZM865.4 539.4A138.3 138.3 0 0 1 864.6 539.7Q833 405 813.6 541.9A138.3 138.3 0 0 0 815 542.1Q833 405 865.4 539.4ZM864.2 539.7A138.3 138.3 0 0 1 863.6 539.9Q833 405 813.6 541.9A138.3 138.3 0 0 0 814.6 542.1Q833 405 864.2 539.7ZM862.7 540.1A138.3 138.3 0 0 1 860.8 540.5Q833 405 807.5 540.9A138.3 138.3 0 0 0 810.5 541.5Q833 405 862.7 540.1ZM860.6 540.5A138.3 138.3 0 0 1 859.2 540.8Q833 405 807 540.8A138.3 138.3 0 0 0 809.3 541.3Q833 405 860.6 540.5ZM859.1 540.8A138.3 138.3 0 0 1 858.4 541Q833 405 805.2 540.5A138.3 138.3 0 0 0 806.4 540.7Q833 405 859.1 540.8ZM858.1 541A138.3 138.3 0 0 1 857.7 541.1Q833 405 803.3 540.1A138.3 138.3 0 0 0 803.8 540.2Q833 405 858.1 541ZM856.3 541.3A138.3 138.3 0 0 1 854 541.7Q833 405 799.8 539.3A138.3 138.3 0 0 0 801.1 539.6Q833 405 856.3 541.3ZM853.6 541.8A138.3 138.3 0 0 1 851.9 542Q833 405 799.2 539.1A138.3 138.3 0 0 0 800.1 539.3Q833 405 853.6 541.8ZM851.6 542A138.3 138.3 0 0 1 849.8 542.3Q833 405 798.6 539A138.3 138.3 0 0 0 799.6 539.2Q833 405 851.6 542ZM849.3 542.3A138.3 138.3 0 0 1 848.5 542.4Q833 405 797.4 538.6A138.3 138.3 0 0 0 797.8 538.7Q833 405 849.3 542.3ZM848 542.5A138.3 138.3 0 0 1 847 542.6Q833 405 796.2 538.3A138.3 138.3 0 0 0 796.7 538.5Q833 405 848 542.5ZM846.6 542.6A138.3 138.3 0 0 1 844.3 542.8Q833 405 795.5 538.1A138.3 138.3 0 0 0 796.7 538.5Q833 405 846.6 542.6ZM843.9 542.9A138.3 138.3 0 0 1 841.4 543Q833 405 793.8 537.6A138.3 138.3 0 0 0 795.2 538Q833 405 843.9 542.9ZM841.3 543.1A138.3 138.3 0 0 1 838.5 543.2Q833 405 792.8 537.3A138.3 138.3 0 0 0 794.3 537.8Q833 405 841.3 543.1ZM834.7 543.3A138.3 138.3 0 0 1 833.5 543.3Q833 405 790 536.4A138.3 138.3 0 0 0 790.6 536.6Q833 405 834.7 543.3ZM833 543.3A138.3 138.3 0 0 1 831.6 543.3Q833 405 789 536.1A138.3 138.3 0 0 0 789.7 536.4Q833 405 833 543.3ZM831 543.3A138.3 138.3 0 0 1 828.4 543.2Q833 405 787.4 535.6A138.3 138.3 0 0 0 788.8 536Q833 405 831 543.3ZM819.5 542.6A138.3 138.3 0 0 1 817.6 542.4Q833 405 781 533.2A138.3 138.3 0 0 0 782 533.6Q833 405 819.5 542.6ZM816.9 542.4A138.3 138.3 0 0 1 814.7 542.1Q833 405 778.7 532.2A138.3 138.3 0 0 0 779.9 532.7Q833 405 816.9 542.4ZM812.3 541.7A138.3 138.3 0 0 1 810.8 541.5Q833 405 777.2 531.5A138.3 138.3 0 0 0 777.9 531.9Q833 405 812.3 541.7ZM810.7 541.5A138.3 138.3 0 0 1 807.7 541Q833 405 775.3 530.7A138.3 138.3 0 0 0 776.9 531.4Q833 405 810.7 541.5ZM807.3 540.9A138.3 138.3 0 0 1 806.2 540.7Q833 405 775.4 530.8A138.3 138.3 0 0 0 776 531Q833 405 807.3 540.9ZM805.8 540.6A138.3 138.3 0 0 1 804.5 540.3Q833 405 774 530.1A138.3 138.3 0 0 0 774.7 530.4Q833 405 805.8 540.6ZM804.2 540.3A138.3 138.3 0 0 1 803.3 540.1Q833 405 773.4 529.8A138.3 138.3 0 0 0 773.5 529.8Q833 405 804.2 540.3ZM889.4 531.3A138.3 138.3 0 0 1 888.1 531.8Q833 405 801.2 539.6A138.3 138.3 0 0 0 801.9 539.8Q833 405 889.4 531.3ZM887.8 532A138.3 138.3 0 0 1 886.7 532.4Q833 405 799 539.1A138.3 138.3 0 0 0 800 539.3Q833 405 887.8 532ZM886.4 532.6A138.3 138.3 0 0 1 886 532.8Q833 405 798.2 538.8A138.3 138.3 0 0 0 798.6 539Q833 405 886.4 532.6ZM885.9 532.8A138.3 138.3 0 0 1 885.4 533Q833 405 798.2 538.8A138.3 138.3 0 0 0 798.6 539Q833 405 885.9 532.8ZM885.3 533A138.3 138.3 0 0 1 884.4 533.4Q833 405 796.9 538.5A138.3 138.3 0 0 0 797.7 538.7Q833 405 885.3 533ZM882.3 534.2A138.3 138.3 0 0 1 881.8 534.4Q833 405 794 537.7A138.3 138.3 0 0 0 794.5 537.8Q833 405 882.3 534.2ZM880 535.1A138.3 138.3 0 0 1 878.2 535.7Q833 405 792 537.1A138.3 138.3 0 0 0 793.7 537.6Q833 405 880 535.1ZM875.8 536.5A138.3 138.3 0 0 1 875.3 536.7Q833 405 789.4 536.3A138.3 138.3 0 0 0 789.9 536.4Q833 405 875.8 536.5ZM875.1 536.7A138.3 138.3 0 0 1 873.6 537.2Q833 405 786.9 535.4A138.3 138.3 0 0 0 788.3 535.9Q833 405 875.1 536.7ZM873.3 537.3A138.3 138.3 0 0 1 872.7 537.5Q833 405 786.7 535.3A138.3 138.3 0 0 0 787.3 535.5Q833 405 873.3 537.3ZM871.2 537.9A138.3 138.3 0 0 1 869.4 538.4Q833 405 783.9 534.3A138.3 138.3 0 0 0 785.5 534.9Q833 405 871.2 537.9ZM869.2 538.5A138.3 138.3 0 0 1 867.7 538.9Q833 405 782.5 533.7A138.3 138.3 0 0 0 783.8 534.3Q833 405 869.2 538.5ZM867.6 538.9A138.3 138.3 0 0 1 866.5 539.2Q833 405 780.4 532.9A138.3 138.3 0 0 0 781.3 533.3Q833 405 867.6 538.9ZM866.2 539.3A138.3 138.3 0 0 1 865.1 539.5Q833 405 779.8 532.7A138.3 138.3 0 0 0 780.8 533.1Q833 405 866.2 539.3ZM864.8 539.6A138.3 138.3 0 0 1 863.3 539.9Q833 405 778.6 532.1A138.3 138.3 0 0 0 779.9 532.7Q833 405 864.8 539.6ZM863.3 539.9A138.3 138.3 0 0 1 862.4 540.1Q833 405 777.3 531.6A138.3 138.3 0 0 0 778 531.9Q833 405 863.3 539.9ZM862.3 540.2A138.3 138.3 0 0 1 861.8 540.3Q833 405 777.4 531.6A138.3 138.3 0 0 0 777.8 531.8Q833 405 862.3 540.2ZM861.7 540.3A138.3 138.3 0 0 1 860 540.6Q833 405 775.9 531A138.3 138.3 0 0 0 777.4 531.6Q833 405 861.7 540.3ZM859.7 540.7A138.3 138.3 0 0 1 859 540.8Q833 405 774 530.1A138.3 138.3 0 0 0 774.6 530.3Q833 405 859.7 540.7ZM858.9 540.9A138.3 138.3 0 0 1 857.7 541.1Q833 405 774.2 530.2A138.3 138.3 0 0 0 775.2 530.6Q833 405 858.9 540.9ZM765.8 525.9A138.3 138.3 0 0 1 764 524.9Q833 405 736 503.6A138.3 138.3 0 0 0 736.9 504.5Q833 405 765.8 525.9ZM763.9 524.8A138.3 138.3 0 0 1 763.1 524.3Q833 405 733.7 501.3A138.3 138.3 0 0 0 734.6 502.2Q833 405 763.9 524.8ZM761.2 523.2A138.3 138.3 0 0 1 760.7 522.9Q833 405 731 498.4A138.3 138.3 0 0 0 731.5 499Q833 405 761.2 523.2ZM756.2 520A138.3 138.3 0 0 1 754.7 519Q833 405 725.1 491.5A138.3 138.3 0 0 0 726.6 493.3Q833 405 756.2 520ZM753.1 517.9A138.3 138.3 0 0 1 751.7 516.9Q833 405 722.2 487.8A138.3 138.3 0 0 0 723.6 489.6Q833 405 753.1 517.9ZM749.5 515.2A138.3 138.3 0 0 1 749 514.9Q833 405 719.3 483.7A138.3 138.3 0 0 0 719.7 484.3Q833 405 749.5 515.2ZM748.8 514.7A138.3 138.3 0 0 1 747.9 514Q833 405 718.3 482.3A138.3 138.3 0 0 0 719.1 483.5Q833 405 748.8 514.7ZM747.7 513.9A138.3 138.3 0 0 1 747 513.3Q833 405 717.4 480.9A138.3 138.3 0 0 0 718.1 482Q833 405 747.7 513.9ZM746.1 512.6A138.3 138.3 0 0 1 745.3 512Q833 405 717.1 480.5A138.3 138.3 0 0 0 717.8 481.6Q833 405 746.1 512.6ZM743.6 510.5A138.3 138.3 0 0 1 743.2 510.2Q833 405 714.2 475.7A138.3 138.3 0 0 0 714.5 476.3Q833 405 743.6 510.5ZM743.1 510.1A138.3 138.3 0 0 1 742.8 509.8Q833 405 714.4 476.1A138.3 138.3 0 0 0 714.7 476.6Q833 405 743.1 510.1ZM742.8 509.8A138.3 138.3 0 0 1 741.4 508.6Q833 405 712.7 473.2A138.3 138.3 0 0 0 713.9 475.2Q833 405 742.8 509.8ZM741.1 508.4A138.3 138.3 0 0 1 740.4 507.7Q833 405 712.7 473.2A138.3 138.3 0 0 0 713.3 474.4Q833 405 741.1 508.4ZM740.1 507.5A138.3 138.3 0 0 1 739.3 506.7Q833 405 711.1 470.3A138.3 138.3 0 0 0 711.8 471.7Q833 405 740.1 507.5ZM739.1 506.5A138.3 138.3 0 0 1 738 505.5Q833 405 710.1 468.4A138.3 138.3 0 0 0 710.6 469.4Q833 405 739.1 506.5ZM736.9 504.5A138.3 138.3 0 0 1 735.7 503.3Q833 405 709 466.2A138.3 138.3 0 0 0 709.4 467.1Q833 405 736.9 504.5ZM735.3 502.9A138.3 138.3 0 0 1 734.5 502Q833 405 708.1 464.4A138.3 138.3 0 0 0 708.5 465.3Q833 405 735.3 502.9ZM734.3 501.9A138.3 138.3 0 0 1 733.8 501.3Q833 405 708.3 464.8A138.3 138.3 0 0 0 708.6 465.4Q833 405 734.3 501.9ZM733.5 501A138.3 138.3 0 0 1 733.1 500.6Q833 405 707.5 463.2A138.3 138.3 0 0 0 707.7 463.6Q833 405 733.5 501ZM732.8 500.4A138.3 138.3 0 0 1 731.7 499.2Q833 405 706.6 461.1A138.3 138.3 0 0 0 707.1 462.3Q833 405 732.8 500.4ZM731.5 499A138.3 138.3 0 0 1 730.3 497.6Q833 405 706 459.7A138.3 138.3 0 0 0 706.5 461Q833 405 731.5 499ZM730 497.3A138.3 138.3 0 0 1 728.6 495.7Q833 405 705.6 458.9A138.3 138.3 0 0 0 706.3 460.5Q833 405 730 497.3ZM728.4 495.4A138.3 138.3 0 0 1 726.6 493.4Q833 405 704.6 456.4A138.3 138.3 0 0 0 705.4 458.3Q833 405 728.4 495.4ZM726.4 493.1A138.3 138.3 0 0 1 725.5 492Q833 405 703.8 454.3A138.3 138.3 0 0 0 704.2 455.3Q833 405 726.4 493.1ZM725.3 491.7A138.3 138.3 0 0 1 724.3 490.5Q833 405 703.3 452.9A138.3 138.3 0 0 0 703.7 454.1Q833 405 725.3 491.7ZM724 490.1A138.3 138.3 0 0 1 723 488.8Q833 405 702.6 451.2A138.3 138.3 0 0 0 703.1 452.5Q833 405 724 490.1ZM722.8 488.5A138.3 138.3 0 0 1 721.7 487.1Q833 405 702.4 450.6A138.3 138.3 0 0 0 702.9 451.9Q833 405 722.8 488.5ZM721.5 486.8A138.3 138.3 0 0 1 720.9 485.9Q833 405 702.3 450.3A138.3 138.3 0 0 0 702.6 451.2Q833 405 721.5 486.8ZM719.9 484.6A138.3 138.3 0 0 1 719.5 484Q833 405 701.6 448.2A138.3 138.3 0 0 0 701.8 448.7Q833 405 719.9 484.6ZM718.1 482A138.3 138.3 0 0 1 717.4 481Q833 405 700.9 445.9A138.3 138.3 0 0 0 701.2 446.8Q833 405 718.1 482ZM717.2 480.6A138.3 138.3 0 0 1 715.8 478.5Q833 405 699.9 442.5A138.3 138.3 0 0 0 700.4 444.3Q833 405 717.2 480.6ZM715.6 478.2A138.3 138.3 0 0 1 714.9 477Q833 405 699.6 441.4A138.3 138.3 0 0 0 699.9 442.4Q833 405 715.6 478.2ZM714.8 476.8A138.3 138.3 0 0 1 713.8 475.1Q833 405 699.1 439.7A138.3 138.3 0 0 0 699.5 441.2Q833 405 714.8 476.8ZM713.6 474.7A138.3 138.3 0 0 1 712.7 473.2Q833 405 698.5 437.4A138.3 138.3 0 0 0 698.9 438.7Q833 405 713.6 474.7ZM712.4 472.8A138.3 138.3 0 0 1 711.2 470.5Q833 405 698 434.9A138.3 138.3 0 0 0 698.4 436.8Q833 405 712.4 472.8ZM711.1 470.3A138.3 138.3 0 0 1 710.3 468.7Q833 405 697.8 434.1A138.3 138.3 0 0 0 698.1 435.4Q833 405 711.1 470.3ZM710.1 468.4A138.3 138.3 0 0 1 710.1 468.4Q833 405 697.8 434.3A138.3 138.3 0 0 0 697.8 434.3Q833 405 710.1 468.4ZM765.8 525.9A138.3 138.3 0 0 1 764.7 525.3Q833 405 709.4 466.9A138.3 138.3 0 0 0 709.4 467.1Q833 405 765.8 525.9ZM764.4 525.1A138.3 138.3 0 0 1 762.9 524.2Q833 405 708.3 464.7A138.3 138.3 0 0 0 709.1 466.4Q833 405 764.4 525.1ZM762.9 524.2A138.3 138.3 0 0 1 762.1 523.7Q833 405 707.4 462.8A138.3 138.3 0 0 0 707.8 463.7Q833 405 762.9 524.2ZM762 523.7A138.3 138.3 0 0 1 760.4 522.7Q833 405 707.1 462.3A138.3 138.3 0 0 0 707.9 464Q833 405 762 523.7ZM760.2 522.6A138.3 138.3 0 0 1 759.7 522.3Q833 405 706.6 461A138.3 138.3 0 0 0 706.8 461.6Q833 405 760.2 522.6ZM759.6 522.2A138.3 138.3 0 0 1 759.1 521.9Q833 405 706.1 460A138.3 138.3 0 0 0 706.4 460.6Q833 405 759.6 522.2ZM758.8 521.7A138.3 138.3 0 0 1 757.3 520.8Q833 405 705.6 458.9A138.3 138.3 0 0 0 706.3 460.5Q833 405 758.8 521.7ZM757.2 520.7A138.3 138.3 0 0 1 756.2 520Q833 405 704.9 457.1A138.3 138.3 0 0 0 705.4 458.3Q833 405 757.2 520.7ZM755.9 519.8A138.3 138.3 0 0 1 754.7 519Q833 405 704 454.7A138.3 138.3 0 0 0 704.5 456.1Q833 405 755.9 519.8ZM751 516.4A138.3 138.3 0 0 1 749.6 515.3Q833 405 701.7 448.3A138.3 138.3 0 0 0 702.2 450Q833 405 751 516.4ZM748 514.1A138.3 138.3 0 0 1 747.4 513.6Q833 405 700.8 445.7A138.3 138.3 0 0 0 701 446.4Q833 405 748 514.1ZM746.1 512.6A138.3 138.3 0 0 1 744.9 511.6Q833 405 700.3 443.8A138.3 138.3 0 0 0 700.7 445.4Q833 405 746.1 512.6ZM744.8 511.5A138.3 138.3 0 0 1 744.1 511Q833 405 699.8 442.4A138.3 138.3 0 0 0 700.1 443.2Q833 405 744.8 511.5ZM743.9 510.8A138.3 138.3 0 0 1 743.4 510.4Q833 405 699.6 441.6A138.3 138.3 0 0 0 699.8 442.2Q833 405 743.9 510.8ZM743.2 510.2A138.3 138.3 0 0 1 741.7 508.9Q833 405 699.2 440A138.3 138.3 0 0 0 699.7 442Q833 405 743.2 510.2ZM741.5 508.7A138.3 138.3 0 0 1 740.9 508.2Q833 405 698.9 438.7A138.3 138.3 0 0 0 699.1 439.5Q833 405 741.5 508.7ZM740.8 508.1A138.3 138.3 0 0 1 740.3 507.6Q833 405 698.4 436.9A138.3 138.3 0 0 0 698.6 437.6Q833 405 740.8 508.1ZM740.2 507.6A138.3 138.3 0 0 1 739.6 507Q833 405 698.2 436.1A138.3 138.3 0 0 0 698.5 437Q833 405 740.2 507.6ZM739.5 506.9A138.3 138.3 0 0 1 738.5 506Q833 405 697.9 434.5A138.3 138.3 0 0 0 698.2 435.8Q833 405 739.5 506.9ZM738.4 505.9A138.3 138.3 0 0 1 738 505.5Q833 405 698 434.9A138.3 138.3 0 0 0 698.1 435.5Q833 405 738.4 505.9ZM696.2 425.3A138.3 138.3 0 0 1 696.1 424.8Q833 405 695.4 390.9A138.3 138.3 0 0 0 695.4 391.5Q833 405 696.2 425.3ZM696.1 424.4A138.3 138.3 0 0 1 696 423.8Q833 405 695.7 388.6A138.3 138.3 0 0 0 695.6 389.5Q833 405 696.1 424.4ZM695.9 423.5A138.3 138.3 0 0 1 695.9 423Q833 405 695.7 388.3A138.3 138.3 0 0 0 695.6 389Q833 405 695.9 423.5ZM695.9 422.9A138.3 138.3 0 0 1 695.7 421.4Q833 405 695.9 387.1A138.3 138.3 0 0 0 695.6 389.2Q833 405 695.9 422.9ZM695.6 421.2A138.3 138.3 0 0 1 695.6 420.3Q833 405 696.2 384.5A138.3 138.3 0 0 0 696 385.8Q833 405 695.6 421.2ZM695.5 420.2A138.3 138.3 0 0 1 695.5 419.7Q833 405 696.2 384.6A138.3 138.3 0 0 0 696.1 385.4Q833 405 695.5 420.2ZM695.5 419.6A138.3 138.3 0 0 1 695.3 418.2Q833 405 696.6 382.1A138.3 138.3 0 0 0 696.3 384.1Q833 405 695.5 419.6ZM695.3 417.8A138.3 138.3 0 0 1 695.2 416.5Q833 405 697.4 377.9A138.3 138.3 0 0 0 697 379.8Q833 405 695.3 417.8ZM695.2 416.3A138.3 138.3 0 0 1 695.1 415.5Q833 405 697.4 378.1A138.3 138.3 0 0 0 697.1 379.2Q833 405 695.2 416.3ZM695 413.4A138.3 138.3 0 0 1 694.9 412.2Q833 405 698.5 372.6A138.3 138.3 0 0 0 698.2 374.2Q833 405 695 413.4ZM694.9 412.1A138.3 138.3 0 0 1 694.8 411.2Q833 405 698.8 371.5A138.3 138.3 0 0 0 698.5 372.8Q833 405 694.9 412.1ZM694.8 411A138.3 138.3 0 0 1 694.8 410.5Q833 405 699.5 369A138.3 138.3 0 0 0 699.3 369.8Q833 405 694.8 411ZM694.8 410.3A138.3 138.3 0 0 1 694.7 408.5Q833 405 699.8 367.9A138.3 138.3 0 0 0 699.1 370.4Q833 405 694.8 410.3ZM694.7 408.2A138.3 138.3 0 0 1 694.7 406.5Q833 405 700.4 365.7A138.3 138.3 0 0 0 699.7 368.1Q833 405 694.7 408.2ZM694.8 400.6A138.3 138.3 0 0 1 694.8 399.6Q833 405 704.5 354A138.3 138.3 0 0 0 703.9 355.3Q833 405 694.8 400.6ZM694.8 399.4A138.3 138.3 0 0 1 694.9 397.7Q833 405 704.9 352.9A138.3 138.3 0 0 0 704 355.2Q833 405 694.8 399.4ZM694.9 397.5A138.3 138.3 0 0 1 695 396.1Q833 405 706 350.2A138.3 138.3 0 0 0 705.2 352.1Q833 405 694.9 397.5ZM695 395.9A138.3 138.3 0 0 1 695.1 394.4Q833 405 707.2 347.5A138.3 138.3 0 0 0 706.4 349.4Q833 405 695 395.9ZM695.1 394.4A138.3 138.3 0 0 1 695.2 393.2Q833 405 707.8 346.3A138.3 138.3 0 0 0 707.5 346.9Q833 405 695.1 394.4ZM695.4 391.5A138.3 138.3 0 0 1 695.5 389.9Q833 405 708.7 344.4A138.3 138.3 0 0 0 708.4 345Q833 405 695.4 391.5ZM695.6 389.7A138.3 138.3 0 0 1 695.6 389Q833 405 708.8 344.2A138.3 138.3 0 0 0 708.7 344.4Q833 405 695.6 389.7ZM695.6 389A138.3 138.3 0 0 1 695.8 387.8Q833 405 709.1 343.5A138.3 138.3 0 0 0 708.9 343.9Q833 405 695.6 389ZM696.1 385.1A138.3 138.3 0 0 1 696.4 383.3Q833 405 709.7 342.3A138.3 138.3 0 0 0 709.4 343Q833 405 696.1 385.1ZM696.5 382.9A138.3 138.3 0 0 1 696.9 380.5Q833 405 710.7 340.5A138.3 138.3 0 0 0 710.2 341.4Q833 405 696.5 382.9ZM696.9 380.2A138.3 138.3 0 0 1 697.3 378.5Q833 405 710.9 340A138.3 138.3 0 0 0 710.6 340.7Q833 405 696.9 380.2ZM699.1 370.4A138.3 138.3 0 0 1 699.6 368.6Q833 405 712.9 336.4A138.3 138.3 0 0 0 712.5 337.1Q833 405 699.1 370.4ZM699.7 368.3A138.3 138.3 0 0 1 700 367.2Q833 405 713.2 335.9A138.3 138.3 0 0 0 712.9 336.3Q833 405 699.7 368.3ZM702.4 359.5A138.3 138.3 0 0 1 703.2 357.1Q833 405 716 331.2A138.3 138.3 0 0 0 715.4 332.2Q833 405 702.4 359.5ZM704.5 354A138.3 138.3 0 0 1 704.8 353.1Q833 405 716.5 330.5A138.3 138.3 0 0 0 716.3 330.8Q833 405 704.5 354ZM706.2 349.8A138.3 138.3 0 0 1 707.2 347.4Q833 405 718.4 327.7A138.3 138.3 0 0 0 717.7 328.6Q833 405 706.2 349.8ZM707.3 347.4A138.3 138.3 0 0 1 707.7 346.5Q833 405 718.4 327.5A138.3 138.3 0 0 0 718.4 327.6Q833 405 707.3 347.4ZM696.2 425.3A138.3 138.3 0 0 1 696 424.1Q833 405 708.6 344.7A138.3 138.3 0 0 0 708.4 345Q833 405 696.2 425.3ZM696 423.7A138.3 138.3 0 0 1 695.8 422.4Q833 405 709.1 343.6A138.3 138.3 0 0 0 708.7 344.4Q833 405 696 423.7ZM695.8 422.2A138.3 138.3 0 0 1 695.6 420.3Q833 405 709.5 342.7A138.3 138.3 0 0 0 709 343.7Q833 405 695.8 422.2ZM695.4 418.4A138.3 138.3 0 0 1 695.3 417.6Q833 405 710.5 340.9A138.3 138.3 0 0 0 710.2 341.3Q833 405 695.4 418.4ZM695.3 417.5A138.3 138.3 0 0 1 695.1 415.7Q833 405 711.3 339.4A138.3 138.3 0 0 0 710.7 340.4Q833 405 695.3 417.5ZM694.9 412.7A138.3 138.3 0 0 1 694.8 411.1Q833 405 712.3 337.5A138.3 138.3 0 0 0 711.8 338.4Q833 405 694.9 412.7ZM694.8 410.8A138.3 138.3 0 0 1 694.8 409.4Q833 405 713.2 335.9A138.3 138.3 0 0 0 712.8 336.7Q833 405 694.8 410.8ZM694.8 409.1A138.3 138.3 0 0 1 694.7 408.5Q833 405 713.6 335.3A138.3 138.3 0 0 0 713.4 335.6Q833 405 694.8 409.1ZM694.7 408.3A138.3 138.3 0 0 1 694.7 406.4Q833 405 713.9 334.6A138.3 138.3 0 0 0 713.3 335.7Q833 405 694.7 408.3ZM694.7 406.1A138.3 138.3 0 0 1 694.7 404.9Q833 405 714.4 333.9A138.3 138.3 0 0 0 714 334.5Q833 405 694.7 406.1ZM694.8 400.7A138.3 138.3 0 0 1 694.8 398.8Q833 405 716.8 330A138.3 138.3 0 0 0 716.1 331Q833 405 694.8 400.7ZM694.8 398.8A138.3 138.3 0 0 1 694.9 397.9Q833 405 717 329.6A138.3 138.3 0 0 0 716.8 330.1Q833 405 694.8 398.8ZM694.9 397.8A138.3 138.3 0 0 1 695 396.5Q833 405 717.5 328.9A138.3 138.3 0 0 0 717.1 329.5Q833 405 694.9 397.8ZM695 396.3A138.3 138.3 0 0 1 695.1 395.1Q833 405 717.7 328.7A138.3 138.3 0 0 0 717.3 329.3Q833 405 695 396.3ZM695.1 394.9A138.3 138.3 0 0 1 695.2 393.2Q833 405 718.2 327.9A138.3 138.3 0 0 0 717.6 328.8Q833 405 695.1 394.9ZM722.9 321.3A138.3 138.3 0 0 1 724.1 319.7Q833 405 751.8 293.1A138.3 138.3 0 0 0 749.9 294.4Q833 405 722.9 321.3ZM724.2 319.6A138.3 138.3 0 0 1 724.8 318.9Q833 405 751.6 293.2A138.3 138.3 0 0 0 750.8 293.8Q833 405 724.2 319.6ZM724.9 318.8A138.3 138.3 0 0 1 725.7 317.8Q833 405 753.2 292.1A138.3 138.3 0 0 0 752 292.9Q833 405 724.9 318.8ZM726.3 317A138.3 138.3 0 0 1 727.5 315.5Q833 405 755.7 290.3A138.3 138.3 0 0 0 753.9 291.6Q833 405 726.3 317ZM728.4 314.5A138.3 138.3 0 0 1 728.7 314.1Q833 405 758 288.8A138.3 138.3 0 0 0 757.6 289.1Q833 405 728.4 314.5ZM728.9 314A138.3 138.3 0 0 1 729.5 313.2Q833 405 758.2 288.7A138.3 138.3 0 0 0 757.2 289.3Q833 405 728.9 314ZM734.6 307.8A138.3 138.3 0 0 1 735.5 306.9Q833 405 767.8 283A138.3 138.3 0 0 0 766.5 283.7Q833 405 734.6 307.8ZM736.9 305.5A138.3 138.3 0 0 1 738.1 304.4Q833 405 771.5 281.1A138.3 138.3 0 0 0 769.8 282Q833 405 736.9 305.5ZM738.4 304.1A138.3 138.3 0 0 1 739.7 302.9Q833 405 773.5 280.2A138.3 138.3 0 0 0 771.6 281.1Q833 405 738.4 304.1ZM739.9 302.7A138.3 138.3 0 0 1 740.3 302.4Q833 405 773.6 280.1A138.3 138.3 0 0 0 773.1 280.3Q833 405 739.9 302.7ZM740.6 302.1A138.3 138.3 0 0 1 741.7 301.1Q833 405 776.7 278.7A138.3 138.3 0 0 0 775.2 279.3Q833 405 740.6 302.1ZM741.8 301A138.3 138.3 0 0 1 743.2 299.8Q833 405 778.3 278A138.3 138.3 0 0 0 776.4 278.8Q833 405 741.8 301ZM743.6 299.5A138.3 138.3 0 0 1 744.6 298.7Q833 405 781 276.9A138.3 138.3 0 0 0 779.6 277.4Q833 405 743.6 299.5ZM744.7 298.6A138.3 138.3 0 0 1 746.3 297.3Q833 405 782.7 276.2A138.3 138.3 0 0 0 780.5 277.1Q833 405 744.7 298.6ZM746.6 297A138.3 138.3 0 0 1 747.2 296.6Q833 405 784.6 275.4A138.3 138.3 0 0 0 783.8 275.8Q833 405 746.6 297ZM747.3 296.5A138.3 138.3 0 0 1 747.6 296.2Q833 405 784.7 275.4A138.3 138.3 0 0 0 784.2 275.6Q833 405 747.3 296.5ZM747.9 296A138.3 138.3 0 0 1 748 295.9Q833 405 784.1 275.6A138.3 138.3 0 0 0 783.9 275.7Q833 405 747.9 296ZM749.2 295A138.3 138.3 0 0 1 750 294.4Q833 405 787.6 274.4A138.3 138.3 0 0 0 786.8 274.6Q833 405 749.2 295ZM750.2 294.3A138.3 138.3 0 0 1 750.7 293.8Q833 405 788.3 274.1A138.3 138.3 0 0 0 787.7 274.3Q833 405 750.2 294.3ZM750.8 293.8A138.3 138.3 0 0 1 752.3 292.7Q833 405 790.1 273.5A138.3 138.3 0 0 0 788.7 274Q833 405 750.8 293.8ZM752.3 292.7A138.3 138.3 0 0 1 752.8 292.3Q833 405 790.3 273.5A138.3 138.3 0 0 0 789.8 273.6Q833 405 752.3 292.7ZM754.3 291.2A138.3 138.3 0 0 1 755.7 290.4Q833 405 793.6 272.4A138.3 138.3 0 0 0 792.4 272.8Q833 405 754.3 291.2ZM755.9 290.2A138.3 138.3 0 0 1 757.9 288.9Q833 405 794.3 272.2A138.3 138.3 0 0 0 792.3 272.8Q833 405 755.9 290.2ZM758.2 288.7A138.3 138.3 0 0 1 759.4 287.9Q833 405 796.4 271.6A138.3 138.3 0 0 0 795.3 272Q833 405 758.2 288.7ZM760.5 287.2A138.3 138.3 0 0 1 761.9 286.4Q833 405 798.8 271A138.3 138.3 0 0 0 797.4 271.4Q833 405 760.5 287.2ZM762.3 286.2A138.3 138.3 0 0 1 762.9 285.8Q833 405 799.3 270.9A138.3 138.3 0 0 0 798.7 271Q833 405 762.3 286.2ZM763 285.7A138.3 138.3 0 0 1 765 284.6Q833 405 801 270.5A138.3 138.3 0 0 0 799.1 270.9Q833 405 763 285.7ZM767.1 283.4A138.3 138.3 0 0 1 768.1 282.9Q833 405 805 269.6A138.3 138.3 0 0 0 804.1 269.8Q833 405 767.1 283.4ZM768.3 282.8A138.3 138.3 0 0 1 768.8 282.5Q833 405 805 269.6A138.3 138.3 0 0 0 804.4 269.7Q833 405 768.3 282.8ZM769.1 282.3A138.3 138.3 0 0 1 770.7 281.5Q833 405 808 269A138.3 138.3 0 0 0 806.5 269.3Q833 405 769.1 282.3ZM773.4 280.2A138.3 138.3 0 0 1 774.4 279.7Q833 405 811.5 268.4A138.3 138.3 0 0 0 810.5 268.5Q833 405 773.4 280.2ZM776.2 278.9A138.3 138.3 0 0 1 778.1 278.1Q833 405 814.8 267.9A138.3 138.3 0 0 0 813.1 268.1Q833 405 776.2 278.9ZM778.3 278A138.3 138.3 0 0 1 779.6 277.4Q833 405 816 267.8A138.3 138.3 0 0 0 814.8 267.9Q833 405 778.3 278ZM779.9 277.3A138.3 138.3 0 0 1 781.9 276.5Q833 405 817.7 267.5A138.3 138.3 0 0 0 815.9 267.8Q833 405 779.9 277.3ZM782 276.4A138.3 138.3 0 0 1 783.1 276Q833 405 818.5 267.5A138.3 138.3 0 0 0 817.5 267.6Q833 405 782 276.4ZM783.3 276A138.3 138.3 0 0 1 784.8 275.4Q833 405 819.9 267.3A138.3 138.3 0 0 0 818.5 267.5Q833 405 783.3 276ZM722.9 321.3A138.3 138.3 0 0 1 723.4 320.7Q833 405 787.9 274.3A138.3 138.3 0 0 0 787.2 274.5Q833 405 722.9 321.3ZM723.5 320.5A138.3 138.3 0 0 1 724 319.8Q833 405 787.7 274.3A138.3 138.3 0 0 0 787 274.6Q833 405 723.5 320.5ZM724.1 319.7A138.3 138.3 0 0 1 725.2 318.4Q833 405 789.4 273.7A138.3 138.3 0 0 0 787.9 274.3Q833 405 724.1 319.7ZM725.3 318.2A138.3 138.3 0 0 1 726.5 316.8Q833 405 792.5 272.8A138.3 138.3 0 0 0 790.8 273.3Q833 405 725.3 318.2ZM726.7 316.5A138.3 138.3 0 0 1 728 314.9Q833 405 794.6 272.1A138.3 138.3 0 0 0 792.7 272.7Q833 405 726.7 316.5ZM728.1 314.9A138.3 138.3 0 0 1 728.7 314.2Q833 405 795.4 271.9A138.3 138.3 0 0 0 794.6 272.1Q833 405 728.1 314.9ZM729.9 312.8A138.3 138.3 0 0 1 730.6 312Q833 405 797.6 271.3A138.3 138.3 0 0 0 796.6 271.6Q833 405 729.9 312.8ZM730.6 312A138.3 138.3 0 0 1 731.3 311.3Q833 405 798.5 271.1A138.3 138.3 0 0 0 797.6 271.3Q833 405 730.6 312ZM731.5 311A138.3 138.3 0 0 1 732.1 310.4Q833 405 798.8 271A138.3 138.3 0 0 0 798.1 271.2Q833 405 731.5 311ZM732.3 310.2A138.3 138.3 0 0 1 733.7 308.7Q833 405 802.2 270.2A138.3 138.3 0 0 0 800.3 270.6Q833 405 732.3 310.2ZM733.8 308.6A138.3 138.3 0 0 1 734.6 307.8Q833 405 803.1 270A138.3 138.3 0 0 0 802 270.2Q833 405 733.8 308.6ZM734.9 307.5A138.3 138.3 0 0 1 736.1 306.3Q833 405 804.1 269.7A138.3 138.3 0 0 0 802.6 270.1Q833 405 734.9 307.5ZM737.3 305.1A138.3 138.3 0 0 1 738.1 304.4Q833 405 807.1 269.2A138.3 138.3 0 0 0 806.1 269.3Q833 405 737.3 305.1ZM738.2 304.3A138.3 138.3 0 0 1 739 303.6Q833 405 808.2 268.9A138.3 138.3 0 0 0 807.2 269.1Q833 405 738.2 304.3ZM739.1 303.5A138.3 138.3 0 0 1 740.3 302.4Q833 405 810.7 268.5A138.3 138.3 0 0 0 809.1 268.8Q833 405 739.1 303.5ZM741 301.8A138.3 138.3 0 0 1 741.6 301.2Q833 405 812.9 268.2A138.3 138.3 0 0 0 812.1 268.3Q833 405 741 301.8ZM741.7 301.2A138.3 138.3 0 0 1 742 300.8Q833 405 813 268.2A138.3 138.3 0 0 0 812.5 268.2Q833 405 741.7 301.2ZM742.2 300.6A138.3 138.3 0 0 1 743.2 299.9Q833 405 814.6 267.9A138.3 138.3 0 0 0 813.4 268.1Q833 405 742.2 300.6ZM743.3 299.7A138.3 138.3 0 0 1 743.8 299.3Q833 405 814.7 267.9A138.3 138.3 0 0 0 814.1 268Q833 405 743.3 299.7ZM745.2 298.2A138.3 138.3 0 0 1 745.8 297.7Q833 405 818 267.5A138.3 138.3 0 0 0 817.2 267.6Q833 405 745.2 298.2ZM746.1 297.4A138.3 138.3 0 0 1 746.6 297Q833 405 819.2 267.4A138.3 138.3 0 0 0 818.6 267.5Q833 405 746.1 297.4ZM746.7 296.9A138.3 138.3 0 0 1 747.2 296.5Q833 405 819.1 267.4A138.3 138.3 0 0 0 818.4 267.5Q833 405 746.7 296.9ZM747.4 296.4A138.3 138.3 0 0 1 748 295.9Q833 405 819.6 267.4A138.3 138.3 0 0 0 818.8 267.4Q833 405 747.4 296.4Z" fill="#a8a2c0" fill-opacity="0.42"/>
<path d="M862 269.8Q833 405 897 282.4M881.4 275.4Q833 405 912.3 291.7M878 274.2Q833 405 909.6 289.8M879.5 274.7Q833 405 911.5 291.1M845.1 267.2Q833 405 882.8 276M851.1 267.9Q833 405 889.1 278.6M872.7 272.5Q833 405 907.7 288.6M878.3 274.3Q833 405 909.7 289.9M878.1 274.2Q833 405 910.7 290.6M859.5 269.3Q833 405 895.7 281.7M880.5 275.1Q833 405 912.5 291.9M878.2 274.3Q833 405 909.8 290M844.5 267.2Q833 405 882.8 276M875 273.2Q833 405 908.5 289.2M880.8 275.2Q833 405 912 291.5M881.5 275.5Q833 405 912.1 291.6M848.5 267.6Q833 405 886 277.2M851.9 268Q833 405 889.4 278.7M866.7 270.9Q833 405 899.6 283.8M881.1 275.3Q833 405 912.4 291.7M874.5 273.1Q833 405 908.1 288.9M845.8 267.3Q833 405 883.7 276.3M851.3 267.9Q833 405 888 278.1M850.8 267.8Q833 405 886.7 277.5M874.1 273Q833 405 905.6 287.3M845.8 267.3Q833 405 883.4 276.2M861.2 269.6Q833 405 896.8 282.3M853.5 268.2Q833 405 889.7 278.9M864.3 270.3Q833 405 900.4 284.2M854.1 268.3Q833 405 890.4 279.2M892.7 280.2Q833 405 922.4 299.5M887.5 277.9Q833 405 917.6 295.6M892.1 279.9Q833 405 921.6 298.8M912.4 291.8Q833 405 938.3 315.4M896.3 282Q833 405 925.2 301.9M891.7 279.8Q833 405 922.5 299.5M887.6 277.9Q833 405 919 296.7M884.8 276.8Q833 405 916.5 294.7M893.1 280.4Q833 405 922.4 299.5M888.7 278.4Q833 405 918.6 296.4M895.7 281.7Q833 405 924.2 301.1M887.1 277.7Q833 405 917.8 295.8M888.9 278.5Q833 405 919.3 297M895.2 281.5Q833 405 924.6 301.4M912.1 291.6Q833 405 938.7 315.8M894.5 281.1Q833 405 924 300.9M898.9 283.4Q833 405 927.9 304.4M886.4 277.4Q833 405 918.1 295.9M909.4 289.7Q833 405 937 313.8M904.9 286.9Q833 405 931.7 308.1M886.8 277.6Q833 405 918.8 296.5M912.3 291.7Q833 405 938.2 315.2M884.4 276.6Q833 405 915 293.6M912.9 292.1Q833 405 938.7 315.8M894.6 281.2Q833 405 923.8 300.7M912.6 291.9Q833 405 937.6 314.5M911.2 291Q833 405 937.6 314.5M900.5 284.3Q833 405 928.9 305.4M894.3 281Q833 405 924.7 301.5M885.3 277Q833 405 916 294.4M876.5 273.7Q833 405 934.6 311.2M859 269.2Q833 405 923.7 300.6M879.2 274.6Q833 405 936.7 313.5M863 270Q833 405 924.7 301.5M881.4 275.5Q833 405 937.8 314.8M847.3 267.4Q833 405 917.4 295.4M874.3 273Q833 405 935.4 312.1M848.9 267.6Q833 405 917.6 295.6M868.2 271.2Q833 405 930.9 307.3M849.4 267.7Q833 405 916.9 295.1M881.5 275.5Q833 405 938.7 315.8M850 267.8Q833 405 918.9 296.6M861.4 269.7Q833 405 925.6 302.3M869.7 271.7Q833 405 932 308.4M860.4 269.4Q833 405 924.9 301.6M869.6 271.6Q833 405 932.1 308.5M862 269.8Q833 405 926.5 303.1M847 267.4Q833 405 915.1 293.7M872.3 272.4Q833 405 933.5 310M845.4 267.3Q833 405 915.1 293.7M863.8 270.2Q833 405 927.7 304.2M852.7 268.1Q833 405 920.2 297.7M880.6 275.1Q833 405 937.8 314.7M850.4 267.8Q833 405 919.7 297.2M846.2 267.3Q833 405 917.5 295.5M879.7 274.8Q833 405 938.5 315.6M858.4 269.1Q833 405 923.3 300.3M846.4 267.3Q833 405 916 294.4M852.9 268.1Q833 405 920 297.5M872.6 272.5Q833 405 933.2 309.7M960.5 351.5Q833 405 970.8 393.8M954.7 339.2Q833 405 968.9 379.3M959.6 349.3Q833 405 970.8 392.9M945.1 324Q833 405 961.7 354.5M958.1 346.1Q833 405 970 386.4M955.2 340.3Q833 405 969.1 380.2M957 343.8Q833 405 969.6 383.1M949.9 331.1Q833 405 965.5 365.3M959.1 348.2Q833 405 970.6 391M948.8 329.4Q833 405 965.1 364M955.9 341.7Q833 405 969.1 380.3M960.6 351.7Q833 405 970.9 394.6M945 323.8Q833 405 961.7 354.4M953.8 337.7Q833 405 967.6 373.3M953.4 337Q833 405 967.8 373.9M960.4 351.2Q833 405 970.9 394.2M944.8 323.6Q833 405 962.3 356.1M945 323.9Q833 405 961.8 354.5M944.4 323Q833 405 961.4 353.6M944.7 323.4Q833 405 962 355.2M947.8 327.8Q833 405 963.6 359.5M947.9 328.1Q833 405 963.8 360M957.9 345.7Q833 405 969.8 384.5M951.3 333.3Q833 405 966.7 369.6M951.4 333.6Q833 405 966 367M959.7 349.4Q833 405 970.7 392M960.1 350.5Q833 405 970.9 394.6M945.8 325Q833 405 963.5 359.3M946.8 326.4Q833 405 963.5 359.3M948.6 329.1Q833 405 964.6 362.5M970.9 394.4Q833 405 968.2 434.3M961.8 354.6Q833 405 971.1 396.8M970.5 389.8Q833 405 969 430.3M966.6 369.3Q833 405 971.2 410.9M965.8 366.5Q833 405 971.3 408M970.8 393.7Q833 405 968.5 432.5M962 355.1Q833 405 971.1 397.9M964.9 363.4Q833 405 971.3 407.3M970.8 393.2Q833 405 968.3 433.5M970.8 393.6Q833 405 968.2 434.1M968.1 375.3Q833 405 970.9 415.7M969.6 383.7Q833 405 969.8 425.4M970.5 390.6Q833 405 968.9 430.5M963.3 358.8Q833 405 971.2 400.5M967.6 373Q833 405 970.9 415M970.8 393.4Q833 405 968.5 432.8M969.5 382.9Q833 405 969.7 425.7M970.5 390.2Q833 405 969.2 429.1M969.7 384.3Q833 405 969.7 425.7M968.8 378.9Q833 405 970.6 419.1M970.9 394.8Q833 405 968.6 432M963.9 360.4Q833 405 971.2 400.4M967 370.8Q833 405 971 414.7M970.3 388Q833 405 969.6 426.4M963.6 359.6Q833 405 971.3 402.4M965.2 364.3Q833 405 971.3 407.1M969.5 382.5Q833 405 970.4 421.1M970.9 394.8Q833 405 968.2 434M970.7 391.7Q833 405 968.6 432.1M964.7 362.8Q833 405 971.3 404.6M956.2 342.2Q833 405 970.2 422.8M948.5 328.9Q833 405 971.3 406.5M946.3 325.8Q833 405 971.2 400.2M948.2 328.5Q833 405 971.3 403.8M945.2 324.2Q833 405 971.1 398.2M956.2 342.2Q833 405 970.2 422.1M953.3 336.9Q833 405 970.7 417.5M951.3 333.3Q833 405 971.2 410.8M948.9 329.6Q833 405 971.3 405.5M948 328.2Q833 405 971.3 403.7M956.9 343.6Q833 405 970.2 422.1M944.9 323.8Q833 405 971.1 398.1M945.1 324Q833 405 971.2 398.8M955.7 341.2Q833 405 970.3 421.5M945.2 324.1Q833 405 971.2 398.8M954.9 339.6Q833 405 970.6 419.1M945.2 324.1Q833 405 971.1 397.3M957.6 344.9Q833 405 969.5 427M959.4 348.9Q833 405 969.1 429.8M945.6 324.7Q833 405 971.2 400M960.6 351.7Q833 405 968.3 433.4M944.4 323Q833 405 971.1 396.9M945.7 324.8Q833 405 971.2 399.2M959.9 350.1Q833 405 969.1 429.8M960.3 351Q833 405 968.1 434.4M960.4 351.1Q833 405 968.3 433.4M958.9 347.7Q833 405 969.1 429.6M945 323.8Q833 405 971.1 398.1M958.4 346.7Q833 405 969.2 428.9M958.9 347.9Q833 405 969.5 427M963.1 452Q833 405 946.8 483.6M961.5 456.1Q833 405 943.6 488.1M959.4 461.1Q833 405 937.9 495.1M962.5 453.6Q833 405 944.9 486.2M963.7 450.2Q833 405 949.2 480.1M964.7 447.1Q833 405 950.5 477.9M964.2 448.8Q833 405 948 481.8M963 452.3Q833 405 946.3 484.4M965.8 443.5Q833 405 954.1 471.8M956.6 467.1Q833 405 929.6 504M962.1 454.6Q833 405 943.6 488.1M959.1 461.7Q833 405 937.6 495.5M955.3 469.5Q833 405 926.6 506.8M966 443.1Q833 405 954.1 471.8M959.2 461.7Q833 405 937.5 495.6M959 461.9Q833 405 935.8 497.5M965.9 443.1Q833 405 954.1 471.8M955.1 470Q833 405 925.4 507.9M956 468.2Q833 405 928 505.5M961.5 456.2Q833 405 940.9 491.5M965.6 444.3Q833 405 953.2 473.4M955.6 469Q833 405 926.8 506.6M964.8 447Q833 405 950.4 478.1M965.8 443.5Q833 405 953.4 473M963.2 451.6Q833 405 946 484.7M955.6 468.9Q833 405 929.6 504M963.2 451.6Q833 405 947.1 483.2M963.3 451.3Q833 405 946.8 483.7M962.8 452.7Q833 405 946 484.8M963.3 451.3Q833 405 946.5 484.1M928.8 504.7Q833 405 898.7 526.7M933.1 500.4Q833 405 903.7 523.9M926.4 507Q833 405 898.5 526.8M953.1 473.6Q833 405 922.5 510.5M942.3 489.7Q833 405 913.8 517.3M948.2 481.5Q833 405 917.9 514.2M936 497.3Q833 405 908.1 521.1M945.3 485.7Q833 405 916.2 515.5M928.4 505.1Q833 405 899.4 526.3M953.7 472.4Q833 405 923.8 509.3M944.1 487.3Q833 405 913.9 517.1M951.8 475.7Q833 405 921.7 511.1M932 501.6Q833 405 903.4 524M953.8 472.4Q833 405 923.8 509.3M952.6 474.5Q833 405 922.4 510.5M932.8 500.7Q833 405 902.7 524.5M944.5 486.9Q833 405 914.5 516.7M938.1 494.9Q833 405 907.6 521.4M931.3 502.3Q833 405 902.6 524.5M940.4 492.1Q833 405 909.3 520.3M953.4 473Q833 405 924.1 509.1M935.2 498.2Q833 405 906.3 522.3M933 500.6Q833 405 904.3 523.5M926 507.4Q833 405 898.1 527M946.9 483.5Q833 405 916.3 515.4M943.5 488.2Q833 405 913.2 517.7M951.7 476Q833 405 922.4 510.5M948.2 481.5Q833 405 916.8 515M952.9 473.9Q833 405 923.3 509.8M929.4 504.2Q833 405 900.5 525.7M965.5 444.6Q833 405 922.7 510.3M965.4 444.8Q833 405 921.9 510.9M960.5 458.6Q833 405 908.6 520.8M960.1 459.6Q833 405 907.9 521.2M964.1 448.9Q833 405 918 514.1M964.6 447.4Q833 405 921.7 511.1M958.2 463.8Q833 405 905.7 522.7M956.6 467.1Q833 405 901.7 525M963.1 451.8Q833 405 916.5 515.2M957.8 464.6Q833 405 903.3 524.1M955 470.1Q833 405 897.3 527.4M964 449.4Q833 405 918.8 513.5M963.9 449.8Q833 405 919 513.3M961.6 455.8Q833 405 912.9 517.9M964.2 448.8Q833 405 918.4 513.8M963.3 451.4Q833 405 915.6 515.9M955.1 469.9Q833 405 899.2 526.5M958.5 463.1Q833 405 904.7 523.3M960.4 458.8Q833 405 909.5 520.2M964.5 447.9Q833 405 919.9 512.6M955.1 470Q833 405 898 527.1M956.6 467.1Q833 405 900.3 525.8M956.6 467.1Q833 405 901.4 525.2M957.4 465.4Q833 405 902 524.9M958.6 462.9Q833 405 904.9 523.2M956.6 467.1Q833 405 901.5 525.1M965.5 444.6Q833 405 922.8 510.2M956.9 466.4Q833 405 900.9 525.5M959.1 461.8Q833 405 906.3 522.3M965.2 445.7Q833 405 921.8 511.1M869.2 538.5Q833 405 820.2 542.7M881.8 534.4Q833 405 846.4 542.7M882.1 534.3Q833 405 844.9 542.8M869 538.5Q833 405 821.1 542.8M878.2 535.7Q833 405 837.7 543.2M864.5 539.7Q833 405 814.5 542.1M859.7 540.7Q833 405 805.9 540.6M885.1 533.1Q833 405 848 542.5M861.9 540.3Q833 405 811.2 541.6M872.2 537.6Q833 405 827.6 543.2M868 538.8Q833 405 819.7 542.7M879.1 535.4Q833 405 837.5 543.2M861.7 540.3Q833 405 808.1 541M878.1 535.7Q833 405 837.3 543.2M862.9 540Q833 405 812.2 541.7M878.6 535.5Q833 405 834.1 543.3M868.3 538.7Q833 405 818.2 542.5M880.6 534.9Q833 405 840.1 543.1M886.5 532.5Q833 405 852.3 542M864.7 539.6Q833 405 814.5 542.1M886.2 532.7Q833 405 850.2 542.2M888.1 531.8Q833 405 852.4 541.9M880.5 534.9Q833 405 842.8 543M861.7 540.3Q833 405 808.7 541.2M883 533.9Q833 405 846 542.7M877.4 536Q833 405 836.7 543.3M862.3 540.2Q833 405 810.3 541.4M883.9 533.6Q833 405 849.9 542.3M883.8 533.6Q833 405 846.2 542.7M884.3 533.4Q833 405 846.4 542.6M812.5 541.8Q833 405 778.1 531.9M827.5 543.2Q833 405 786.1 535.1M820.5 542.7Q833 405 781.7 533.4M813.8 542Q833 405 779.5 532.5M849.5 542.3Q833 405 796.9 538.5M813.5 541.9Q833 405 777.5 531.7M810 541.4Q833 405 776.8 531.4M852.1 542Q833 405 798.5 538.9M820.3 542.7Q833 405 782.7 533.8M807.7 541Q833 405 777.7 531.7M853.7 541.7Q833 405 800 539.3M835.1 543.3Q833 405 790.6 536.6M806.8 540.8Q833 405 774.9 530.5M852.6 541.9Q833 405 799.7 539.2M844.6 542.8Q833 405 795.3 538M846.9 542.6Q833 405 796.8 538.5M843.6 542.9Q833 405 793.7 537.6M843.9 542.9Q833 405 795.8 538.2M823.1 542.9Q833 405 784.1 534.3M843.4 542.9Q833 405 794.5 537.8M837.7 543.2Q833 405 792.4 537.2M807.5 540.9Q833 405 776.3 531.1M856.2 541.3Q833 405 801.8 539.7M850.4 542.2Q833 405 799.5 539.2M810 541.4Q833 405 777.7 531.8M807.3 540.9Q833 405 774 530.1M851.4 542.1Q833 405 797.4 538.6M839.2 543.2Q833 405 792.2 537.1M813.2 541.9Q833 405 779 532.3M853.1 541.8Q833 405 800 539.3M883 534Q833 405 795.7 538.2M857.9 541Q833 405 773.4 529.8M869.5 538.4Q833 405 783.9 534.3M857.8 541.1Q833 405 773.4 529.8M868.7 538.6Q833 405 780.8 533.1M884 533.5Q833 405 797.8 538.8M858.8 540.9Q833 405 774.3 530.2M880.4 534.9Q833 405 791.8 537M872.4 537.6Q833 405 786.6 535.3M871.7 537.8Q833 405 786.8 535.4M888.8 531.6Q833 405 801.9 539.8M883.5 533.8Q833 405 796.6 538.4M877.9 535.8Q833 405 791.4 536.9M869.6 538.4Q833 405 781.8 533.5M887.7 532Q833 405 801.4 539.6M886.5 532.5Q833 405 798.3 538.9M869.9 538.3Q833 405 784.7 534.6M882.3 534.2Q833 405 795.6 538.2M862.7 540.1Q833 405 778.6 532.1M886.6 532.5Q833 405 799.8 539.3M883.8 533.6Q833 405 796.1 538.3M868.9 538.6Q833 405 784.1 534.4M869.9 538.3Q833 405 783.9 534.3M886.7 532.4Q833 405 798 538.8M873.2 537.3Q833 405 786.8 535.4M882.7 534.1Q833 405 794.7 537.9M861.7 540.3Q833 405 776.3 531.2M862.8 540.1Q833 405 778.1 532M871.6 537.8Q833 405 786.2 535.1M862 540.2Q833 405 777.6 531.7M739.2 506.6Q833 405 710.7 469.7M739.2 506.6Q833 405 711.9 471.7M759.6 522.2Q833 405 730.9 498.2M762 523.7Q833 405 733.8 501.3M738.5 506Q833 405 710.3 468.9M748.7 514.6Q833 405 720.4 485.4M751 516.4Q833 405 722.3 487.9M765.1 525.5Q833 405 735.3 502.9M749.7 515.4Q833 405 719.7 484.2M750.9 516.3Q833 405 721.3 486.5M738.4 505.9Q833 405 711.2 470.5M751.8 516.9Q833 405 723.3 489.2M760.8 522.9Q833 405 730.4 497.7M744.1 511Q833 405 716 478.7M760.4 522.7Q833 405 731.8 499.3M761.2 523.2Q833 405 731.7 499.1M740.1 507.4Q833 405 711.6 471.2M745.8 512.4Q833 405 717.1 480.4M742.1 509.2Q833 405 713.8 475.2M750.5 516Q833 405 720.6 485.5M752.5 517.5Q833 405 723.4 489.4M753.7 518.3Q833 405 723.6 489.6M761.9 523.6Q833 405 733.2 500.7M739.5 506.9Q833 405 712.7 473.2M744.2 511Q833 405 716.7 479.9M746.9 513.2Q833 405 717.1 480.5M738.4 505.9Q833 405 710.1 468.4M748.8 514.7Q833 405 719.5 484M744.7 511.5Q833 405 715.9 478.6M749.2 515Q833 405 719.1 483.4M710.7 469.6Q833 405 698.3 436.5M732.3 499.7Q833 405 707.3 462.7M721.1 486.3Q833 405 701.5 447.9M716.5 479.5Q833 405 700.6 444.8M720.5 485.4Q833 405 702.4 450.4M732.1 499.6Q833 405 707.3 462.7M710.5 469.2Q833 405 698 435M730.1 497.4Q833 405 706.1 460M727.9 494.9Q833 405 705.8 459.4M724.1 490.3Q833 405 703.4 453.3M713.8 475.1Q833 405 699.2 439.9M728.3 495.4Q833 405 704.9 457.2M721.1 486.3Q833 405 701.8 448.8M722.5 488.1Q833 405 703 452.2M713.1 473.9Q833 405 698.9 438.9M731.8 499.3Q833 405 706.6 461.2M711.8 471.7Q833 405 698.5 437M734.9 502.5Q833 405 708.4 465M724.7 491Q833 405 703.5 453.5M712.5 472.9Q833 405 698.8 438.5M731.7 499.1Q833 405 706.8 461.6M736.7 504.3Q833 405 708.6 465.4M711.4 470.9Q833 405 698 435M716.3 479.3Q833 405 700.6 444.8M711.8 471.7Q833 405 698.7 438.1M713.4 474.5Q833 405 699.1 439.5M734.3 501.9Q833 405 708.9 466.1M724.4 490.7Q833 405 703.4 453.2M722.4 488.1Q833 405 702.6 451.2M725.7 492.3Q833 405 704.3 455.5M765.6 525.8Q833 405 708.8 465.9M764.9 525.4Q833 405 709.1 466.3M742.8 509.8Q833 405 699.8 442.1M759.5 522.2Q833 405 706 459.9M760.9 523Q833 405 707.6 463.2M741.5 508.7Q833 405 698.9 438.9M757.8 521.1Q833 405 705.1 457.5M746.2 512.6Q833 405 700.2 443.6M747.7 513.9Q833 405 701.2 446.8M757.6 521Q833 405 705.2 458M739.4 506.8Q833 405 698.4 436.7M762.4 523.9Q833 405 707.7 463.5M749.5 515.2Q833 405 701.9 448.9M756.9 520.5Q833 405 705.1 457.6M755.4 519.5Q833 405 703.8 454.4M749.8 515.5Q833 405 701.7 448.5M759.5 522.1Q833 405 706.7 461.3M762.3 523.9Q833 405 707.6 463.4M764 524.9Q833 405 708.8 465.8M764.5 525.1Q833 405 708.8 465.8M760.9 523Q833 405 706.9 461.8M738.5 506Q833 405 698.6 437.5M763.5 524.6Q833 405 708.1 464.5M757.7 521Q833 405 705.2 457.8M751.4 516.6Q833 405 702.8 451.5M744.3 511.1Q833 405 700 442.8M764.4 525.1Q833 405 708.2 464.6M742.9 510Q833 405 699.3 440.2M761.2 523.2Q833 405 707 462M757.8 521.1Q833 405 705.6 458.7M695.4 419.3Q833 405 696.4 383.6M694.9 397.6Q833 405 705.5 351.5M694.7 404.1Q833 405 701.6 361.7M695 413.8Q833 405 698 375.1M695.2 416.6Q833 405 697.4 377.7M695.8 422.3Q833 405 695.9 386.9M695.1 394.1Q833 405 706.5 349M695.6 421.1Q833 405 696.2 384.7M694.7 406.3Q833 405 700.6 365M695.4 419Q833 405 696.7 381.6M696.1 424.5Q833 405 695.5 390.4M694.7 407.2Q833 405 700.3 365.9M694.9 412Q833 405 698.7 372.1M694.7 406.3Q833 405 700.7 364.9M694.7 403.1Q833 405 702 360.8M695.5 420.3Q833 405 696.3 384.1M695.8 422.5Q833 405 695.7 388.6M694.7 402.5Q833 405 702.3 359.9M695.8 422.8Q833 405 695.9 387.1M694.8 409.7Q833 405 699.2 370M695.1 393.9Q833 405 707.6 346.7M695 396.6Q833 405 707.3 347.3M694.9 412.5Q833 405 698.8 371.4M695.6 421.1Q833 405 696.4 383.5M694.8 400.5Q833 405 703.4 356.8M695.1 393.9Q833 405 706 350.2M696.1 424.4Q833 405 695.5 390.3M694.7 403.8Q833 405 702 360.6M694.7 407.5Q833 405 700.1 366.8M695.9 423.3Q833 405 695.6 389.1M701.4 362.6Q833 405 713.4 335.5M695.4 390.8Q833 405 708.4 345M706.7 348.7Q833 405 718.4 327.6M701.3 362.8Q833 405 714 334.5M696.8 380.8Q833 405 710.9 340.1M695.5 390.1Q833 405 708.9 343.9M706.3 349.5Q833 405 717.8 328.4M706 350.2Q833 405 717.4 329M701 363.8Q833 405 714.1 334.4M695.8 387.8Q833 405 708.9 343.9M696.2 384.4Q833 405 709.7 342.4M697.7 376.5Q833 405 711.2 339.5M695.5 390.5Q833 405 708.9 343.9M699.2 369.9Q833 405 712.8 336.7M703 357.7Q833 405 715.5 332M696.7 381.8Q833 405 710.7 340.4M695.9 387Q833 405 709.4 343M696.5 382.7Q833 405 710.3 341.2M705.9 350.5Q833 405 717.3 329.2M697.1 379.6Q833 405 711.1 339.7M703.4 356.7Q833 405 716.1 331.1M695.5 390.1Q833 405 708.6 344.5M701.3 362.8Q833 405 714.4 333.9M700 367Q833 405 713.1 336M703.2 357.2Q833 405 715.7 331.8M696.7 381.7Q833 405 709.8 342.2M697.2 378.8Q833 405 710.8 340.3M698.9 371.3Q833 405 713 336.2M697.5 377.5Q833 405 711.2 339.6M696.8 381.2Q833 405 710.2 341.4M694.9 412.7Q833 405 712.1 337.9M694.7 402.2Q833 405 715.5 332M694.9 413.2Q833 405 712.4 337.4M695.8 422.4Q833 405 709.1 343.6M695.1 415.9Q833 405 711.6 338.8M694.8 400.3Q833 405 716 331.3M695.1 395.1Q833 405 718.1 328.1M694.9 398.2Q833 405 717 329.7M694.8 400.4Q833 405 715.6 332M694.7 408Q833 405 713.5 335.3M695.1 394.6Q833 405 717.4 329M694.7 407.5Q833 405 713.8 334.9M695 396.1Q833 405 717.1 329.6M695.4 419.1Q833 405 710.1 341.6M695.2 416.6Q833 405 710.6 340.7M694.7 407.8Q833 405 713.8 334.9M694.9 398.4Q833 405 716.6 330.3M694.7 407.6Q833 405 713.9 334.7M695.2 393.5Q833 405 718.1 328M696.1 424.7Q833 405 708.5 344.9M695.4 419Q833 405 710.7 340.5M695.7 421.5Q833 405 709.5 342.8M694.7 407.7Q833 405 713.9 334.8M695.1 394.6Q833 405 718 328.1M695.1 394.1Q833 405 717.9 328.3M694.8 400.9Q833 405 715.6 331.9M695 395.4Q833 405 717.6 328.7M695.5 420.3Q833 405 710.2 341.4M694.7 405.3Q833 405 714.5 333.7M695.8 422.8Q833 405 709.2 343.3M726.4 316.9Q833 405 755.1 290.8M726.9 316.3Q833 405 755.6 290.4M725.6 317.8Q833 405 753.7 291.7M724.7 318.9Q833 405 752.3 292.7M745.7 297.7Q833 405 782 276.4M729.2 313.6Q833 405 758 288.8M747.4 296.4Q833 405 782.9 276.1M731.6 311Q833 405 761.7 286.5M732.7 309.8Q833 405 764.2 285M728.5 314.4Q833 405 758.7 288.4M738.7 303.8Q833 405 770.2 281.8M727.1 316Q833 405 756.7 289.7M723.5 320.5Q833 405 750.2 294.3M735.7 306.8Q833 405 768 282.9M744.8 298.5Q833 405 780.4 277.1M742.4 300.5Q833 405 775.5 279.2M733.7 308.8Q833 405 764.1 285.1M725.8 317.7Q833 405 752.5 292.5M730.3 312.4Q833 405 759.9 287.6M725.3 318.2Q833 405 753.2 292M744.7 298.6Q833 405 780.4 277.1M736.4 306Q833 405 768.1 282.9M729.3 313.5Q833 405 759.4 287.9M735.4 307Q833 405 766.8 283.6M736.5 305.9Q833 405 770.1 281.9M731.4 311.2Q833 405 760 287.5M742.6 300.3Q833 405 776.8 278.6M740.8 301.9Q833 405 773.4 280.2M728.2 314.8Q833 405 756.7 289.6M741.3 301.4Q833 405 776 279M753.5 291.9Q833 405 791.7 273M755.6 290.4Q833 405 791.6 273M778.7 277.8Q833 405 812.2 268.3M759.4 287.9Q833 405 796.5 271.6M784.6 275.5Q833 405 820.1 267.3M752.5 292.5Q833 405 789.7 273.7M761.4 286.7Q833 405 799 270.9M750.4 294.1Q833 405 788.2 274.1M775.6 279.2Q833 405 811.1 268.4M753.3 292Q833 405 790.9 273.3M775.4 279.2Q833 405 813.1 268.1M761.2 286.8Q833 405 798.9 271M759.6 287.8Q833 405 797.5 271.3M776 279Q833 405 813.3 268.1M769 282.4Q833 405 805.6 269.4M771.2 281.3Q833 405 806.1 269.3M750.8 293.8Q833 405 786.5 274.8M776 279Q833 405 810.2 268.6M765.5 284.3Q833 405 803.8 269.8M761.5 286.6Q833 405 797.3 271.4M778.6 277.9Q833 405 815.7 267.8M755.6 290.4Q833 405 792.3 272.8M751.2 293.5Q833 405 790.3 273.5M756.3 289.9Q833 405 792.7 272.7M759.8 287.7Q833 405 796.5 271.6M764.7 284.8Q833 405 800.7 270.5M784.1 275.6Q833 405 817.8 267.5M760.8 287Q833 405 799 271M766.3 283.8Q833 405 803.6 269.9M753.1 292.1Q833 405 789.7 273.6M727.7 315.4Q833 405 794.8 272.1M745.9 297.6Q833 405 817.6 267.6M724.9 318.7Q833 405 789.5 273.7M738.9 303.6Q833 405 807.2 269.1M742.5 300.5Q833 405 812.2 268.3M740 302.7Q833 405 809.8 268.7M741.8 301Q833 405 811.4 268.4M727.3 315.8Q833 405 792.9 272.6M723.6 320.4Q833 405 788.3 274.1M747.1 296.6Q833 405 818.6 267.4M723.5 320.5Q833 405 788.6 274M734.5 307.9Q833 405 802.8 270M724.5 319.2Q833 405 788.3 274.1M730.3 312.4Q833 405 798.4 271.1M724 319.9Q833 405 787.3 274.5M741.1 301.7Q833 405 810.4 268.6M732.1 310.4Q833 405 799 270.9M731.2 311.3Q833 405 798.7 271M728.2 314.7Q833 405 792.3 272.8M736.9 305.5Q833 405 804 269.8M724 319.9Q833 405 788.8 273.9M740.9 301.9Q833 405 812.6 268.2M725 318.6Q833 405 787.8 274.3M745.6 297.8Q833 405 818.9 267.4M743.2 299.8Q833 405 814 268M727.1 316.1Q833 405 790.5 273.4M747.3 296.4Q833 405 820.1 267.3M743 300Q833 405 813.3 268.1M741.1 301.6Q833 405 811.9 268.3M744 299.1Q833 405 816.6 267.7" stroke="#8d86a8" stroke-width="0.6" stroke-opacity="0.35" fill="none"/>
<path d="M870.7 271.9Q833 405 905.1 287M880.7 275.2Q833 405 913.1 292.3M867.1 271Q833 405 901.9 285.1M851.5 267.9Q833 405 888.9 278.5M872.2 272.4Q833 405 904.2 286.5M862.2 269.8Q833 405 896.6 282.2M845.9 267.3Q833 405 885.5 277.1M881.5 275.5Q833 405 913.1 292.3M878.2 274.3Q833 405 911.7 291.3M847.1 267.4Q833 405 884 276.4M853.6 268.2Q833 405 889.8 278.9M876.8 273.8Q833 405 909.5 289.8M874.2 273Q833 405 905.1 287M855.8 268.6Q833 405 894.1 280.9M846.2 267.3Q833 405 884.9 276.8M852.3 268.1Q833 405 891.1 279.5M868.3 271.3Q833 405 902.7 285.5M879.4 274.7Q833 405 911.9 291.4M874.1 272.9Q833 405 906.2 287.6M869.6 271.6Q833 405 903.2 285.9M846.2 267.3Q833 405 884.1 276.5M853.8 268.3Q833 405 890 279M872.6 272.5Q833 405 906.9 288.1M868.7 271.4Q833 405 902 285.1M853.4 268.2Q833 405 890.5 279.2M863 270Q833 405 897.2 282.5M877.1 273.9Q833 405 909.6 289.8M874.4 273Q833 405 908.3 289M856.3 268.7Q833 405 892.1 280M866.7 270.9Q833 405 901.4 284.8M884.1 276.5Q833 405 915.2 293.8M899.8 283.9Q833 405 928.1 304.6M895.6 281.7Q833 405 925.2 301.9M889.7 278.8Q833 405 921.1 298.4M909.4 289.7Q833 405 935.6 312.3M884.7 276.7Q833 405 915.5 294M890.4 279.2Q833 405 920.2 297.7M904.5 286.6Q833 405 931.5 307.9M884.5 276.7Q833 405 915 293.6M883.5 276.3Q833 405 915.7 294.2M911.5 291.1Q833 405 936.8 313.6M909.7 289.9Q833 405 936.2 313M892.6 280.2Q833 405 922.8 299.9M903.9 286.2Q833 405 932.4 308.8M912.2 291.6Q833 405 937.3 314.1M887.9 278.1Q833 405 917.5 295.5M890.3 279.1Q833 405 920.3 297.8M884.8 276.8Q833 405 917 295.1M906.6 287.9Q833 405 934.4 310.9M890.9 279.4Q833 405 921.2 298.5M904.9 286.9Q833 405 931.8 308.2M903.5 286Q833 405 931.3 307.7M904.1 286.4Q833 405 931.2 307.6M886.6 277.5Q833 405 917.2 295.3M893.2 280.5Q833 405 922.1 299.2M891.8 279.8Q833 405 920.8 298.1M907.4 288.4Q833 405 934.4 311M898.1 283Q833 405 926.8 303.4M902.2 285.3Q833 405 930.3 306.8M884.4 276.6Q833 405 916.2 294.5M868.7 271.4Q833 405 929.6 306M870.4 271.9Q833 405 931.4 307.8M863.9 270.2Q833 405 927 303.6M872.2 272.4Q833 405 932.7 309.1M879.4 274.7Q833 405 937.6 314.5M876.8 273.8Q833 405 935.6 312.3M874 272.9Q833 405 934.1 310.6M858.3 269Q833 405 924.5 301.3M860.8 269.5Q833 405 925.1 301.9M851.3 267.9Q833 405 918.8 296.5M879.5 274.8Q833 405 937.2 314M872.1 272.3Q833 405 932.6 309M869.9 271.7Q833 405 932.1 308.5M860.3 269.4Q833 405 923.5 300.4M860 269.4Q833 405 925.5 302.1M847.8 267.5Q833 405 915.8 294.2M845.4 267.3Q833 405 914.3 293.1M881.4 275.4Q833 405 938.7 315.8M852.4 268.1Q833 405 920.3 297.8M849 267.6Q833 405 919.1 296.7M849.2 267.7Q833 405 917.9 295.8M873.6 272.8Q833 405 933.6 310.1M876.3 273.6Q833 405 935.7 312.3M860.1 269.4Q833 405 925.8 302.5M845.6 267.3Q833 405 914.4 293.2M847.5 267.5Q833 405 917.8 295.7M859.4 269.2Q833 405 924.5 301.3M862.5 269.9Q833 405 925.9 302.5M846.8 267.4Q833 405 915.2 293.8M858.6 269.1Q833 405 923.5 300.4M958.7 347.2Q833 405 970.2 387.3M956.6 342.9Q833 405 969.4 382.3M945.6 324.7Q833 405 961.9 354.8M953.2 336.7Q833 405 967.7 373.6M950.6 332.2Q833 405 966.6 369.2M957.8 345.5Q833 405 970.1 386.6M956.4 342.6Q833 405 969.7 384M949.1 329.9Q833 405 964.7 362.8M946.9 326.6Q833 405 963.4 358.8M957.7 345.2Q833 405 970.3 388.6M960 350.3Q833 405 970.7 391.9M959.5 349.1Q833 405 970.5 390.6M959.1 348.1Q833 405 970.4 389.6M960.6 351.5Q833 405 971 395.4M953.9 337.8Q833 405 967.8 374.1M956.7 343.1Q833 405 969.4 382.3M947 326.7Q833 405 963.1 358.1M959.9 350Q833 405 970.4 389.3M944.8 323.7Q833 405 962.1 355.5M958.5 347Q833 405 970.2 387.6M953.9 337.8Q833 405 967.9 374.6M949.2 330Q833 405 965.1 364.1M950.1 331.3Q833 405 965.6 365.6M945.9 325.1Q833 405 962.6 356.8M951.6 333.8Q833 405 966.8 370M944.6 323.4Q833 405 961.5 353.9M960.1 350.4Q833 405 970.9 394.3M951.3 333.4Q833 405 966.4 368.4M950.9 332.6Q833 405 966.1 367.5M957.5 344.8Q833 405 969.9 385.7M967.8 374.3Q833 405 970.9 416.1M970.1 386.9Q833 405 969.5 427.4M970.7 392.5Q833 405 968.4 433.4M968.9 379.3Q833 405 970.5 420.2M961.8 354.6Q833 405 971.1 397.9M970.6 391.6Q833 405 968.5 432.6M966 367.2Q833 405 971.3 408.1M969.8 384.4Q833 405 969.8 425.3M962.5 356.4Q833 405 971.2 398.6M966.9 370.6Q833 405 971.1 412.6M970.6 391.2Q833 405 969.5 427M969.9 385.4Q833 405 969.6 426.5M969.5 382.8Q833 405 970.1 422.9M962.5 356.5Q833 405 971.2 399.1M962.1 355.5Q833 405 971.2 398.8M962.5 356.6Q833 405 971.2 399M963.2 358.5Q833 405 971.3 401.7M967.3 372.2Q833 405 971.1 413.1M970.9 394.3Q833 405 968.6 432.1M961.7 354.3Q833 405 971.1 397.5M962.3 356Q833 405 971.2 400M970 386Q833 405 969.7 425.8M970.6 390.8Q833 405 969 429.9M962.6 356.7Q833 405 971.2 399M965.3 364.7Q833 405 971.3 406.9M965 363.7Q833 405 971.3 406.6M969.4 382.4Q833 405 970 424M970.5 390.1Q833 405 969.2 428.9M966.1 367.5Q833 405 971.3 407.8M964 360.5Q833 405 971.3 403.1M954.8 339.5Q833 405 970.8 416.4M955.6 340.9Q833 405 970.4 420.9M957.5 344.8Q833 405 969.6 426.9M945.5 324.6Q833 405 971.2 399.1M947.5 327.5Q833 405 971.3 403.9M947.9 328.1Q833 405 971.3 404.6M948 328.1Q833 405 971.3 403.3M953.3 336.8Q833 405 970.9 415M947.2 327.1Q833 405 971.3 403M957 343.7Q833 405 969.9 424.3M958.7 347.3Q833 405 969.3 428.5M958.4 346.7Q833 405 969.4 428M951.4 333.6Q833 405 971.1 413.3M949.8 330.9Q833 405 971.3 408.2M947.6 327.6Q833 405 971.3 402.7M948.1 328.3Q833 405 971.3 406.5M946.9 326.6Q833 405 971.3 401.5M959.8 349.8Q833 405 969 429.9M960.5 351.4Q833 405 968.2 434.3M960.3 350.9Q833 405 968.7 431.7M949.7 330.7Q833 405 971.3 406.8M948.2 328.5Q833 405 971.3 404.3M950.5 332.1Q833 405 971.2 410.8M948.8 329.4Q833 405 971.3 405.2M950.3 331.8Q833 405 971.3 408.1M955.3 340.5Q833 405 970.3 421.2M946.3 325.7Q833 405 971.1 398.5M946.6 326.1Q833 405 971.3 401.9M945.6 324.7Q833 405 971.2 400.3M946.7 326.3Q833 405 971.2 401M964.8 447Q833 405 949.4 479.7M962.9 452.6Q833 405 946.2 484.4M965.2 445.8Q833 405 951.5 476.3M962.5 453.5Q833 405 943.8 487.8M962.7 453Q833 405 944.5 486.8M955.9 468.5Q833 405 928.4 505.1M956.3 467.7Q833 405 929.1 504.5M961.9 455Q833 405 943.4 488.3M964.9 446.5Q833 405 951 477.1M960 459.8Q833 405 937.4 495.7M965.2 445.6Q833 405 951.7 475.9M954.9 470.4Q833 405 925.4 507.9M965.2 445.7Q833 405 951.5 476.2M960.4 458.9Q833 405 939.2 493.6M965.4 445Q833 405 952.4 474.8M960.9 457.7Q833 405 941.3 491M964.8 447Q833 405 951.8 475.8M957 466.2Q833 405 929.9 503.7M955.6 468.9Q833 405 927.1 506.4M964.9 446.7Q833 405 951.1 477M958.6 462.9Q833 405 935.4 498M962.6 453.2Q833 405 944.4 486.9M965.7 443.9Q833 405 953.8 472.3M957 466.3Q833 405 930.6 503M957.6 465Q833 405 932 501.5M957.6 465.1Q833 405 931.4 502.1M954.9 470.3Q833 405 925.5 507.8M956.6 467Q833 405 929.1 504.4M955.6 469.1Q833 405 927.2 506.3M965.4 444.9Q833 405 953.4 473.1M953.1 473.5Q833 405 923 510M926.3 507.1Q833 405 899.5 526.3M936.4 496.8Q833 405 907.1 521.8M931.4 502.2Q833 405 901.2 525.3M934.3 499.2Q833 405 902.9 524.3M939.8 492.8Q833 405 909.1 520.5M948.8 480.6Q833 405 919.1 513.2M929.8 503.7Q833 405 901.2 525.3M952.4 474.7Q833 405 921.3 511.5M926.7 506.7Q833 405 897.5 527.3M937.9 495.1Q833 405 906.6 522.1M946.1 484.6Q833 405 915.1 516.3M944.2 487.2Q833 405 914.7 516.6M926.1 507.2Q833 405 898.5 526.8M928.9 504.6Q833 405 901.3 525.2M933.9 499.5Q833 405 903.7 523.9M938.1 494.8Q833 405 907.4 521.6M936.2 497.1Q833 405 906.5 522.2M925.7 507.7Q833 405 897.3 527.4M938.8 494Q833 405 907.4 521.6M932.3 501.3Q833 405 902 524.9M953.2 473.4Q833 405 922.1 510.7M947.4 482.7Q833 405 916.6 515.2M949.6 479.4Q833 405 918.1 514M952.7 474.4Q833 405 921.6 511.2M948.8 480.6Q833 405 917.7 514.4M927 506.4Q833 405 898.2 527M952.9 473.9Q833 405 922.7 510.2M926.5 506.9Q833 405 897.3 527.4M928.4 505.1Q833 405 899.9 526M960.3 459Q833 405 909.7 520.1M960.3 459Q833 405 908.8 520.7M965.3 445.3Q833 405 921.2 511.5M959.6 460.7Q833 405 907.4 521.6M965.6 444.4Q833 405 924.1 509.1M965.8 443.5Q833 405 923.2 509.9M960.2 459.2Q833 405 910.5 519.5M959.9 460Q833 405 908.3 521M956.3 467.7Q833 405 899.3 526.4M965.6 444.2Q833 405 923.1 509.9M958.1 464.1Q833 405 905.5 522.8M955.7 468.9Q833 405 899.8 526.1M962.5 453.4Q833 405 914.2 516.9M955.5 469.2Q833 405 899.7 526.1M957.6 465Q833 405 903.2 524.2M965.3 445.3Q833 405 921.6 511.2M958.9 462.3Q833 405 906.2 522.3M963.3 451.2Q833 405 918 514.1M959.7 460.4Q833 405 907.8 521.3M961.3 456.6Q833 405 912.5 518.2M954.8 470.5Q833 405 897.3 527.4M961.6 456Q833 405 912.8 517.9M960 459.8Q833 405 907.5 521.5M963.4 451.2Q833 405 916.7 515.1M955.1 470Q833 405 898.3 526.9M958.9 462.1Q833 405 905.8 522.6M958.2 463.7Q833 405 904.4 523.4M963.5 450.9Q833 405 916.7 515.1M964.5 447.8Q833 405 919.3 513M961.3 456.6Q833 405 913.1 517.7M883.7 533.7Q833 405 845.8 542.7M862.9 540Q833 405 808.2 541.1M868.7 538.6Q833 405 822.7 542.9M879.6 535.2Q833 405 841 543.1M863.3 539.9Q833 405 814 542M880.8 534.8Q833 405 840.7 543.1M888.8 531.5Q833 405 854.1 541.7M883.9 533.6Q833 405 845.6 542.7M887.6 532.1Q833 405 855.4 541.5M868.1 538.8Q833 405 818.5 542.5M884.8 533.2Q833 405 848.1 542.5M866.4 539.2Q833 405 818.6 542.5M884.5 533.4Q833 405 845.5 542.7M860 540.6Q833 405 807.4 540.9M870 538.3Q833 405 823.2 543M875.5 536.6Q833 405 833.9 543.3M859.7 540.7Q833 405 807.6 540.9M887.9 531.9Q833 405 854 541.7M888.6 531.6Q833 405 854.9 541.6M887 532.3Q833 405 853.4 541.8M873.1 537.4Q833 405 825.6 543.1M872.6 537.5Q833 405 824.3 543M874.5 536.9Q833 405 830.5 543.3M889.3 531.3Q833 405 852.3 542M859.7 540.7Q833 405 806.7 540.8M887.7 532Q833 405 853.6 541.8M865.7 539.4Q833 405 817.4 542.4M867.7 538.9Q833 405 821.5 542.8M864.4 539.7Q833 405 812 541.7M875.1 536.7Q833 405 832 543.3M853 541.9Q833 405 800.8 539.5M855.5 541.5Q833 405 801.3 539.6M840.2 543.1Q833 405 792.5 537.2M824 543Q833 405 784.4 534.5M814.2 542Q833 405 779.3 532.4M851.3 542.1Q833 405 800.6 539.5M838.2 543.2Q833 405 791.6 536.9M855.9 541.4Q833 405 801.9 539.8M821.9 542.9Q833 405 782.6 533.8M852.2 542Q833 405 799.1 539.1M847.3 542.6Q833 405 796.1 538.3M850 542.3Q833 405 797.8 538.8M812.8 541.8Q833 405 779.1 532.4M845.9 542.7Q833 405 795.1 538M853.5 541.8Q833 405 800.9 539.5M852.5 541.9Q833 405 799.2 539.1M822.3 542.9Q833 405 783.2 534M845.1 542.8Q833 405 796.6 538.4M851.8 542Q833 405 799.7 539.2M836 543.3Q833 405 790.9 536.7M809.3 541.3Q833 405 776.3 531.2M834.1 543.3Q833 405 789.8 536.4M840.4 543.1Q833 405 793.9 537.7M823.4 543Q833 405 784.4 534.5M804.7 540.4Q833 405 775 530.6M852.5 541.9Q833 405 799.6 539.2M816.3 542.3Q833 405 780.9 533.1M817.7 542.5Q833 405 780.6 533M851.7 542Q833 405 799.2 539.1M817.2 542.4Q833 405 782.7 533.8M879 535.4Q833 405 791.3 536.9M886 532.8Q833 405 798.5 538.9M866.3 539.2Q833 405 778.6 532.1M887.9 531.9Q833 405 801.9 539.8M870.3 538.2Q833 405 783.6 534.2M859.8 540.7Q833 405 775 530.6M879.5 535.2Q833 405 792.6 537.3M874.5 536.9Q833 405 788.1 535.8M885.5 532.9Q833 405 799.5 539.2M859.1 540.8Q833 405 774.2 530.2M887.3 532.2Q833 405 800.1 539.3M879.1 535.4Q833 405 792 537.1M858.5 540.9Q833 405 774.1 530.1M886.9 532.4Q833 405 800.6 539.5M884.6 533.3Q833 405 797.7 538.7M864.4 539.7Q833 405 779.5 532.6M867 539.1Q833 405 781.4 533.3M888.3 531.8Q833 405 800.3 539.4M887.1 532.3Q833 405 798.6 539M859.6 540.7Q833 405 775.5 530.8M860.6 540.5Q833 405 775.8 530.9M864.3 539.7Q833 405 779.1 532.4M877.8 535.8Q833 405 789.8 536.4M880.9 534.7Q833 405 793.7 537.6M866.1 539.3Q833 405 780.7 533M885.9 532.8Q833 405 799.1 539.1M858.2 541Q833 405 773.5 529.8M884.9 533.2Q833 405 795.6 538.1M867.4 539Q833 405 783.4 534.1M867.2 539Q833 405 780.2 532.8M746.3 512.7Q833 405 717 480.3M745.8 512.3Q833 405 716.9 480.2M747.7 513.8Q833 405 719.4 483.9M738.9 506.3Q833 405 710.4 468.9M763.2 524.4Q833 405 735.3 502.9M760.8 523Q833 405 732.2 499.7M751.4 516.6Q833 405 722.9 488.8M745 511.7Q833 405 716.9 480.1M739.5 506.9Q833 405 712.1 472.2M740 507.3Q833 405 711.1 470.2M760.8 523Q833 405 731.1 498.5M742.3 509.4Q833 405 712.9 473.6M762.9 524.2Q833 405 734.1 501.7M758.3 521.4Q833 405 730.7 498.1M759.1 521.9Q833 405 730.5 497.9M762.4 523.9Q833 405 734.7 502.3M747.5 513.7Q833 405 718.8 482.9M749.1 514.9Q833 405 719.6 484.2M750.4 515.9Q833 405 720.4 485.3M754.9 519.1Q833 405 725.7 492.3M752.1 517.2Q833 405 724 490.1M739.4 506.8Q833 405 711.5 471.1M741.5 508.7Q833 405 714 475.5M761.8 523.6Q833 405 732.9 500.5M763.7 524.7Q833 405 735.4 503M764.6 525.2Q833 405 736.1 503.6M759.9 522.4Q833 405 731.1 498.6M765.6 525.7Q833 405 735.4 503M738.2 505.7Q833 405 710.1 468.4M740.9 508.2Q833 405 712.5 472.9M736.6 504.2Q833 405 709 466.2M733.5 501.1Q833 405 707.6 463.3M736 503.5Q833 405 708.6 465.5M724.9 491.3Q833 405 703.2 452.7M711.4 470.9Q833 405 698.5 437.2M733 500.5Q833 405 707.1 462.3M713.9 475.3Q833 405 699.5 441.1M732.8 500.3Q833 405 707.9 464.1M713.5 474.6Q833 405 699 439.4M734.3 501.9Q833 405 708.2 464.5M712.6 473.1Q833 405 698.6 437.6M726 492.7Q833 405 703.9 454.7M711.9 471.8Q833 405 698.9 439M735.5 503.1Q833 405 708.4 465.1M731.7 499.2Q833 405 706.9 461.8M720.1 484.9Q833 405 701.5 447.9M713.5 474.6Q833 405 699.3 440.4M729.9 497.2Q833 405 706.6 461.2M713.8 475.2Q833 405 699.1 439.6M726 492.6Q833 405 704.5 456.1M717.7 481.4Q833 405 700.5 444.6M725.5 492.1Q833 405 703.9 454.7M732.7 500.2Q833 405 707.5 463.2M729 496.2Q833 405 706.2 460.1M711.2 470.5Q833 405 698.1 435.4M711.1 470.4Q833 405 698 434.9M724.7 491Q833 405 702.8 451.6M726.8 493.6Q833 405 705 457.3M720.6 485.6Q833 405 702.2 450M714.2 475.7Q833 405 699.7 441.9M750.2 515.8Q833 405 702.4 450.6M749.2 515Q833 405 701.3 447.2M765.1 525.5Q833 405 708.6 465.5M740.9 508.2Q833 405 698.8 438.3M752.6 517.5Q833 405 703 452.2M747.6 513.8Q833 405 700.2 443.5M758.4 521.4Q833 405 705.6 458.7M753.5 518.2Q833 405 703.6 453.7M760.6 522.8Q833 405 707.1 462.2M750.6 516.1Q833 405 702.3 450.3M738.2 505.7Q833 405 697.9 434.5M751 516.4Q833 405 702.5 450.9M760.9 523Q833 405 707.1 462.2M756.3 520.1Q833 405 704.4 455.8M756.9 520.5Q833 405 705.3 458.1M764.6 525.2Q833 405 709 466.2M765.2 525.6Q833 405 708.9 466M745.6 512.2Q833 405 700.1 443.3M746.4 512.9Q833 405 700.4 444.4M755.2 519.3Q833 405 704.1 455.2M738.2 505.7Q833 405 697.8 434.3M755.5 519.5Q833 405 703.4 453.2M745.8 512.4Q833 405 700.8 445.5M761.7 523.5Q833 405 706.8 461.5M764.2 525Q833 405 708.7 465.7M741.1 508.3Q833 405 698.5 437.4M754.3 518.7Q833 405 703.7 454M742.5 509.6Q833 405 699.1 439.5M765.5 525.7Q833 405 709.4 467.1M760.2 522.6Q833 405 707 461.9M695.1 394.2Q833 405 707.3 347.3M694.8 398.6Q833 405 706.5 349.1M696.1 424.8Q833 405 695.6 389.5M695.1 395.1Q833 405 707.5 347M695.3 418.2Q833 405 696.8 381.2M695.3 417.7Q833 405 696.8 380.9M695.3 417.4Q833 405 697.1 379.5M694.7 401.5Q833 405 703.3 356.9M694.8 400Q833 405 703.1 357.7M694.8 410.5Q833 405 698.2 373.9M695.1 415.5Q833 405 696.9 380.5M694.7 404.5Q833 405 700.5 365.5M695.2 393.6Q833 405 707.8 346.3M694.9 411.6Q833 405 699.2 370.1M694.8 399.3Q833 405 705 352.6M694.8 399.2Q833 405 704.3 354.4M694.7 405.1Q833 405 700.5 365.3M695.1 394.3Q833 405 706.6 349M696.2 425.2Q833 405 695.5 390M694.8 401Q833 405 703.7 356.1M695.6 421.1Q833 405 696.2 384.8M695.2 393.2Q833 405 707.8 346.3M695.1 394.2Q833 405 707.2 347.5M694.9 396.7Q833 405 706 350.2M694.8 411Q833 405 699.5 368.9M695.1 415.2Q833 405 697.9 375.6M694.8 411.2Q833 405 699.1 370.4M694.7 408.3Q833 405 699.9 367.3M695.1 416Q833 405 697.3 378.4M694.7 407.1Q833 405 700.7 364.7M698.5 373Q833 405 711.8 338.4M696.9 380.3Q833 405 710.2 341.3M707.2 347.5Q833 405 718.4 327.5M695.6 389.1Q833 405 708.7 344.4M700.9 364.2Q833 405 714.2 334.2M702.6 358.8Q833 405 715.5 332M695.7 388.1Q833 405 709.3 343.2M696 386.4Q833 405 708.9 344M695.4 391Q833 405 708.7 344.3M707.1 347.7Q833 405 718.1 328M702.3 359.8Q833 405 714.8 333.3M706.6 348.8Q833 405 717.2 329.4M706.3 349.6Q833 405 717.1 329.5M704.4 354.1Q833 405 716.5 330.4M695.5 390.4Q833 405 709.3 343.2M701 363.8Q833 405 714.1 334.4M695.4 391.2Q833 405 708.4 345M697.1 379.5Q833 405 711.2 339.5M706.2 349.9Q833 405 717.4 329.1M696.3 384Q833 405 709.7 342.3M701.8 361.2Q833 405 714.9 333.1M703.8 355.7Q833 405 715.9 331.4M696.3 384.3Q833 405 709.8 342.3M701.7 361.5Q833 405 715.1 332.8M705 352.7Q833 405 717.1 329.5M700.5 365.3Q833 405 713.8 334.9M695.8 387.3Q833 405 709.2 343.4M695.8 387.6Q833 405 709.3 343.1M704.3 354.3Q833 405 716.4 330.6M695.8 387.7Q833 405 709.3 343.1M694.7 404.8Q833 405 714.3 334M695.3 418.1Q833 405 710.6 340.7M694.9 398.1Q833 405 716.9 329.9M696.2 425.2Q833 405 708.7 344.4M694.9 397.6Q833 405 716.6 330.3M695.4 418.5Q833 405 709.9 341.9M694.9 396.7Q833 405 717 329.7M694.8 409.6Q833 405 713.3 335.8M695.5 420.2Q833 405 709.8 342.1M694.8 411.2Q833 405 712.6 337M695.9 423.2Q833 405 709 343.7M695.1 394.2Q833 405 718.1 328.1M695.5 419.4Q833 405 709.9 342M694.8 400.9Q833 405 716.5 330.5M695.6 420.5Q833 405 709.8 342.1M694.7 405.8Q833 405 714.2 334.1M695 413.9Q833 405 712 338.1M695.2 416.4Q833 405 710.6 340.7M695.6 421.2Q833 405 709.5 342.7M695.5 419.9Q833 405 709.9 341.9M694.9 398.3Q833 405 716.5 330.4M695.2 393.6Q833 405 718.3 327.7M695.1 394.5Q833 405 718.1 328M695.9 423.4Q833 405 708.9 344M695.8 422.2Q833 405 709.1 343.5M695.1 415.1Q833 405 711 339.8M695.4 418.5Q833 405 710.1 341.6M695.2 416.2Q833 405 711 339.8M694.8 409.4Q833 405 713 336.3M695 413.6Q833 405 712 338M726.7 316.5Q833 405 755.2 290.7M725.2 318.4Q833 405 752.3 292.7M724.5 319.3Q833 405 753.1 292.1M747.3 296.5Q833 405 784.4 275.5M737.2 305.3Q833 405 769.1 282.3M737.4 305.1Q833 405 769.8 282M730.5 312.2Q833 405 758.7 288.4M737.3 305.1Q833 405 769.4 282.2M745 298.4Q833 405 782.1 276.4M744 299.1Q833 405 779.8 277.3M745.7 297.7Q833 405 782.3 276.3M746.1 297.4Q833 405 782.2 276.3M737.9 304.6Q833 405 772.3 280.7M742.7 300.3Q833 405 775.8 279.1M724.3 319.5Q833 405 750.7 293.9M723.2 320.9Q833 405 749.2 295M732.9 309.5Q833 405 763.1 285.7M726.9 316.3Q833 405 754.9 290.9M746.3 297.2Q833 405 781.7 276.6M728.9 313.9Q833 405 758.3 288.6M746 297.5Q833 405 782.1 276.4M723 321.2Q833 405 749.9 294.4M746.4 297.2Q833 405 780.9 276.9M745.1 298.2Q833 405 779.9 277.3M745.4 298Q833 405 779 277.7M727.6 315.5Q833 405 756.1 290.1M743.3 299.8Q833 405 777.8 278.2M731.5 311.1Q833 405 762.5 286M741.8 301Q833 405 775.6 279.2M728.8 314Q833 405 757.2 289.3M769.9 281.9Q833 405 807 269.2M781.5 276.7Q833 405 816.2 267.7M757.2 289.4Q833 405 795.1 272M753.1 292.1Q833 405 790.2 273.5M782.4 276.3Q833 405 817.1 267.6M769.8 282Q833 405 805.5 269.5M754 291.5Q833 405 792 272.9M752.8 292.3Q833 405 791.4 273.1M749.3 294.9Q833 405 788 274.2M754.9 290.9Q833 405 791.7 273M769.8 282Q833 405 805.5 269.5M765.6 284.3Q833 405 802.1 270.2M762.3 286.2Q833 405 799.8 270.8M776.5 278.8Q833 405 812.7 268.2M777.7 278.2Q833 405 811.9 268.3M762.1 286.3Q833 405 798.2 271.2M762.9 285.8Q833 405 799.1 270.9M782 276.4Q833 405 816.2 267.7M763.7 285.3Q833 405 801.6 270.3M757.8 288.9Q833 405 794.7 272.1M756.6 289.7Q833 405 793.7 272.4M782.8 276.1Q833 405 819.2 267.4M777.9 278.1Q833 405 813.4 268.1M762.5 286Q833 405 801.3 270.4M768.2 282.8Q833 405 805.7 269.4M764.1 285.1Q833 405 800.3 270.6M754.1 291.4Q833 405 789.8 273.6M756 290.1Q833 405 794.6 272.1M750 294.4Q833 405 786.4 274.8M781.6 276.6Q833 405 815.2 267.8M726.7 316.5Q833 405 789.9 273.6M744.2 299Q833 405 814.7 267.9M744.3 298.9Q833 405 814.2 268M737.1 305.4Q833 405 807.2 269.1M733.8 308.7Q833 405 801.3 270.4M723.1 321.1Q833 405 787 274.6M732.1 310.4Q833 405 802.4 270.1M747.6 296.2Q833 405 819.4 267.4M743.4 299.6Q833 405 813.4 268.1M737.6 304.8Q833 405 806.2 269.3M744.7 298.6Q833 405 817.2 267.6M725.6 317.9Q833 405 790 273.6M747.7 296.2Q833 405 819.2 267.4M728.4 314.5Q833 405 795.3 271.9M735.6 306.8Q833 405 804.5 269.7M740.2 302.5Q833 405 811.8 268.3M729.5 313.2Q833 405 796.6 271.6M740.7 302.1Q833 405 809.2 268.8M735 307.4Q833 405 803.2 270M731.5 311.1Q833 405 800.2 270.6M743.8 299.3Q833 405 815.6 267.8M744.7 298.5Q833 405 816.7 267.7M743 300Q833 405 815 267.9M735.9 306.5Q833 405 802.8 270M736.4 306Q833 405 806 269.4M747.9 296Q833 405 820.1 267.3M734.5 307.9Q833 405 802.4 270.1M735.1 307.3Q833 405 801.3 270.4M726.9 316.3Q833 405 792.3 272.8M725.4 318.1Q833 405 789.8 273.6" stroke="#9a93b4" stroke-width="0.5" stroke-opacity="0.3" fill="none"/>
<path d="M821.5 267.2Q833 405 968 375.1M822.9 267.1Q833 405 967.5 373M821.3 267.2Q833 405 968.1 375.4M824.3 267Q833 405 968 374.8M822.1 267.1Q833 405 967.7 373.6" stroke="#743c42" stroke-width="1.2" stroke-opacity="0.72" fill="none"/>
<path d="M819.2 267.4Q833 405 774.6 530.3M818.9 267.4Q833 405 775.8 530.9M817.4 267.6Q833 405 776.6 531.3M817.7 267.6Q833 405 777 531.5" stroke="#743c42" stroke-width="1.1" stroke-opacity="0.72" fill="none"/>
<path d="M752 292.9Q833 405 850.2 542.2M752.8 292.3Q833 405 849 542.4M751.7 293.1Q833 405 848.3 542.5M752.3 292.7Q833 405 850.1 542.2M751.8 293.1Q833 405 850.4 542.2" stroke="#743c42" stroke-width="1.2" stroke-opacity="0.72" fill="none"/>
<path d="M722.3 322.1Q833 405 971.2 409.8M722.4 322Q833 405 971.2 409.5M722.5 321.9Q833 405 971.2 409.9M723.2 320.9Q833 405 971.2 409.7" stroke="#743c42" stroke-width="1.1" stroke-opacity="0.72" fill="none"/>
<path d="M694.9 412.5Q833 405 854.2 541.7M694.9 412Q833 405 855.5 541.5M694.9 412.4Q833 405 854.7 541.6M694.9 412.8Q833 405 854 541.7M694.9 412Q833 405 855.1 541.5M694.8 411.3Q833 405 854.3 541.6" stroke="#743c42" stroke-width="1.3" stroke-opacity="0.72" fill="none"/>
<path d="M695 395.3Q833 405 971.3 401.6M695.1 394.7Q833 405 971.3 401.9M695 395.9Q833 405 971.3 401.6M695 395.4Q833 405 971.2 401.1M695 395.6Q833 405 971.3 402.2" stroke="#743c42" stroke-width="1.2" stroke-opacity="0.72" fill="none"/>
<path d="M703.1 357.6Q833 405 968.7 378.2M702.9 358.1Q833 405 968.4 377M703.3 356.9Q833 405 968.2 376M703.1 357.6Q833 405 968.5 377.1" stroke="#743c42" stroke-width="1.1" stroke-opacity="0.72" fill="none"/>
<path d="M722.4 488Q833 405 968.3 376.2M723.3 489.3Q833 405 968.3 376.5M722.9 488.7Q833 405 968.2 376" stroke="#743c42" stroke-width="1.0" stroke-opacity="0.6" fill="none"/>
<path d="M943 488.8Q833 405 840.6 266.9M943.4 488.3Q833 405 839.5 266.9M943.1 488.7Q833 405 838.5 266.8M943.9 487.6Q833 405 838.8 266.8" stroke="#743c42" stroke-width="1.1" stroke-opacity="0.72" fill="none"/>
<path d="M938.1 315.2Q833 405 694.8 400.3M938.2 315.2Q833 405 694.8 400.7M938.7 315.8Q833 405 694.7 401.7M937.6 314.5Q833 405 694.8 399.9M938.9 316.1Q833 405 694.8 399.9" stroke="#743c42" stroke-width="1.2" stroke-opacity="0.72" fill="none"/>
<path d="M938.3 315.4Q833 405 810.4 541.4M939.2 316.5Q833 405 808.8 541.2M939 316.2Q833 405 810 541.4M937.7 314.6Q833 405 808.4 541.1" stroke="#743c42" stroke-width="1.1" stroke-opacity="0.72" fill="none"/>
<path d="M960.4 351.1Q833 405 695.5 389.9M960 350.3Q833 405 695.5 390.2M959.8 349.7Q833 405 695.4 390.8M959.9 349.9Q833 405 695.4 391.2" stroke="#743c42" stroke-width="1.1" stroke-opacity="0.72" fill="none"/>
<path d="M966.7 440.4Q833 405 784.8 275.4M966.8 440Q833 405 787 274.6M966.5 441.2Q833 405 785.1 275.3M966.6 440.8Q833 405 786.1 274.9" stroke="#743c42" stroke-width="1.1" stroke-opacity="0.72" fill="none"/>
<path d="M925.5 507.8Q833 405 880.6 275.2M926.2 507.2Q833 405 881.2 275.4M925.4 507.9Q833 405 879.4 274.7" stroke="#743c42" stroke-width="1.0" stroke-opacity="0.6" fill="none"/>
<path d="M900 526Q833 405 870.4 271.9M900.7 525.6Q833 405 870.7 271.9M900.3 525.8Q833 405 869.1 271.5" stroke="#743c42" stroke-width="1.0" stroke-opacity="0.6" fill="none"/>
<path d="M861 540.4Q833 405 719.8 325.6M862.6 540.1Q833 405 719.8 325.5M863.1 540Q833 405 719.3 326.2" stroke="#743c42" stroke-width="1.0" stroke-opacity="0.6" fill="none"/>
<path d="M803.9 540.2Q833 405 785.4 275.2M806.5 540.7Q833 405 785.9 275M804.5 540.3Q833 405 785.1 275.2" stroke="#743c42" stroke-width="1.0" stroke-opacity="0.6" fill="none"/>
<path d="M771.5 528.9Q833 405 971.2 398.8M770.4 528.3Q833 405 971.1 396.8M771.4 528.8Q833 405 971.1 397.4M771.2 528.7Q833 405 971.1 396.7" stroke="#743c42" stroke-width="1.0" stroke-opacity="0.6" fill="none"/>
<path d="M737 504.6Q833 405 969.3 428.2M736.5 504.1Q833 405 969.2 429.2" stroke="#743c42" stroke-width="0.8" stroke-opacity="0.6" fill="none"/>
<path d="M710.7 469.6Q833 405 966.7 440.6M710.7 469.6Q833 405 966.4 441.5M710.4 468.9Q833 405 966.5 441.3" stroke="#743c42" stroke-width="1.0" stroke-opacity="0.6" fill="none"/>
<path d="M696.9 429.4Q833 405 921.5 511.3M696.6 427.9Q833 405 922.2 510.7M696.8 428.9Q833 405 921.2 511.5M696.4 426.6Q833 405 921.9 510.9M696.6 427.9Q833 405 922.3 510.6" stroke="#743c42" stroke-width="1.2" stroke-opacity="0.72" fill="none"/>
<path d="M697.6 433.1Q833 405 897.9 527.1M697.8 434.3Q833 405 897 527.6M697.6 433.3Q833 405 897.7 527.2" stroke="#743c42" stroke-width="0.9" stroke-opacity="0.6" fill="none"/>
<path d="M772.4 529.3Q833 405 880.1 275M772.9 529.6Q833 405 879.9 274.9" stroke="#743c42" stroke-width="0.8" stroke-opacity="0.6" fill="none"/>
<path d="M694.8 400.6Q833 405 803.6 540.1M694.8 400.9Q833 405 803.1 540M694.8 399.3Q833 405 804.7 540.4" stroke="#743c42" stroke-width="0.9" stroke-opacity="0.6" fill="none"/>
<path d="M913.8 292.8Q833 405 955.7 468.7M914.8 293.5Q833 405 954.9 470.4" stroke="#743c42" stroke-width="0.8" stroke-opacity="0.6" fill="none"/>
<path d="M961.7 354.4Q833 405 751.9 293M961.4 353.5Q833 405 751.5 293.3" stroke="#743c42" stroke-width="0.8" stroke-opacity="0.6" fill="none"/>
<path d="M971.2 399.2Q833 405 801.4 539.6M971.2 399.9Q833 405 801.9 539.8M971.2 399.6Q833 405 801.5 539.7" stroke="#743c42" stroke-width="0.9" stroke-opacity="0.6" fill="none"/>
<path d="M954.6 470.9Q833 405 710.2 468.7M953.5 472.8Q833 405 709.6 467.4" stroke="#743c42" stroke-width="0.8" stroke-opacity="0.6" fill="none"/>
<path d="M924.3 508.9Q833 405 695.2 392.8M923.5 509.6Q833 405 695.3 392.2" stroke="#743c42" stroke-width="0.8" stroke-opacity="0.6" fill="none"/>
<path d="M892.9 529.7Q833 405 939.4 316.7M894 529.1Q833 405 939.9 317.3" stroke="#743c42" stroke-width="0.8" stroke-opacity="0.6" fill="none"/>
<path d="M707.7 346.5Q833 405 883.1 276.1M707.9 346.1Q833 405 883.6 276.3" stroke="#743c42" stroke-width="0.8" stroke-opacity="0.6" fill="none"/>
<path d="M750.4 294Q833 405 737.9 505.4M748.9 295.2Q833 405 737 504.6" stroke="#743c42" stroke-width="0.8" stroke-opacity="0.6" fill="none"/>
<path d="M912.4 291.8Q833 405 969.8 425.3" stroke="#7a4046" stroke-width="0.8" stroke-opacity="0.65" fill="none"/>
<path d="M708.2 345.4Q833 405 873.6 537.2" stroke="#7a4046" stroke-width="0.8" stroke-opacity="0.65" fill="none"/>
<path d="M769.6 527.9Q833 405 968.5 432.7M770.1 528.2Q833 405 968.9 430.7" stroke="#7a4046" stroke-width="0.7" stroke-opacity="0.65" fill="none"/>
<path d="M802 539.8Q833 405 729.9 312.8M800.3 539.4Q833 405 729.7 313" stroke="#7a4046" stroke-width="0.7" stroke-opacity="0.65" fill="none"/>
<path d="M857.7 541.1Q833 405 969.8 384.5M860.1 540.6Q833 405 970 385.8M860.5 540.5Q833 405 970 386.1" stroke="#7a4046" stroke-width="1.0" stroke-opacity="0.65" fill="none"/>
<path d="M879.9 274.9Q833 405 699.1 370.5" stroke="#7a4046" stroke-width="0.8" stroke-opacity="0.65" fill="none"/>
<path d="M696.8 429Q833 405 748.2 295.8M696.3 426.1Q833 405 746.4 297.2" stroke="#7a4046" stroke-width="0.7" stroke-opacity="0.65" fill="none"/>
<path d="M697.2 431.4Q833 405 741.5 301.3M697 430.4Q833 405 740.8 301.9" stroke="#7a4046" stroke-width="0.7" stroke-opacity="0.65" fill="none"/>
<path d="M911.9 291.4Q833 405 741.8 301.1M910.5 290.5Q833 405 740.8 301.9M912.5 291.8Q833 405 742.3 300.6" stroke="#7a4046" stroke-width="0.7" stroke-opacity="0.65" fill="none"/>
<path d="M736.5 504.1Q833 405 782.8 276.1M735.5 503Q833 405 780.9 276.9" stroke="#7a4046" stroke-width="0.8" stroke-opacity="0.65" fill="none"/>
<path d="M694.7 408.6Q833 405 958.3 463.5M966.7 440.4Q833 405 696.7 428.6M971.3 405.8Q833 405 703.3 357M712.5 337Q833 405 920.8 511.9M939.5 316.7Q833 405 694.7 404.8M733.8 308.6Q833 405 892.6 280.2M830.8 543.3Q833 405 960.4 458.9M927 506.4Q833 405 717.8 481.6M887 532.3Q833 405 744.2 511M832.6 543.3Q833 405 918 295.9M715.5 332.1Q833 405 960 459.7M970 423.6Q833 405 890.4 279.2M706 350.3Q833 405 854.9 268.4M851.6 542Q833 405 781.6 276.6M845.6 542.7Q833 405 696.9 380.5M730.3 497.7Q833 405 727 316.2M700 367.1Q833 405 741 508.2M835.5 543.3Q833 405 853.2 268.2M841.1 543.1Q833 405 697.9 375.3M869.7 538.3Q833 405 694.7 404M965.7 366Q833 405 832.9 543.3M746.8 296.8Q833 405 931.1 307.5M918.4 296.2Q833 405 897.8 527.2M694.7 408.1Q833 405 946.1 484.5M819.1 267.4Q833 405 967.3 438M700.1 443.3Q833 405 881.1 275.3M776.9 278.6Q833 405 897.7 282.8M725.9 317.5Q833 405 858.8 540.9M831.1 543.3Q833 405 906.2 287.7M880.7 275.2Q833 405 968.4 433.3M698.1 435.5Q833 405 852.4 268.1M899.6 283.8Q833 405 806.6 540.8M772.8 529.5Q833 405 794.6 272.1M962.1 454.6Q833 405 942.1 320M753.4 518.1Q833 405 935 311.6M834.8 543.3Q833 405 787.2 274.5M862.8 270Q833 405 969.3 381.8M871 538Q833 405 712.7 336.9M968.1 434.7Q833 405 855.4 268.5M913.4 292.5Q833 405 893.1 529.6M695.6 420.7Q833 405 871.1 537.9M798.4 271.1Q833 405 826.2 543.1M963.7 359.8Q833 405 769.9 281.9M970.8 392.8Q833 405 726.3 493M778.2 278Q833 405 946.5 484M707.8 463.7Q833 405 950.5 332M933.4 309.8Q833 405 819 542.6M834.9 543.3Q833 405 759.4 287.9M842.3 543Q833 405 799 270.9M947.9 482Q833 405 698.8 371.7M927.1 303.7Q833 405 696.7 381.5M953.1 473.5Q833 405 717.2 329.4M969.9 424.4Q833 405 802.5 270.1M701.2 447Q833 405 954.6 470.8M942.5 489.5Q833 405 755.8 519.7M963.7 359.8Q833 405 869.4 271.6M872.3 272.4Q833 405 774 530.1M819.7 542.7Q833 405 729.8 313M804.1 540.2Q833 405 694.9 411.8M698.6 372.5Q833 405 832.9 266.7M841.7 267Q833 405 796.1 538.3M735.3 502.9Q833 405 855.1 541.5M731.3 498.7Q833 405 861.9 540.2M700.2 366.5Q833 405 970.8 416.7M965.3 364.7Q833 405 722.4 488.1M918.9 296.6Q833 405 931.2 502.4M962.6 453.3Q833 405 698.3 373.7M861.7 269.7Q833 405 696.4 426.8M910.4 519.6Q833 405 699.6 368.5M958.2 346.2Q833 405 760.2 522.6" stroke="#8a5a60" stroke-width="0.5" stroke-opacity="0.5" fill="none"/>
<g class="tl">
<text x="829" y="49">a</text>
<text x="829" y="79">b</text>
<text x="829" y="126">c</text>
<text x="829" y="170">d</text>
<text x="829" y="220">e</text>
<text x="829" y="262">f</text>
</g>
</svg></body></html>
